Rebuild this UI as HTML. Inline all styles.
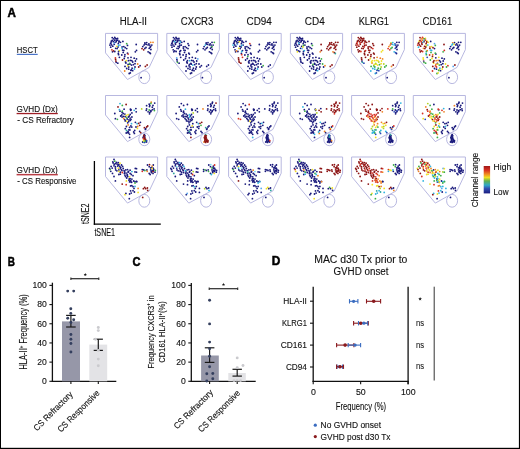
<!DOCTYPE html>
<html><head><meta charset="utf-8"><style>
html,body{margin:0;padding:0;background:#fff;}
svg{display:block;font-family:"Liberation Sans", sans-serif;will-change:transform;}
</style></head><body>
<svg width="520" height="449" viewBox="0 0 520 449">
<rect x="0" y="0" width="520" height="1" fill="#000"/>
<rect x="0" y="0" width="1" height="449" fill="#000"/>
<rect x="518.9" y="0" width="1.1" height="449" fill="#000"/>
<rect x="0" y="447.8" width="520" height="1.2" fill="#000"/>
<text x="7.4" y="17.0" font-size="12" textLength="8.4" lengthAdjust="spacingAndGlyphs" font-weight="bold" stroke="#000" stroke-width="0.5">A</text>
<text x="7.8" y="265.8" font-size="12" textLength="7.2" lengthAdjust="spacingAndGlyphs" font-weight="bold" stroke="#000" stroke-width="0.5">B</text>
<text x="132.4" y="265.9" font-size="12" textLength="8.0" lengthAdjust="spacingAndGlyphs" font-weight="bold" stroke="#000" stroke-width="0.5">C</text>
<text x="271.8" y="264.8" font-size="12" textLength="8.6" lengthAdjust="spacingAndGlyphs" font-weight="bold" stroke="#000" stroke-width="0.5">D</text>
<text x="119.7" y="25.0" font-size="10" textLength="27.3" lengthAdjust="spacingAndGlyphs" fill="#111" stroke="#111" stroke-width="0.12">HLA-II</text>
<text x="180.8" y="25.0" font-size="10" textLength="32.6" lengthAdjust="spacingAndGlyphs" fill="#111" stroke="#111" stroke-width="0.12">CXCR3</text>
<text x="246.5" y="25.0" font-size="10" textLength="25.3" lengthAdjust="spacingAndGlyphs" fill="#111" stroke="#111" stroke-width="0.12">CD94</text>
<text x="304.8" y="25.0" font-size="10" textLength="19.9" lengthAdjust="spacingAndGlyphs" fill="#111" stroke="#111" stroke-width="0.12">CD4</text>
<text x="358.7" y="25.0" font-size="10" textLength="30.3" lengthAdjust="spacingAndGlyphs" fill="#111" stroke="#111" stroke-width="0.12">KLRG1</text>
<text x="422.5" y="25.0" font-size="10" textLength="29.7" lengthAdjust="spacingAndGlyphs" fill="#111" stroke="#111" stroke-width="0.12">CD161</text>
<text x="16.8" y="52.7" font-size="8.7" textLength="20.9" lengthAdjust="spacingAndGlyphs" fill="#111" stroke="#111" stroke-width="0.12">HSCT</text>
<rect x="16.8" y="53.8" width="20.9" height="1.2" fill="#4a74c8"/>
<text x="16.6" y="111.8" font-size="8.7" textLength="41.2" lengthAdjust="spacingAndGlyphs" fill="#111" stroke="#111" stroke-width="0.12">GVHD (Dx)</text>
<rect x="16.6" y="112.9" width="41.2" height="1.3" fill="#9e1e26"/>
<text x="17.2" y="123.0" font-size="9.2" textLength="56.6" lengthAdjust="spacingAndGlyphs" fill="#111" stroke="#111" stroke-width="0.12">- CS Refractory</text>
<text x="16.6" y="173.1" font-size="8.7" textLength="41.2" lengthAdjust="spacingAndGlyphs" fill="#111" stroke="#111" stroke-width="0.12">GVHD (Dx)</text>
<rect x="16.6" y="173.9" width="41.2" height="1.5" fill="#b83c44"/>
<text x="17.2" y="183.9" font-size="9.2" textLength="59.3" lengthAdjust="spacingAndGlyphs" fill="#111" stroke="#111" stroke-width="0.12">- CS Responsive</text>
<line x1="94.4" y1="161" x2="94.4" y2="224.8" stroke="#000" stroke-width="1.3"/>
<line x1="93.8" y1="224.2" x2="160.8" y2="224.2" stroke="#000" stroke-width="1.3"/>
<text x="94.4" y="236.1" font-size="10" textLength="20.6" lengthAdjust="spacingAndGlyphs" fill="#111" stroke="#111" stroke-width="0.12">tSNE1</text>
<text x="89.0" y="224.1" font-size="10" textLength="20.6" lengthAdjust="spacingAndGlyphs" fill="#111" transform="rotate(-90 89.0 224.1)" stroke="#111" stroke-width="0.12">tSNE2</text>
<g transform="translate(105.5 33.4)"><path d="M0,0 H52.1 V16.2 L43.7,34 L22,46.1 L0,19.5 Z" fill="none" stroke="#b4b4de" stroke-width="0.95"/><ellipse cx="38.8" cy="43.8" rx="5.5" ry="6.4" fill="none" stroke="#b4b4de" stroke-width="0.95"/></g>
<g transform="translate(166.8 33.4)"><path d="M0,0 H52.6 V16.2 L44.2,34 L22,46.1 L0,19.5 Z" fill="none" stroke="#b4b4de" stroke-width="0.95"/><ellipse cx="39.3" cy="43.8" rx="5.5" ry="6.4" fill="none" stroke="#b4b4de" stroke-width="0.95"/></g>
<g transform="translate(228.6 33.4)"><path d="M0,0 H52.6 V16.2 L44.2,34 L22,46.1 L0,19.5 Z" fill="none" stroke="#b4b4de" stroke-width="0.95"/><ellipse cx="39.3" cy="43.8" rx="5.5" ry="6.4" fill="none" stroke="#b4b4de" stroke-width="0.95"/></g>
<g transform="translate(290.4 33.4)"><path d="M0,0 H52.2 V16.2 L43.8,34 L22,46.1 L0,19.5 Z" fill="none" stroke="#b4b4de" stroke-width="0.95"/><ellipse cx="38.9" cy="43.8" rx="5.5" ry="6.4" fill="none" stroke="#b4b4de" stroke-width="0.95"/></g>
<g transform="translate(351.6 33.4)"><path d="M0,0 H52.8 V16.2 L44.4,34 L22,46.1 L0,19.5 Z" fill="none" stroke="#b4b4de" stroke-width="0.95"/><ellipse cx="39.5" cy="43.8" rx="5.5" ry="6.4" fill="none" stroke="#b4b4de" stroke-width="0.95"/></g>
<g transform="translate(413.3 33.4)"><path d="M0,0 H52.1 V16.2 L43.7,34 L22,46.1 L0,19.5 Z" fill="none" stroke="#b4b4de" stroke-width="0.95"/><ellipse cx="38.8" cy="43.8" rx="5.5" ry="6.4" fill="none" stroke="#b4b4de" stroke-width="0.95"/></g>
<g transform="translate(105.5 95.5)"><path d="M0,0 H52.1 V16.2 L43.7,34 L22,46.1 L0,19.5 Z" fill="none" stroke="#b4b4de" stroke-width="0.95"/><ellipse cx="38.8" cy="43.8" rx="5.5" ry="6.4" fill="none" stroke="#b4b4de" stroke-width="0.95"/></g>
<g transform="translate(166.8 95.5)"><path d="M0,0 H52.6 V16.2 L44.2,34 L22,46.1 L0,19.5 Z" fill="none" stroke="#b4b4de" stroke-width="0.95"/><ellipse cx="39.3" cy="43.8" rx="5.5" ry="6.4" fill="none" stroke="#b4b4de" stroke-width="0.95"/></g>
<g transform="translate(228.6 95.5)"><path d="M0,0 H52.6 V16.2 L44.2,34 L22,46.1 L0,19.5 Z" fill="none" stroke="#b4b4de" stroke-width="0.95"/><ellipse cx="39.3" cy="43.8" rx="5.5" ry="6.4" fill="none" stroke="#b4b4de" stroke-width="0.95"/></g>
<g transform="translate(290.4 95.5)"><path d="M0,0 H52.2 V16.2 L43.8,34 L22,46.1 L0,19.5 Z" fill="none" stroke="#b4b4de" stroke-width="0.95"/><ellipse cx="38.9" cy="43.8" rx="5.5" ry="6.4" fill="none" stroke="#b4b4de" stroke-width="0.95"/></g>
<g transform="translate(351.6 95.5)"><path d="M0,0 H52.8 V16.2 L44.4,34 L22,46.1 L0,19.5 Z" fill="none" stroke="#b4b4de" stroke-width="0.95"/><ellipse cx="39.5" cy="43.8" rx="5.5" ry="6.4" fill="none" stroke="#b4b4de" stroke-width="0.95"/></g>
<g transform="translate(413.3 95.5)"><path d="M0,0 H52.1 V16.2 L43.7,34 L22,46.1 L0,19.5 Z" fill="none" stroke="#b4b4de" stroke-width="0.95"/><ellipse cx="38.8" cy="43.8" rx="5.5" ry="6.4" fill="none" stroke="#b4b4de" stroke-width="0.95"/></g>
<g transform="translate(105.5 157.0)"><path d="M0,0 H52.1 V16.2 L43.7,34 L22,46.1 L0,19.5 Z" fill="none" stroke="#b4b4de" stroke-width="0.95"/><ellipse cx="38.8" cy="43.8" rx="5.5" ry="6.4" fill="none" stroke="#b4b4de" stroke-width="0.95"/></g>
<g transform="translate(166.8 157.0)"><path d="M0,0 H52.6 V16.2 L44.2,34 L22,46.1 L0,19.5 Z" fill="none" stroke="#b4b4de" stroke-width="0.95"/><ellipse cx="39.3" cy="43.8" rx="5.5" ry="6.4" fill="none" stroke="#b4b4de" stroke-width="0.95"/></g>
<g transform="translate(228.6 157.0)"><path d="M0,0 H52.6 V16.2 L44.2,34 L22,46.1 L0,19.5 Z" fill="none" stroke="#b4b4de" stroke-width="0.95"/><ellipse cx="39.3" cy="43.8" rx="5.5" ry="6.4" fill="none" stroke="#b4b4de" stroke-width="0.95"/></g>
<g transform="translate(290.4 157.0)"><path d="M0,0 H52.2 V16.2 L43.8,34 L22,46.1 L0,19.5 Z" fill="none" stroke="#b4b4de" stroke-width="0.95"/><ellipse cx="38.9" cy="43.8" rx="5.5" ry="6.4" fill="none" stroke="#b4b4de" stroke-width="0.95"/></g>
<g transform="translate(351.6 157.0)"><path d="M0,0 H52.8 V16.2 L44.4,34 L22,46.1 L0,19.5 Z" fill="none" stroke="#b4b4de" stroke-width="0.95"/><ellipse cx="39.5" cy="43.8" rx="5.5" ry="6.4" fill="none" stroke="#b4b4de" stroke-width="0.95"/></g>
<g transform="translate(413.3 157.0)"><path d="M0,0 H52.1 V16.2 L43.7,34 L22,46.1 L0,19.5 Z" fill="none" stroke="#b4b4de" stroke-width="0.95"/><ellipse cx="38.8" cy="43.8" rx="5.5" ry="6.4" fill="none" stroke="#b4b4de" stroke-width="0.95"/></g>
<g transform="translate(105.5 33.4)"><circle cx="5.0" cy="10.0" r="0.9" fill="#1a1a7c"/><circle cx="5.8" cy="7.8" r="0.9" fill="#1a1a7c"/><circle cx="7.9" cy="5.4" r="0.9" fill="#1a1a7c"/><circle cx="10.8" cy="8.3" r="0.9" fill="#1a1a7c"/><circle cx="8.7" cy="10.9" r="0.9" fill="#1a1a7c"/><circle cx="7.3" cy="12.8" r="0.9" fill="#1a1a7c"/><circle cx="12.5" cy="13.6" r="0.9" fill="#1a1a7c"/><circle cx="9.2" cy="4.1" r="0.9" fill="#1a1a7c"/><circle cx="5.2" cy="13.8" r="0.9" fill="#1a1a7c"/><circle cx="15.0" cy="8.9" r="0.9" fill="#1a1a7c"/><circle cx="12.1" cy="4.9" r="0.9" fill="#1a1a7c"/><circle cx="9.5" cy="8.9" r="0.9" fill="#1a1a7c"/><circle cx="41.2" cy="9.2" r="0.9" fill="#1a1a7c"/><circle cx="43.4" cy="10.4" r="0.9" fill="#1a1a7c"/><circle cx="44.6" cy="13.8" r="0.9" fill="#1a1a7c"/><circle cx="39.4" cy="15.0" r="0.9" fill="#1a1a7c"/><circle cx="18.7" cy="25.1" r="0.9" fill="#1a1a7c"/><circle cx="20.4" cy="29.6" r="0.9" fill="#1a1a7c"/><circle cx="24.5" cy="30.8" r="0.9" fill="#1a1a7c"/><circle cx="21.2" cy="35.1" r="0.9" fill="#1a1a7c"/><circle cx="20.0" cy="28.6" r="0.9" fill="#1a1a7c"/><circle cx="27.2" cy="28.6" r="0.9" fill="#1a1a7c"/><circle cx="25.9" cy="36.4" r="0.9" fill="#1a1a7c"/><circle cx="23.7" cy="40.1" r="0.9" fill="#1a1a7c"/><circle cx="22.5" cy="24.4" r="0.9" fill="#1a1a7c"/><circle cx="6.7" cy="4.2" r="0.9" fill="#1a1a7c"/><circle cx="9.9" cy="5.1" r="0.9" fill="#1a1a7c"/><circle cx="11.1" cy="5.4" r="0.9" fill="#1a1a7c"/><circle cx="6.7" cy="7.1" r="0.9" fill="#1a1a7c"/><circle cx="9.0" cy="6.8" r="0.9" fill="#1a1a7c"/><circle cx="10.8" cy="7.1" r="0.9" fill="#1a1a7c"/><circle cx="12.2" cy="6.8" r="0.9" fill="#1a1a7c"/><circle cx="13.7" cy="7.7" r="0.9" fill="#1a1a7c"/><circle cx="7.9" cy="8.3" r="0.9" fill="#1a1a7c"/><circle cx="13.4" cy="8.6" r="0.9" fill="#1a1a7c"/><circle cx="17.4" cy="8.0" r="0.9" fill="#1a1a7c"/><circle cx="5.6" cy="9.4" r="0.9" fill="#1a1a7c"/><circle cx="4.4" cy="11.7" r="0.9" fill="#1a1a7c"/><circle cx="6.1" cy="11.5" r="0.9" fill="#1a1a7c"/><circle cx="12.8" cy="10.3" r="0.9" fill="#1a1a7c"/><circle cx="22.0" cy="12.0" r="0.9" fill="#1a1a7c"/><circle cx="16.6" cy="13.5" r="0.9" fill="#1a1a7c"/><circle cx="18.3" cy="13.2" r="0.9" fill="#1a1a7c"/><circle cx="19.7" cy="14.3" r="0.9" fill="#1a1a7c"/><circle cx="21.2" cy="15.2" r="0.9" fill="#1a1a7c"/><circle cx="10.2" cy="14.9" r="0.9" fill="#1a1a7c"/><circle cx="11.6" cy="15.2" r="0.9" fill="#1a1a7c"/><circle cx="9.3" cy="18.1" r="0.9" fill="#1a1a7c"/><circle cx="7.0" cy="18.4" r="0.9" fill="#1a1a7c"/><circle cx="13.1" cy="18.1" r="0.9" fill="#1a1a7c"/><circle cx="17.1" cy="16.7" r="0.9" fill="#1a1a7c"/><circle cx="18.3" cy="17.0" r="0.9" fill="#1a1a7c"/><circle cx="17.7" cy="19.0" r="0.9" fill="#1a1a7c"/><circle cx="12.8" cy="20.1" r="0.9" fill="#1a1a7c"/><circle cx="13.1" cy="21.3" r="0.9" fill="#1a1a7c"/><circle cx="16.3" cy="21.6" r="0.9" fill="#1a1a7c"/><circle cx="19.4" cy="21.3" r="0.9" fill="#1a1a7c"/><circle cx="22.0" cy="19.8" r="0.9" fill="#1a1a7c"/><circle cx="19.2" cy="23.0" r="0.9" fill="#1a1a7c"/><circle cx="13.9" cy="23.9" r="0.9" fill="#1a1a7c"/><circle cx="25.5" cy="23.9" r="0.9" fill="#1a1a7c"/><circle cx="30.7" cy="11.1" r="0.9" fill="#1a1a7c"/><circle cx="31.0" cy="17.0" r="0.9" fill="#1a1a7c"/><circle cx="29.8" cy="18.4" r="0.9" fill="#1a1a7c"/><circle cx="39.4" cy="9.4" r="0.9" fill="#1a1a7c"/><circle cx="39.4" cy="10.6" r="0.9" fill="#1a1a7c"/><circle cx="40.8" cy="10.9" r="0.9" fill="#1a1a7c"/><circle cx="42.6" cy="11.5" r="0.9" fill="#1a1a7c"/><circle cx="44.3" cy="11.7" r="0.9" fill="#1a1a7c"/><circle cx="46.3" cy="11.7" r="0.9" fill="#1a1a7c"/><circle cx="45.2" cy="13.2" r="0.9" fill="#1a1a7c"/><circle cx="38.5" cy="11.7" r="0.9" fill="#1a1a7c"/><circle cx="37.3" cy="13.2" r="0.9" fill="#1a1a7c"/><circle cx="40.5" cy="14.1" r="0.9" fill="#1a1a7c"/><circle cx="43.7" cy="14.9" r="0.9" fill="#1a1a7c"/><circle cx="45.4" cy="16.1" r="0.9" fill="#1a1a7c"/><circle cx="42.6" cy="18.4" r="0.9" fill="#1a1a7c"/><circle cx="44.0" cy="19.3" r="0.9" fill="#1a1a7c"/><circle cx="44.9" cy="20.1" r="0.9" fill="#1a1a7c"/><circle cx="28.7" cy="24.8" r="0.9" fill="#1a1a7c"/><circle cx="31.0" cy="25.5" r="0.9" fill="#1a1a7c"/><circle cx="10.7" cy="28.9" r="0.9" fill="#1a1a7c"/><circle cx="12.3" cy="29.8" r="0.9" fill="#1a1a7c"/><circle cx="22.9" cy="27.3" r="0.9" fill="#1a1a7c"/><circle cx="24.8" cy="27.0" r="0.9" fill="#1a1a7c"/><circle cx="26.3" cy="27.3" r="0.9" fill="#1a1a7c"/><circle cx="22.6" cy="31.1" r="0.9" fill="#1a1a7c"/><circle cx="26.0" cy="31.7" r="0.9" fill="#1a1a7c"/><circle cx="19.5" cy="33.0" r="0.9" fill="#1a1a7c"/><circle cx="23.2" cy="33.6" r="0.9" fill="#1a1a7c"/><circle cx="23.2" cy="35.8" r="0.9" fill="#1a1a7c"/><circle cx="26.6" cy="34.8" r="0.9" fill="#1a1a7c"/><circle cx="25.4" cy="37.0" r="0.9" fill="#1a1a7c"/><circle cx="24.8" cy="39.5" r="0.9" fill="#1a1a7c"/><circle cx="29.9" cy="27.6" r="0.9" fill="#1a1a7c"/><circle cx="29.5" cy="30.3" r="0.9" fill="#1a1a7c"/><circle cx="27.9" cy="31.3" r="0.9" fill="#1a1a7c"/><circle cx="29.5" cy="33.6" r="0.9" fill="#1a1a7c"/><circle cx="27.2" cy="37.3" r="0.9" fill="#1a1a7c"/><circle cx="34.6" cy="32.3" r="0.9" fill="#1a1a7c"/><circle cx="35.6" cy="44.3" r="0.9" fill="#1a1a7c"/><circle cx="22.2" cy="32.4" r="0.9" fill="#f0e024"/><circle cx="8.5" cy="9.7" r="0.9" fill="#5aa8f0"/><circle cx="21.2" cy="10.3" r="0.9" fill="#3cae48"/><circle cx="11.3" cy="12.9" r="0.9" fill="#f0e024"/><circle cx="14.5" cy="11.7" r="0.9" fill="#5aa8f0"/><circle cx="13.1" cy="12.0" r="0.9" fill="#30b4e0"/><circle cx="16.6" cy="14.9" r="0.9" fill="#30b4e0"/><circle cx="6.4" cy="16.4" r="0.9" fill="#d83224"/><circle cx="7.9" cy="17.5" r="0.9" fill="#8c1414"/><circle cx="13.9" cy="17.2" r="0.9" fill="#f0e024"/><circle cx="22.6" cy="20.7" r="0.9" fill="#d83224"/><circle cx="9.9" cy="24.5" r="0.9" fill="#d83224"/><circle cx="45.2" cy="8.9" r="0.9" fill="#f08424"/><circle cx="47.5" cy="8.9" r="0.9" fill="#f08424"/><circle cx="36.5" cy="15.2" r="0.9" fill="#8c1414"/><circle cx="38.2" cy="16.4" r="0.9" fill="#8c1414"/><circle cx="10.1" cy="26.1" r="0.9" fill="#8c1414"/><circle cx="10.4" cy="27.7" r="0.9" fill="#8c1414"/><circle cx="17.0" cy="26.6" r="0.9" fill="#8c1414"/><circle cx="20.7" cy="27.3" r="0.9" fill="#f0e024"/><circle cx="24.1" cy="30.1" r="0.9" fill="#3cae48"/><circle cx="19.2" cy="37.6" r="0.9" fill="#f08424"/><circle cx="32.2" cy="30.6" r="0.9" fill="#f08424"/><circle cx="28.9" cy="35.6" r="0.9" fill="#30b4e0"/><circle cx="33.2" cy="33.6" r="0.9" fill="#8c1414"/><circle cx="39.9" cy="33.0" r="0.9" fill="#8c1414"/><circle cx="41.6" cy="31.6" r="0.9" fill="#8c1414"/></g>
<g transform="translate(166.8 33.4)"><circle cx="5.0" cy="10.0" r="0.9" fill="#1a1a7c"/><circle cx="5.8" cy="7.8" r="0.9" fill="#1a1a7c"/><circle cx="7.9" cy="5.4" r="0.9" fill="#1a1a7c"/><circle cx="10.8" cy="8.3" r="0.9" fill="#1a1a7c"/><circle cx="8.7" cy="10.9" r="0.9" fill="#1a1a7c"/><circle cx="7.3" cy="12.8" r="0.9" fill="#1a1a7c"/><circle cx="12.5" cy="13.6" r="0.9" fill="#1a1a7c"/><circle cx="9.2" cy="4.1" r="0.9" fill="#1a1a7c"/><circle cx="5.2" cy="13.8" r="0.9" fill="#1a1a7c"/><circle cx="15.0" cy="8.9" r="0.9" fill="#1a1a7c"/><circle cx="12.1" cy="4.9" r="0.9" fill="#1a1a7c"/><circle cx="9.5" cy="8.9" r="0.9" fill="#1a1a7c"/><circle cx="41.2" cy="9.2" r="0.9" fill="#1a1a7c"/><circle cx="43.4" cy="10.4" r="0.9" fill="#1a1a7c"/><circle cx="44.6" cy="13.8" r="0.9" fill="#1a1a7c"/><circle cx="39.4" cy="15.0" r="0.9" fill="#1a1a7c"/><circle cx="18.7" cy="25.1" r="0.9" fill="#1a1a7c"/><circle cx="20.4" cy="29.6" r="0.9" fill="#1a1a7c"/><circle cx="22.2" cy="32.4" r="0.9" fill="#1a1a7c"/><circle cx="24.5" cy="30.8" r="0.9" fill="#1a1a7c"/><circle cx="21.2" cy="35.1" r="0.9" fill="#1a1a7c"/><circle cx="20.0" cy="28.6" r="0.9" fill="#1a1a7c"/><circle cx="27.2" cy="28.6" r="0.9" fill="#1a1a7c"/><circle cx="25.9" cy="36.4" r="0.9" fill="#1a1a7c"/><circle cx="23.7" cy="40.1" r="0.9" fill="#1a1a7c"/><circle cx="22.5" cy="24.4" r="0.9" fill="#1a1a7c"/><circle cx="6.7" cy="4.2" r="0.9" fill="#1a1a7c"/><circle cx="9.9" cy="5.1" r="0.9" fill="#1a1a7c"/><circle cx="11.1" cy="5.4" r="0.9" fill="#1a1a7c"/><circle cx="6.7" cy="7.1" r="0.9" fill="#1a1a7c"/><circle cx="9.0" cy="6.8" r="0.9" fill="#1a1a7c"/><circle cx="10.8" cy="7.1" r="0.9" fill="#1a1a7c"/><circle cx="12.2" cy="6.8" r="0.9" fill="#1a1a7c"/><circle cx="13.7" cy="7.7" r="0.9" fill="#1a1a7c"/><circle cx="17.4" cy="8.0" r="0.9" fill="#1a1a7c"/><circle cx="5.6" cy="9.4" r="0.9" fill="#1a1a7c"/><circle cx="8.5" cy="9.7" r="0.9" fill="#1a1a7c"/><circle cx="4.4" cy="11.7" r="0.9" fill="#1a1a7c"/><circle cx="6.1" cy="11.5" r="0.9" fill="#1a1a7c"/><circle cx="12.8" cy="10.3" r="0.9" fill="#1a1a7c"/><circle cx="21.2" cy="10.3" r="0.9" fill="#1a1a7c"/><circle cx="22.0" cy="12.0" r="0.9" fill="#1a1a7c"/><circle cx="11.3" cy="12.9" r="0.9" fill="#1a1a7c"/><circle cx="14.5" cy="11.7" r="0.9" fill="#1a1a7c"/><circle cx="13.1" cy="12.0" r="0.9" fill="#1a1a7c"/><circle cx="16.6" cy="13.5" r="0.9" fill="#1a1a7c"/><circle cx="18.3" cy="13.2" r="0.9" fill="#1a1a7c"/><circle cx="19.7" cy="14.3" r="0.9" fill="#1a1a7c"/><circle cx="21.2" cy="15.2" r="0.9" fill="#1a1a7c"/><circle cx="10.2" cy="14.9" r="0.9" fill="#1a1a7c"/><circle cx="11.6" cy="15.2" r="0.9" fill="#1a1a7c"/><circle cx="16.6" cy="14.9" r="0.9" fill="#1a1a7c"/><circle cx="6.4" cy="16.4" r="0.9" fill="#1a1a7c"/><circle cx="7.9" cy="17.5" r="0.9" fill="#1a1a7c"/><circle cx="9.3" cy="18.1" r="0.9" fill="#1a1a7c"/><circle cx="7.0" cy="18.4" r="0.9" fill="#1a1a7c"/><circle cx="13.9" cy="17.2" r="0.9" fill="#1a1a7c"/><circle cx="13.1" cy="18.1" r="0.9" fill="#1a1a7c"/><circle cx="17.1" cy="16.7" r="0.9" fill="#1a1a7c"/><circle cx="18.3" cy="17.0" r="0.9" fill="#1a1a7c"/><circle cx="17.7" cy="19.0" r="0.9" fill="#1a1a7c"/><circle cx="12.8" cy="20.1" r="0.9" fill="#1a1a7c"/><circle cx="13.1" cy="21.3" r="0.9" fill="#1a1a7c"/><circle cx="16.3" cy="21.6" r="0.9" fill="#1a1a7c"/><circle cx="19.4" cy="21.3" r="0.9" fill="#1a1a7c"/><circle cx="22.0" cy="19.8" r="0.9" fill="#1a1a7c"/><circle cx="22.6" cy="20.7" r="0.9" fill="#1a1a7c"/><circle cx="19.2" cy="23.0" r="0.9" fill="#1a1a7c"/><circle cx="13.9" cy="23.9" r="0.9" fill="#1a1a7c"/><circle cx="25.5" cy="23.9" r="0.9" fill="#1a1a7c"/><circle cx="30.7" cy="11.1" r="0.9" fill="#1a1a7c"/><circle cx="31.0" cy="17.0" r="0.9" fill="#1a1a7c"/><circle cx="29.8" cy="18.4" r="0.9" fill="#1a1a7c"/><circle cx="39.4" cy="9.4" r="0.9" fill="#1a1a7c"/><circle cx="39.4" cy="10.6" r="0.9" fill="#1a1a7c"/><circle cx="40.8" cy="10.9" r="0.9" fill="#1a1a7c"/><circle cx="42.6" cy="11.5" r="0.9" fill="#1a1a7c"/><circle cx="44.3" cy="11.7" r="0.9" fill="#1a1a7c"/><circle cx="46.3" cy="11.7" r="0.9" fill="#1a1a7c"/><circle cx="45.2" cy="8.9" r="0.9" fill="#1a1a7c"/><circle cx="37.3" cy="13.2" r="0.9" fill="#1a1a7c"/><circle cx="40.5" cy="14.1" r="0.9" fill="#1a1a7c"/><circle cx="36.5" cy="15.2" r="0.9" fill="#1a1a7c"/><circle cx="38.2" cy="16.4" r="0.9" fill="#1a1a7c"/><circle cx="43.7" cy="14.9" r="0.9" fill="#1a1a7c"/><circle cx="45.4" cy="16.1" r="0.9" fill="#1a1a7c"/><circle cx="42.6" cy="18.4" r="0.9" fill="#1a1a7c"/><circle cx="44.0" cy="19.3" r="0.9" fill="#1a1a7c"/><circle cx="44.9" cy="20.1" r="0.9" fill="#1a1a7c"/><circle cx="28.7" cy="24.8" r="0.9" fill="#1a1a7c"/><circle cx="10.1" cy="26.1" r="0.9" fill="#1a1a7c"/><circle cx="10.4" cy="27.7" r="0.9" fill="#1a1a7c"/><circle cx="12.3" cy="29.8" r="0.9" fill="#1a1a7c"/><circle cx="17.0" cy="26.6" r="0.9" fill="#1a1a7c"/><circle cx="20.7" cy="27.3" r="0.9" fill="#1a1a7c"/><circle cx="24.8" cy="27.0" r="0.9" fill="#1a1a7c"/><circle cx="26.3" cy="27.3" r="0.9" fill="#1a1a7c"/><circle cx="22.6" cy="31.1" r="0.9" fill="#1a1a7c"/><circle cx="24.1" cy="30.1" r="0.9" fill="#1a1a7c"/><circle cx="19.5" cy="33.0" r="0.9" fill="#1a1a7c"/><circle cx="23.2" cy="33.6" r="0.9" fill="#1a1a7c"/><circle cx="23.2" cy="35.8" r="0.9" fill="#1a1a7c"/><circle cx="26.6" cy="34.8" r="0.9" fill="#1a1a7c"/><circle cx="25.4" cy="37.0" r="0.9" fill="#1a1a7c"/><circle cx="19.2" cy="37.6" r="0.9" fill="#1a1a7c"/><circle cx="24.8" cy="39.5" r="0.9" fill="#1a1a7c"/><circle cx="29.9" cy="27.6" r="0.9" fill="#1a1a7c"/><circle cx="29.5" cy="30.3" r="0.9" fill="#1a1a7c"/><circle cx="32.2" cy="30.6" r="0.9" fill="#1a1a7c"/><circle cx="27.9" cy="31.3" r="0.9" fill="#1a1a7c"/><circle cx="29.5" cy="33.6" r="0.9" fill="#1a1a7c"/><circle cx="28.9" cy="35.6" r="0.9" fill="#1a1a7c"/><circle cx="27.2" cy="37.3" r="0.9" fill="#1a1a7c"/><circle cx="33.2" cy="33.6" r="0.9" fill="#1a1a7c"/><circle cx="34.6" cy="32.3" r="0.9" fill="#1a1a7c"/><circle cx="39.9" cy="33.0" r="0.9" fill="#1a1a7c"/><circle cx="41.6" cy="31.6" r="0.9" fill="#1a1a7c"/><circle cx="35.6" cy="44.3" r="0.9" fill="#1a1a7c"/><circle cx="7.9" cy="8.3" r="0.9" fill="#30b4e0"/><circle cx="13.4" cy="8.6" r="0.9" fill="#30b4e0"/><circle cx="9.9" cy="24.5" r="0.9" fill="#5aa8f0"/><circle cx="47.5" cy="8.9" r="0.9" fill="#3cae48"/><circle cx="45.2" cy="13.2" r="0.9" fill="#3cae48"/><circle cx="38.5" cy="11.7" r="0.9" fill="#30b4e0"/><circle cx="31.0" cy="25.5" r="0.9" fill="#5aa8f0"/><circle cx="10.7" cy="28.9" r="0.9" fill="#3cae48"/><circle cx="22.9" cy="27.3" r="0.9" fill="#30b4e0"/><circle cx="26.0" cy="31.7" r="0.9" fill="#30b4e0"/></g>
<g transform="translate(228.6 33.4)"><circle cx="5.0" cy="10.0" r="0.9" fill="#1a1a7c"/><circle cx="5.8" cy="7.8" r="0.9" fill="#1a1a7c"/><circle cx="7.9" cy="5.4" r="0.9" fill="#1a1a7c"/><circle cx="7.3" cy="12.8" r="0.9" fill="#1a1a7c"/><circle cx="12.5" cy="13.6" r="0.9" fill="#1a1a7c"/><circle cx="9.2" cy="4.1" r="0.9" fill="#1a1a7c"/><circle cx="5.2" cy="13.8" r="0.9" fill="#1a1a7c"/><circle cx="15.0" cy="8.9" r="0.9" fill="#1a1a7c"/><circle cx="12.1" cy="4.9" r="0.9" fill="#1a1a7c"/><circle cx="9.5" cy="8.9" r="0.9" fill="#1a1a7c"/><circle cx="41.2" cy="9.2" r="0.9" fill="#1a1a7c"/><circle cx="43.4" cy="10.4" r="0.9" fill="#1a1a7c"/><circle cx="44.6" cy="13.8" r="0.9" fill="#1a1a7c"/><circle cx="39.4" cy="15.0" r="0.9" fill="#1a1a7c"/><circle cx="18.7" cy="25.1" r="0.9" fill="#1a1a7c"/><circle cx="20.4" cy="29.6" r="0.9" fill="#1a1a7c"/><circle cx="22.2" cy="32.4" r="0.9" fill="#1a1a7c"/><circle cx="24.5" cy="30.8" r="0.9" fill="#1a1a7c"/><circle cx="21.2" cy="35.1" r="0.9" fill="#1a1a7c"/><circle cx="20.0" cy="28.6" r="0.9" fill="#1a1a7c"/><circle cx="27.2" cy="28.6" r="0.9" fill="#1a1a7c"/><circle cx="25.9" cy="36.4" r="0.9" fill="#1a1a7c"/><circle cx="23.7" cy="40.1" r="0.9" fill="#1a1a7c"/><circle cx="22.5" cy="24.4" r="0.9" fill="#1a1a7c"/><circle cx="6.7" cy="4.2" r="0.9" fill="#1a1a7c"/><circle cx="9.9" cy="5.1" r="0.9" fill="#1a1a7c"/><circle cx="11.1" cy="5.4" r="0.9" fill="#1a1a7c"/><circle cx="6.7" cy="7.1" r="0.9" fill="#1a1a7c"/><circle cx="9.0" cy="6.8" r="0.9" fill="#1a1a7c"/><circle cx="10.8" cy="7.1" r="0.9" fill="#1a1a7c"/><circle cx="12.2" cy="6.8" r="0.9" fill="#1a1a7c"/><circle cx="13.7" cy="7.7" r="0.9" fill="#1a1a7c"/><circle cx="7.9" cy="8.3" r="0.9" fill="#1a1a7c"/><circle cx="13.4" cy="8.6" r="0.9" fill="#1a1a7c"/><circle cx="17.4" cy="8.0" r="0.9" fill="#1a1a7c"/><circle cx="5.6" cy="9.4" r="0.9" fill="#1a1a7c"/><circle cx="8.5" cy="9.7" r="0.9" fill="#1a1a7c"/><circle cx="6.1" cy="11.5" r="0.9" fill="#1a1a7c"/><circle cx="12.8" cy="10.3" r="0.9" fill="#1a1a7c"/><circle cx="22.0" cy="12.0" r="0.9" fill="#1a1a7c"/><circle cx="11.3" cy="12.9" r="0.9" fill="#1a1a7c"/><circle cx="14.5" cy="11.7" r="0.9" fill="#1a1a7c"/><circle cx="16.6" cy="13.5" r="0.9" fill="#1a1a7c"/><circle cx="18.3" cy="13.2" r="0.9" fill="#1a1a7c"/><circle cx="19.7" cy="14.3" r="0.9" fill="#1a1a7c"/><circle cx="21.2" cy="15.2" r="0.9" fill="#1a1a7c"/><circle cx="11.6" cy="15.2" r="0.9" fill="#1a1a7c"/><circle cx="16.6" cy="14.9" r="0.9" fill="#1a1a7c"/><circle cx="6.4" cy="16.4" r="0.9" fill="#1a1a7c"/><circle cx="9.3" cy="18.1" r="0.9" fill="#1a1a7c"/><circle cx="7.0" cy="18.4" r="0.9" fill="#1a1a7c"/><circle cx="13.9" cy="17.2" r="0.9" fill="#1a1a7c"/><circle cx="17.1" cy="16.7" r="0.9" fill="#1a1a7c"/><circle cx="18.3" cy="17.0" r="0.9" fill="#1a1a7c"/><circle cx="17.7" cy="19.0" r="0.9" fill="#1a1a7c"/><circle cx="12.8" cy="20.1" r="0.9" fill="#1a1a7c"/><circle cx="16.3" cy="21.6" r="0.9" fill="#1a1a7c"/><circle cx="19.4" cy="21.3" r="0.9" fill="#1a1a7c"/><circle cx="22.0" cy="19.8" r="0.9" fill="#1a1a7c"/><circle cx="22.6" cy="20.7" r="0.9" fill="#1a1a7c"/><circle cx="25.5" cy="23.9" r="0.9" fill="#1a1a7c"/><circle cx="30.7" cy="11.1" r="0.9" fill="#1a1a7c"/><circle cx="31.0" cy="17.0" r="0.9" fill="#1a1a7c"/><circle cx="29.8" cy="18.4" r="0.9" fill="#1a1a7c"/><circle cx="39.4" cy="9.4" r="0.9" fill="#1a1a7c"/><circle cx="39.4" cy="10.6" r="0.9" fill="#1a1a7c"/><circle cx="40.8" cy="10.9" r="0.9" fill="#1a1a7c"/><circle cx="42.6" cy="11.5" r="0.9" fill="#1a1a7c"/><circle cx="44.3" cy="11.7" r="0.9" fill="#1a1a7c"/><circle cx="46.3" cy="11.7" r="0.9" fill="#1a1a7c"/><circle cx="45.2" cy="8.9" r="0.9" fill="#1a1a7c"/><circle cx="47.5" cy="8.9" r="0.9" fill="#1a1a7c"/><circle cx="45.2" cy="13.2" r="0.9" fill="#1a1a7c"/><circle cx="38.5" cy="11.7" r="0.9" fill="#1a1a7c"/><circle cx="37.3" cy="13.2" r="0.9" fill="#1a1a7c"/><circle cx="40.5" cy="14.1" r="0.9" fill="#1a1a7c"/><circle cx="36.5" cy="15.2" r="0.9" fill="#1a1a7c"/><circle cx="38.2" cy="16.4" r="0.9" fill="#1a1a7c"/><circle cx="43.7" cy="14.9" r="0.9" fill="#1a1a7c"/><circle cx="45.4" cy="16.1" r="0.9" fill="#1a1a7c"/><circle cx="42.6" cy="18.4" r="0.9" fill="#1a1a7c"/><circle cx="44.0" cy="19.3" r="0.9" fill="#1a1a7c"/><circle cx="44.9" cy="20.1" r="0.9" fill="#1a1a7c"/><circle cx="28.7" cy="24.8" r="0.9" fill="#1a1a7c"/><circle cx="31.0" cy="25.5" r="0.9" fill="#1a1a7c"/><circle cx="17.0" cy="26.6" r="0.9" fill="#1a1a7c"/><circle cx="20.7" cy="27.3" r="0.9" fill="#1a1a7c"/><circle cx="22.9" cy="27.3" r="0.9" fill="#1a1a7c"/><circle cx="24.8" cy="27.0" r="0.9" fill="#1a1a7c"/><circle cx="26.3" cy="27.3" r="0.9" fill="#1a1a7c"/><circle cx="22.6" cy="31.1" r="0.9" fill="#1a1a7c"/><circle cx="24.1" cy="30.1" r="0.9" fill="#1a1a7c"/><circle cx="26.0" cy="31.7" r="0.9" fill="#1a1a7c"/><circle cx="19.5" cy="33.0" r="0.9" fill="#1a1a7c"/><circle cx="23.2" cy="33.6" r="0.9" fill="#1a1a7c"/><circle cx="23.2" cy="35.8" r="0.9" fill="#1a1a7c"/><circle cx="26.6" cy="34.8" r="0.9" fill="#1a1a7c"/><circle cx="25.4" cy="37.0" r="0.9" fill="#1a1a7c"/><circle cx="19.2" cy="37.6" r="0.9" fill="#1a1a7c"/><circle cx="24.8" cy="39.5" r="0.9" fill="#1a1a7c"/><circle cx="29.9" cy="27.6" r="0.9" fill="#1a1a7c"/><circle cx="29.5" cy="30.3" r="0.9" fill="#1a1a7c"/><circle cx="32.2" cy="30.6" r="0.9" fill="#1a1a7c"/><circle cx="27.9" cy="31.3" r="0.9" fill="#1a1a7c"/><circle cx="29.5" cy="33.6" r="0.9" fill="#1a1a7c"/><circle cx="27.2" cy="37.3" r="0.9" fill="#1a1a7c"/><circle cx="33.2" cy="33.6" r="0.9" fill="#1a1a7c"/><circle cx="39.9" cy="33.0" r="0.9" fill="#1a1a7c"/><circle cx="41.6" cy="31.6" r="0.9" fill="#1a1a7c"/><circle cx="35.6" cy="44.3" r="0.9" fill="#1a1a7c"/><circle cx="10.8" cy="8.3" r="0.9" fill="#f0e024"/><circle cx="8.7" cy="10.9" r="0.9" fill="#5aa8f0"/><circle cx="4.4" cy="11.7" r="0.9" fill="#30b4e0"/><circle cx="21.2" cy="10.3" r="0.9" fill="#d83224"/><circle cx="13.1" cy="12.0" r="0.9" fill="#30b4e0"/><circle cx="10.2" cy="14.9" r="0.9" fill="#f0e024"/><circle cx="7.9" cy="17.5" r="0.9" fill="#f08424"/><circle cx="13.1" cy="18.1" r="0.9" fill="#30b4e0"/><circle cx="13.1" cy="21.3" r="0.9" fill="#d83224"/><circle cx="19.2" cy="23.0" r="0.9" fill="#3cae48"/><circle cx="13.9" cy="23.9" r="0.9" fill="#d83224"/><circle cx="9.9" cy="24.5" r="0.9" fill="#8c1414"/><circle cx="10.1" cy="26.1" r="0.9" fill="#8c1414"/><circle cx="10.4" cy="27.7" r="0.9" fill="#8c1414"/><circle cx="10.7" cy="28.9" r="0.9" fill="#8c1414"/><circle cx="12.3" cy="29.8" r="0.9" fill="#8c1414"/><circle cx="28.9" cy="35.6" r="0.9" fill="#30b4e0"/><circle cx="34.6" cy="32.3" r="0.9" fill="#3cae48"/></g>
<g transform="translate(290.4 33.4)"><circle cx="5.0" cy="10.0" r="0.9" fill="#1a1a7c"/><circle cx="5.8" cy="7.8" r="0.9" fill="#1a1a7c"/><circle cx="7.9" cy="5.4" r="0.9" fill="#1a1a7c"/><circle cx="10.8" cy="8.3" r="0.9" fill="#1a1a7c"/><circle cx="8.7" cy="10.9" r="0.9" fill="#1a1a7c"/><circle cx="7.3" cy="12.8" r="0.9" fill="#1a1a7c"/><circle cx="9.2" cy="4.1" r="0.9" fill="#1a1a7c"/><circle cx="5.2" cy="13.8" r="0.9" fill="#1a1a7c"/><circle cx="15.0" cy="8.9" r="0.9" fill="#1a1a7c"/><circle cx="12.1" cy="4.9" r="0.9" fill="#1a1a7c"/><circle cx="9.5" cy="8.9" r="0.9" fill="#1a1a7c"/><circle cx="18.7" cy="25.1" r="0.9" fill="#1a1a7c"/><circle cx="20.4" cy="29.6" r="0.9" fill="#1a1a7c"/><circle cx="22.2" cy="32.4" r="0.9" fill="#1a1a7c"/><circle cx="24.5" cy="30.8" r="0.9" fill="#1a1a7c"/><circle cx="21.2" cy="35.1" r="0.9" fill="#1a1a7c"/><circle cx="20.0" cy="28.6" r="0.9" fill="#1a1a7c"/><circle cx="27.2" cy="28.6" r="0.9" fill="#1a1a7c"/><circle cx="25.9" cy="36.4" r="0.9" fill="#1a1a7c"/><circle cx="23.7" cy="40.1" r="0.9" fill="#1a1a7c"/><circle cx="22.5" cy="24.4" r="0.9" fill="#1a1a7c"/><circle cx="6.7" cy="4.2" r="0.9" fill="#1a1a7c"/><circle cx="9.9" cy="5.1" r="0.9" fill="#1a1a7c"/><circle cx="11.1" cy="5.4" r="0.9" fill="#1a1a7c"/><circle cx="6.7" cy="7.1" r="0.9" fill="#1a1a7c"/><circle cx="9.0" cy="6.8" r="0.9" fill="#1a1a7c"/><circle cx="10.8" cy="7.1" r="0.9" fill="#1a1a7c"/><circle cx="12.2" cy="6.8" r="0.9" fill="#1a1a7c"/><circle cx="13.7" cy="7.7" r="0.9" fill="#1a1a7c"/><circle cx="7.9" cy="8.3" r="0.9" fill="#1a1a7c"/><circle cx="13.4" cy="8.6" r="0.9" fill="#1a1a7c"/><circle cx="17.4" cy="8.0" r="0.9" fill="#1a1a7c"/><circle cx="5.6" cy="9.4" r="0.9" fill="#1a1a7c"/><circle cx="4.4" cy="11.7" r="0.9" fill="#1a1a7c"/><circle cx="6.1" cy="11.5" r="0.9" fill="#1a1a7c"/><circle cx="12.8" cy="10.3" r="0.9" fill="#1a1a7c"/><circle cx="21.2" cy="10.3" r="0.9" fill="#1a1a7c"/><circle cx="11.3" cy="12.9" r="0.9" fill="#1a1a7c"/><circle cx="14.5" cy="11.7" r="0.9" fill="#1a1a7c"/><circle cx="16.6" cy="13.5" r="0.9" fill="#1a1a7c"/><circle cx="18.3" cy="13.2" r="0.9" fill="#1a1a7c"/><circle cx="19.7" cy="14.3" r="0.9" fill="#1a1a7c"/><circle cx="21.2" cy="15.2" r="0.9" fill="#1a1a7c"/><circle cx="10.2" cy="14.9" r="0.9" fill="#1a1a7c"/><circle cx="16.6" cy="14.9" r="0.9" fill="#1a1a7c"/><circle cx="6.4" cy="16.4" r="0.9" fill="#1a1a7c"/><circle cx="7.9" cy="17.5" r="0.9" fill="#1a1a7c"/><circle cx="9.3" cy="18.1" r="0.9" fill="#1a1a7c"/><circle cx="13.1" cy="18.1" r="0.9" fill="#1a1a7c"/><circle cx="17.1" cy="16.7" r="0.9" fill="#1a1a7c"/><circle cx="18.3" cy="17.0" r="0.9" fill="#1a1a7c"/><circle cx="17.7" cy="19.0" r="0.9" fill="#1a1a7c"/><circle cx="12.8" cy="20.1" r="0.9" fill="#1a1a7c"/><circle cx="13.1" cy="21.3" r="0.9" fill="#1a1a7c"/><circle cx="16.3" cy="21.6" r="0.9" fill="#1a1a7c"/><circle cx="19.4" cy="21.3" r="0.9" fill="#1a1a7c"/><circle cx="22.0" cy="19.8" r="0.9" fill="#1a1a7c"/><circle cx="22.6" cy="20.7" r="0.9" fill="#1a1a7c"/><circle cx="19.2" cy="23.0" r="0.9" fill="#1a1a7c"/><circle cx="13.9" cy="23.9" r="0.9" fill="#1a1a7c"/><circle cx="9.9" cy="24.5" r="0.9" fill="#1a1a7c"/><circle cx="25.5" cy="23.9" r="0.9" fill="#1a1a7c"/><circle cx="28.7" cy="24.8" r="0.9" fill="#1a1a7c"/><circle cx="10.1" cy="26.1" r="0.9" fill="#1a1a7c"/><circle cx="10.4" cy="27.7" r="0.9" fill="#1a1a7c"/><circle cx="10.7" cy="28.9" r="0.9" fill="#1a1a7c"/><circle cx="12.3" cy="29.8" r="0.9" fill="#1a1a7c"/><circle cx="17.0" cy="26.6" r="0.9" fill="#1a1a7c"/><circle cx="20.7" cy="27.3" r="0.9" fill="#1a1a7c"/><circle cx="22.9" cy="27.3" r="0.9" fill="#1a1a7c"/><circle cx="24.8" cy="27.0" r="0.9" fill="#1a1a7c"/><circle cx="26.3" cy="27.3" r="0.9" fill="#1a1a7c"/><circle cx="24.1" cy="30.1" r="0.9" fill="#1a1a7c"/><circle cx="26.0" cy="31.7" r="0.9" fill="#1a1a7c"/><circle cx="19.5" cy="33.0" r="0.9" fill="#1a1a7c"/><circle cx="23.2" cy="33.6" r="0.9" fill="#1a1a7c"/><circle cx="23.2" cy="35.8" r="0.9" fill="#1a1a7c"/><circle cx="26.6" cy="34.8" r="0.9" fill="#1a1a7c"/><circle cx="25.4" cy="37.0" r="0.9" fill="#1a1a7c"/><circle cx="19.2" cy="37.6" r="0.9" fill="#1a1a7c"/><circle cx="24.8" cy="39.5" r="0.9" fill="#1a1a7c"/><circle cx="29.9" cy="27.6" r="0.9" fill="#1a1a7c"/><circle cx="29.5" cy="30.3" r="0.9" fill="#1a1a7c"/><circle cx="27.9" cy="31.3" r="0.9" fill="#1a1a7c"/><circle cx="29.5" cy="33.6" r="0.9" fill="#1a1a7c"/><circle cx="28.9" cy="35.6" r="0.9" fill="#1a1a7c"/><circle cx="33.2" cy="33.6" r="0.9" fill="#1a1a7c"/><circle cx="35.6" cy="44.3" r="0.9" fill="#1a1a7c"/><circle cx="12.5" cy="13.6" r="0.9" fill="#f0e024"/><circle cx="41.2" cy="9.2" r="0.9" fill="#8c1414"/><circle cx="43.4" cy="10.4" r="0.9" fill="#8c1414"/><circle cx="44.6" cy="13.8" r="0.9" fill="#8c1414"/><circle cx="39.4" cy="15.0" r="0.9" fill="#8c1414"/><circle cx="8.5" cy="9.7" r="0.9" fill="#30b4e0"/><circle cx="22.0" cy="12.0" r="0.9" fill="#3cae48"/><circle cx="13.1" cy="12.0" r="0.9" fill="#3cae48"/><circle cx="11.6" cy="15.2" r="0.9" fill="#5aa8f0"/><circle cx="7.0" cy="18.4" r="0.9" fill="#f0e024"/><circle cx="13.9" cy="17.2" r="0.9" fill="#30b4e0"/><circle cx="30.7" cy="11.1" r="0.9" fill="#8c1414"/><circle cx="31.0" cy="17.0" r="0.9" fill="#8c1414"/><circle cx="29.8" cy="18.4" r="0.9" fill="#f08424"/><circle cx="39.4" cy="9.4" r="0.9" fill="#8c1414"/><circle cx="39.4" cy="10.6" r="0.9" fill="#8c1414"/><circle cx="40.8" cy="10.9" r="0.9" fill="#8c1414"/><circle cx="42.6" cy="11.5" r="0.9" fill="#8c1414"/><circle cx="44.3" cy="11.7" r="0.9" fill="#8c1414"/><circle cx="46.3" cy="11.7" r="0.9" fill="#8c1414"/><circle cx="45.2" cy="8.9" r="0.9" fill="#8c1414"/><circle cx="47.5" cy="8.9" r="0.9" fill="#8c1414"/><circle cx="45.2" cy="13.2" r="0.9" fill="#8c1414"/><circle cx="38.5" cy="11.7" r="0.9" fill="#8c1414"/><circle cx="37.3" cy="13.2" r="0.9" fill="#8c1414"/><circle cx="40.5" cy="14.1" r="0.9" fill="#8c1414"/><circle cx="36.5" cy="15.2" r="0.9" fill="#8c1414"/><circle cx="38.2" cy="16.4" r="0.9" fill="#8c1414"/><circle cx="43.7" cy="14.9" r="0.9" fill="#8c1414"/><circle cx="45.4" cy="16.1" r="0.9" fill="#8c1414"/><circle cx="42.6" cy="18.4" r="0.9" fill="#f08424"/><circle cx="44.0" cy="19.3" r="0.9" fill="#8c1414"/><circle cx="44.9" cy="20.1" r="0.9" fill="#2ca49c"/><circle cx="31.0" cy="25.5" r="0.9" fill="#3cae48"/><circle cx="22.6" cy="31.1" r="0.9" fill="#3cae48"/><circle cx="32.2" cy="30.6" r="0.9" fill="#3cae48"/><circle cx="27.2" cy="37.3" r="0.9" fill="#30b4e0"/><circle cx="34.6" cy="32.3" r="0.9" fill="#f08424"/><circle cx="39.9" cy="33.0" r="0.9" fill="#8c1414"/><circle cx="41.6" cy="31.6" r="0.9" fill="#8c1414"/></g>
<g transform="translate(351.6 33.4)"><circle cx="44.6" cy="13.8" r="0.9" fill="#1a1a7c"/><circle cx="44.3" cy="11.7" r="0.9" fill="#1a1a7c"/><circle cx="46.3" cy="11.7" r="0.9" fill="#1a1a7c"/><circle cx="45.2" cy="8.9" r="0.9" fill="#1a1a7c"/><circle cx="47.5" cy="8.9" r="0.9" fill="#1a1a7c"/><circle cx="45.2" cy="13.2" r="0.9" fill="#1a1a7c"/><circle cx="45.4" cy="16.1" r="0.9" fill="#1a1a7c"/><circle cx="44.9" cy="20.1" r="0.9" fill="#1a1a7c"/><circle cx="10.4" cy="27.7" r="0.9" fill="#1a1a7c"/><circle cx="35.6" cy="44.3" r="0.9" fill="#1a1a7c"/><circle cx="5.0" cy="10.0" r="0.9" fill="#8c1414"/><circle cx="5.8" cy="7.8" r="0.9" fill="#8c1414"/><circle cx="7.9" cy="5.4" r="0.9" fill="#8c1414"/><circle cx="10.8" cy="8.3" r="0.9" fill="#8c1414"/><circle cx="8.7" cy="10.9" r="0.9" fill="#8c1414"/><circle cx="7.3" cy="12.8" r="0.9" fill="#8c1414"/><circle cx="12.5" cy="13.6" r="0.9" fill="#d83224"/><circle cx="9.2" cy="4.1" r="0.9" fill="#8c1414"/><circle cx="5.2" cy="13.8" r="0.9" fill="#8c1414"/><circle cx="15.0" cy="8.9" r="0.9" fill="#8c1414"/><circle cx="12.1" cy="4.9" r="0.9" fill="#8c1414"/><circle cx="9.5" cy="8.9" r="0.9" fill="#8c1414"/><circle cx="41.2" cy="9.2" r="0.9" fill="#30b4e0"/><circle cx="43.4" cy="10.4" r="0.9" fill="#2848b8"/><circle cx="39.4" cy="15.0" r="0.9" fill="#3cae48"/><circle cx="18.7" cy="25.1" r="0.9" fill="#f0e024"/><circle cx="20.4" cy="29.6" r="0.9" fill="#f08424"/><circle cx="22.2" cy="32.4" r="0.9" fill="#3cae48"/><circle cx="24.5" cy="30.8" r="0.9" fill="#f0e024"/><circle cx="21.2" cy="35.1" r="0.9" fill="#30b4e0"/><circle cx="20.0" cy="28.6" r="0.9" fill="#f0e024"/><circle cx="27.2" cy="28.6" r="0.9" fill="#b4d424"/><circle cx="25.9" cy="36.4" r="0.9" fill="#3cae48"/><circle cx="23.7" cy="40.1" r="0.9" fill="#30b4e0"/><circle cx="22.5" cy="24.4" r="0.9" fill="#8c1414"/><circle cx="6.7" cy="4.2" r="0.9" fill="#8c1414"/><circle cx="9.9" cy="5.1" r="0.9" fill="#8c1414"/><circle cx="11.1" cy="5.4" r="0.9" fill="#8c1414"/><circle cx="6.7" cy="7.1" r="0.9" fill="#8c1414"/><circle cx="9.0" cy="6.8" r="0.9" fill="#8c1414"/><circle cx="10.8" cy="7.1" r="0.9" fill="#8c1414"/><circle cx="12.2" cy="6.8" r="0.9" fill="#8c1414"/><circle cx="13.7" cy="7.7" r="0.9" fill="#8c1414"/><circle cx="7.9" cy="8.3" r="0.9" fill="#8c1414"/><circle cx="13.4" cy="8.6" r="0.9" fill="#8c1414"/><circle cx="17.4" cy="8.0" r="0.9" fill="#8c1414"/><circle cx="5.6" cy="9.4" r="0.9" fill="#d83224"/><circle cx="8.5" cy="9.7" r="0.9" fill="#d83224"/><circle cx="4.4" cy="11.7" r="0.9" fill="#8c1414"/><circle cx="6.1" cy="11.5" r="0.9" fill="#d83224"/><circle cx="12.8" cy="10.3" r="0.9" fill="#d83224"/><circle cx="21.2" cy="10.3" r="0.9" fill="#8c1414"/><circle cx="22.0" cy="12.0" r="0.9" fill="#8c1414"/><circle cx="11.3" cy="12.9" r="0.9" fill="#8c1414"/><circle cx="14.5" cy="11.7" r="0.9" fill="#8c1414"/><circle cx="13.1" cy="12.0" r="0.9" fill="#8c1414"/><circle cx="16.6" cy="13.5" r="0.9" fill="#8c1414"/><circle cx="18.3" cy="13.2" r="0.9" fill="#8c1414"/><circle cx="19.7" cy="14.3" r="0.9" fill="#8c1414"/><circle cx="21.2" cy="15.2" r="0.9" fill="#d83224"/><circle cx="10.2" cy="14.9" r="0.9" fill="#8c1414"/><circle cx="11.6" cy="15.2" r="0.9" fill="#8c1414"/><circle cx="16.6" cy="14.9" r="0.9" fill="#8c1414"/><circle cx="6.4" cy="16.4" r="0.9" fill="#8c1414"/><circle cx="7.9" cy="17.5" r="0.9" fill="#8c1414"/><circle cx="9.3" cy="18.1" r="0.9" fill="#d83224"/><circle cx="7.0" cy="18.4" r="0.9" fill="#8c1414"/><circle cx="13.9" cy="17.2" r="0.9" fill="#d83224"/><circle cx="13.1" cy="18.1" r="0.9" fill="#8c1414"/><circle cx="17.1" cy="16.7" r="0.9" fill="#8c1414"/><circle cx="18.3" cy="17.0" r="0.9" fill="#8c1414"/><circle cx="17.7" cy="19.0" r="0.9" fill="#8c1414"/><circle cx="12.8" cy="20.1" r="0.9" fill="#8c1414"/><circle cx="13.1" cy="21.3" r="0.9" fill="#8c1414"/><circle cx="16.3" cy="21.6" r="0.9" fill="#8c1414"/><circle cx="19.4" cy="21.3" r="0.9" fill="#8c1414"/><circle cx="22.0" cy="19.8" r="0.9" fill="#8c1414"/><circle cx="22.6" cy="20.7" r="0.9" fill="#8c1414"/><circle cx="19.2" cy="23.0" r="0.9" fill="#8c1414"/><circle cx="13.9" cy="23.9" r="0.9" fill="#8c1414"/><circle cx="9.9" cy="24.5" r="0.9" fill="#8c1414"/><circle cx="25.5" cy="23.9" r="0.9" fill="#f08424"/><circle cx="30.7" cy="11.1" r="0.9" fill="#8c1414"/><circle cx="31.0" cy="17.0" r="0.9" fill="#f0e024"/><circle cx="29.8" cy="18.4" r="0.9" fill="#f0e024"/><circle cx="39.4" cy="9.4" r="0.9" fill="#b4d424"/><circle cx="39.4" cy="10.6" r="0.9" fill="#d83224"/><circle cx="40.8" cy="10.9" r="0.9" fill="#30b4e0"/><circle cx="42.6" cy="11.5" r="0.9" fill="#30b4e0"/><circle cx="38.5" cy="11.7" r="0.9" fill="#f08424"/><circle cx="37.3" cy="13.2" r="0.9" fill="#f08424"/><circle cx="40.5" cy="14.1" r="0.9" fill="#3cae48"/><circle cx="36.5" cy="15.2" r="0.9" fill="#d83224"/><circle cx="38.2" cy="16.4" r="0.9" fill="#d83224"/><circle cx="43.7" cy="14.9" r="0.9" fill="#2848b8"/><circle cx="42.6" cy="18.4" r="0.9" fill="#30b4e0"/><circle cx="44.0" cy="19.3" r="0.9" fill="#2848b8"/><circle cx="28.7" cy="24.8" r="0.9" fill="#f08424"/><circle cx="31.0" cy="25.5" r="0.9" fill="#f08424"/><circle cx="10.1" cy="26.1" r="0.9" fill="#8c1414"/><circle cx="10.7" cy="28.9" r="0.9" fill="#2ca49c"/><circle cx="12.3" cy="29.8" r="0.9" fill="#2848b8"/><circle cx="17.0" cy="26.6" r="0.9" fill="#8c1414"/><circle cx="20.7" cy="27.3" r="0.9" fill="#f0e024"/><circle cx="22.9" cy="27.3" r="0.9" fill="#f0e024"/><circle cx="24.8" cy="27.0" r="0.9" fill="#f0e024"/><circle cx="26.3" cy="27.3" r="0.9" fill="#f0e024"/><circle cx="22.6" cy="31.1" r="0.9" fill="#f0e024"/><circle cx="24.1" cy="30.1" r="0.9" fill="#b4d424"/><circle cx="26.0" cy="31.7" r="0.9" fill="#f0e024"/><circle cx="19.5" cy="33.0" r="0.9" fill="#3cae48"/><circle cx="23.2" cy="33.6" r="0.9" fill="#3cae48"/><circle cx="23.2" cy="35.8" r="0.9" fill="#30b4e0"/><circle cx="26.6" cy="34.8" r="0.9" fill="#3cae48"/><circle cx="25.4" cy="37.0" r="0.9" fill="#2848b8"/><circle cx="19.2" cy="37.6" r="0.9" fill="#30b4e0"/><circle cx="24.8" cy="39.5" r="0.9" fill="#2848b8"/><circle cx="29.9" cy="27.6" r="0.9" fill="#f0e024"/><circle cx="29.5" cy="30.3" r="0.9" fill="#f0e024"/><circle cx="32.2" cy="30.6" r="0.9" fill="#b4d424"/><circle cx="27.9" cy="31.3" r="0.9" fill="#3cae48"/><circle cx="29.5" cy="33.6" r="0.9" fill="#b4d424"/><circle cx="28.9" cy="35.6" r="0.9" fill="#3cae48"/><circle cx="27.2" cy="37.3" r="0.9" fill="#2848b8"/><circle cx="33.2" cy="33.6" r="0.9" fill="#3cae48"/><circle cx="34.6" cy="32.3" r="0.9" fill="#3cae48"/><circle cx="39.9" cy="33.0" r="0.9" fill="#f08424"/><circle cx="41.6" cy="31.6" r="0.9" fill="#8c1414"/></g>
<g transform="translate(413.3 33.4)"><circle cx="41.2" cy="9.2" r="0.9" fill="#1a1a7c"/><circle cx="43.4" cy="10.4" r="0.9" fill="#1a1a7c"/><circle cx="44.6" cy="13.8" r="0.9" fill="#1a1a7c"/><circle cx="39.4" cy="15.0" r="0.9" fill="#1a1a7c"/><circle cx="21.2" cy="35.1" r="0.9" fill="#1a1a7c"/><circle cx="27.2" cy="28.6" r="0.9" fill="#1a1a7c"/><circle cx="22.5" cy="24.4" r="0.9" fill="#1a1a7c"/><circle cx="17.4" cy="8.0" r="0.9" fill="#1a1a7c"/><circle cx="21.2" cy="15.2" r="0.9" fill="#1a1a7c"/><circle cx="22.6" cy="20.7" r="0.9" fill="#1a1a7c"/><circle cx="42.6" cy="11.5" r="0.9" fill="#1a1a7c"/><circle cx="44.3" cy="11.7" r="0.9" fill="#1a1a7c"/><circle cx="46.3" cy="11.7" r="0.9" fill="#1a1a7c"/><circle cx="45.2" cy="8.9" r="0.9" fill="#1a1a7c"/><circle cx="47.5" cy="8.9" r="0.9" fill="#1a1a7c"/><circle cx="45.2" cy="13.2" r="0.9" fill="#1a1a7c"/><circle cx="37.3" cy="13.2" r="0.9" fill="#1a1a7c"/><circle cx="40.5" cy="14.1" r="0.9" fill="#1a1a7c"/><circle cx="36.5" cy="15.2" r="0.9" fill="#1a1a7c"/><circle cx="38.2" cy="16.4" r="0.9" fill="#1a1a7c"/><circle cx="43.7" cy="14.9" r="0.9" fill="#1a1a7c"/><circle cx="45.4" cy="16.1" r="0.9" fill="#1a1a7c"/><circle cx="42.6" cy="18.4" r="0.9" fill="#1a1a7c"/><circle cx="44.0" cy="19.3" r="0.9" fill="#1a1a7c"/><circle cx="44.9" cy="20.1" r="0.9" fill="#1a1a7c"/><circle cx="28.7" cy="24.8" r="0.9" fill="#1a1a7c"/><circle cx="31.0" cy="25.5" r="0.9" fill="#1a1a7c"/><circle cx="26.3" cy="27.3" r="0.9" fill="#1a1a7c"/><circle cx="24.1" cy="30.1" r="0.9" fill="#1a1a7c"/><circle cx="23.2" cy="35.8" r="0.9" fill="#1a1a7c"/><circle cx="29.9" cy="27.6" r="0.9" fill="#1a1a7c"/><circle cx="29.5" cy="30.3" r="0.9" fill="#1a1a7c"/><circle cx="27.9" cy="31.3" r="0.9" fill="#1a1a7c"/><circle cx="27.2" cy="37.3" r="0.9" fill="#1a1a7c"/><circle cx="35.6" cy="44.3" r="0.9" fill="#1a1a7c"/><circle cx="5.0" cy="10.0" r="0.9" fill="#8c1414"/><circle cx="5.8" cy="7.8" r="0.9" fill="#f0e024"/><circle cx="7.9" cy="5.4" r="0.9" fill="#f08424"/><circle cx="10.8" cy="8.3" r="0.9" fill="#8c1414"/><circle cx="8.7" cy="10.9" r="0.9" fill="#8c1414"/><circle cx="7.3" cy="12.8" r="0.9" fill="#8c1414"/><circle cx="12.5" cy="13.6" r="0.9" fill="#8c1414"/><circle cx="9.2" cy="4.1" r="0.9" fill="#d83224"/><circle cx="5.2" cy="13.8" r="0.9" fill="#30b4e0"/><circle cx="15.0" cy="8.9" r="0.9" fill="#f0e024"/><circle cx="12.1" cy="4.9" r="0.9" fill="#f0e024"/><circle cx="9.5" cy="8.9" r="0.9" fill="#30b4e0"/><circle cx="18.7" cy="25.1" r="0.9" fill="#f0e024"/><circle cx="20.4" cy="29.6" r="0.9" fill="#f0e024"/><circle cx="22.2" cy="32.4" r="0.9" fill="#d83224"/><circle cx="24.5" cy="30.8" r="0.9" fill="#f0e024"/><circle cx="20.0" cy="28.6" r="0.9" fill="#8c1414"/><circle cx="25.9" cy="36.4" r="0.9" fill="#f0e024"/><circle cx="23.7" cy="40.1" r="0.9" fill="#3cae48"/><circle cx="6.7" cy="4.2" r="0.9" fill="#8c1414"/><circle cx="9.9" cy="5.1" r="0.9" fill="#f08424"/><circle cx="11.1" cy="5.4" r="0.9" fill="#3cae48"/><circle cx="6.7" cy="7.1" r="0.9" fill="#8c1414"/><circle cx="9.0" cy="6.8" r="0.9" fill="#f08424"/><circle cx="10.8" cy="7.1" r="0.9" fill="#30b4e0"/><circle cx="12.2" cy="6.8" r="0.9" fill="#d83224"/><circle cx="13.7" cy="7.7" r="0.9" fill="#f0e024"/><circle cx="7.9" cy="8.3" r="0.9" fill="#d83224"/><circle cx="13.4" cy="8.6" r="0.9" fill="#8c1414"/><circle cx="5.6" cy="9.4" r="0.9" fill="#8c1414"/><circle cx="8.5" cy="9.7" r="0.9" fill="#8c1414"/><circle cx="4.4" cy="11.7" r="0.9" fill="#d83224"/><circle cx="6.1" cy="11.5" r="0.9" fill="#8c1414"/><circle cx="12.8" cy="10.3" r="0.9" fill="#8c1414"/><circle cx="21.2" cy="10.3" r="0.9" fill="#5aa8f0"/><circle cx="22.0" cy="12.0" r="0.9" fill="#3cae48"/><circle cx="11.3" cy="12.9" r="0.9" fill="#8c1414"/><circle cx="14.5" cy="11.7" r="0.9" fill="#30b4e0"/><circle cx="13.1" cy="12.0" r="0.9" fill="#f0e024"/><circle cx="16.6" cy="13.5" r="0.9" fill="#f08424"/><circle cx="18.3" cy="13.2" r="0.9" fill="#f0e024"/><circle cx="19.7" cy="14.3" r="0.9" fill="#8c1414"/><circle cx="10.2" cy="14.9" r="0.9" fill="#f08424"/><circle cx="11.6" cy="15.2" r="0.9" fill="#8c1414"/><circle cx="16.6" cy="14.9" r="0.9" fill="#8c1414"/><circle cx="6.4" cy="16.4" r="0.9" fill="#d83224"/><circle cx="7.9" cy="17.5" r="0.9" fill="#8c1414"/><circle cx="9.3" cy="18.1" r="0.9" fill="#d83224"/><circle cx="7.0" cy="18.4" r="0.9" fill="#8c1414"/><circle cx="13.9" cy="17.2" r="0.9" fill="#f08424"/><circle cx="13.1" cy="18.1" r="0.9" fill="#3cae48"/><circle cx="17.1" cy="16.7" r="0.9" fill="#30b4e0"/><circle cx="18.3" cy="17.0" r="0.9" fill="#30b4e0"/><circle cx="17.7" cy="19.0" r="0.9" fill="#3cae48"/><circle cx="12.8" cy="20.1" r="0.9" fill="#30b4e0"/><circle cx="13.1" cy="21.3" r="0.9" fill="#3cae48"/><circle cx="16.3" cy="21.6" r="0.9" fill="#d83224"/><circle cx="19.4" cy="21.3" r="0.9" fill="#f08424"/><circle cx="22.0" cy="19.8" r="0.9" fill="#3cae48"/><circle cx="19.2" cy="23.0" r="0.9" fill="#8c1414"/><circle cx="13.9" cy="23.9" r="0.9" fill="#2848b8"/><circle cx="9.9" cy="24.5" r="0.9" fill="#f0e024"/><circle cx="25.5" cy="23.9" r="0.9" fill="#f0e024"/><circle cx="30.7" cy="11.1" r="0.9" fill="#8c1414"/><circle cx="31.0" cy="17.0" r="0.9" fill="#d83224"/><circle cx="29.8" cy="18.4" r="0.9" fill="#3cae48"/><circle cx="39.4" cy="9.4" r="0.9" fill="#f08424"/><circle cx="39.4" cy="10.6" r="0.9" fill="#30b4e0"/><circle cx="40.8" cy="10.9" r="0.9" fill="#f0e024"/><circle cx="38.5" cy="11.7" r="0.9" fill="#30b4e0"/><circle cx="10.1" cy="26.1" r="0.9" fill="#f0e024"/><circle cx="10.4" cy="27.7" r="0.9" fill="#6a2a8a"/><circle cx="10.7" cy="28.9" r="0.9" fill="#3cae48"/><circle cx="12.3" cy="29.8" r="0.9" fill="#3cae48"/><circle cx="17.0" cy="26.6" r="0.9" fill="#3cae48"/><circle cx="20.7" cy="27.3" r="0.9" fill="#8c1414"/><circle cx="22.9" cy="27.3" r="0.9" fill="#f08424"/><circle cx="24.8" cy="27.0" r="0.9" fill="#f08424"/><circle cx="22.6" cy="31.1" r="0.9" fill="#f08424"/><circle cx="26.0" cy="31.7" r="0.9" fill="#3cae48"/><circle cx="19.5" cy="33.0" r="0.9" fill="#8c1414"/><circle cx="23.2" cy="33.6" r="0.9" fill="#d83224"/><circle cx="26.6" cy="34.8" r="0.9" fill="#30b4e0"/><circle cx="25.4" cy="37.0" r="0.9" fill="#3cae48"/><circle cx="19.2" cy="37.6" r="0.9" fill="#d83224"/><circle cx="24.8" cy="39.5" r="0.9" fill="#f0e024"/><circle cx="32.2" cy="30.6" r="0.9" fill="#f0e024"/><circle cx="29.5" cy="33.6" r="0.9" fill="#8c1414"/><circle cx="28.9" cy="35.6" r="0.9" fill="#f0e024"/><circle cx="33.2" cy="33.6" r="0.9" fill="#3cae48"/><circle cx="34.6" cy="32.3" r="0.9" fill="#d83224"/><circle cx="39.9" cy="33.0" r="0.9" fill="#5aa8f0"/><circle cx="41.6" cy="31.6" r="0.9" fill="#8c1414"/></g>
<g transform="translate(105.5 95.5)"><circle cx="17.7" cy="18.0" r="0.9" fill="#1a1a7c"/><circle cx="23.7" cy="20.5" r="0.9" fill="#1a1a7c"/><circle cx="21.7" cy="23.5" r="0.9" fill="#1a1a7c"/><circle cx="15.2" cy="20.5" r="0.9" fill="#1a1a7c"/><circle cx="24.7" cy="19.0" r="0.9" fill="#1a1a7c"/><circle cx="22.2" cy="27.3" r="0.9" fill="#1a1a7c"/><circle cx="20.9" cy="31.0" r="0.9" fill="#1a1a7c"/><circle cx="23.4" cy="34.3" r="0.9" fill="#1a1a7c"/><circle cx="21.9" cy="37.0" r="0.9" fill="#1a1a7c"/><circle cx="43.7" cy="8.7" r="0.9" fill="#1a1a7c"/><circle cx="46.8" cy="11.7" r="0.9" fill="#1a1a7c"/><circle cx="18.6" cy="13.7" r="0.9" fill="#1a1a7c"/><circle cx="14.5" cy="15.7" r="0.9" fill="#1a1a7c"/><circle cx="16.6" cy="16.9" r="0.9" fill="#1a1a7c"/><circle cx="24.9" cy="13.7" r="0.9" fill="#1a1a7c"/><circle cx="25.2" cy="14.8" r="0.9" fill="#1a1a7c"/><circle cx="9.3" cy="18.0" r="0.9" fill="#1a1a7c"/><circle cx="26.4" cy="17.4" r="0.9" fill="#1a1a7c"/><circle cx="16.3" cy="19.5" r="0.9" fill="#1a1a7c"/><circle cx="19.4" cy="18.6" r="0.9" fill="#1a1a7c"/><circle cx="16.6" cy="21.5" r="0.9" fill="#1a1a7c"/><circle cx="18.3" cy="20.9" r="0.9" fill="#1a1a7c"/><circle cx="20.0" cy="21.2" r="0.9" fill="#1a1a7c"/><circle cx="22.9" cy="21.5" r="0.9" fill="#1a1a7c"/><circle cx="24.6" cy="22.6" r="0.9" fill="#1a1a7c"/><circle cx="26.4" cy="21.5" r="0.9" fill="#1a1a7c"/><circle cx="9.9" cy="23.2" r="0.9" fill="#1a1a7c"/><circle cx="19.2" cy="24.1" r="0.9" fill="#1a1a7c"/><circle cx="23.5" cy="24.4" r="0.9" fill="#1a1a7c"/><circle cx="25.5" cy="23.8" r="0.9" fill="#1a1a7c"/><circle cx="49.2" cy="7.6" r="0.9" fill="#1a1a7c"/><circle cx="41.1" cy="10.2" r="0.9" fill="#1a1a7c"/><circle cx="44.3" cy="9.9" r="0.9" fill="#1a1a7c"/><circle cx="44.0" cy="11.1" r="0.9" fill="#1a1a7c"/><circle cx="47.5" cy="9.9" r="0.9" fill="#1a1a7c"/><circle cx="30.4" cy="13.1" r="0.9" fill="#1a1a7c"/><circle cx="30.7" cy="16.3" r="0.9" fill="#1a1a7c"/><circle cx="41.1" cy="13.4" r="0.9" fill="#1a1a7c"/><circle cx="40.8" cy="14.8" r="0.9" fill="#1a1a7c"/><circle cx="45.4" cy="15.1" r="0.9" fill="#1a1a7c"/><circle cx="46.9" cy="14.2" r="0.9" fill="#1a1a7c"/><circle cx="48.6" cy="13.4" r="0.9" fill="#1a1a7c"/><circle cx="42.6" cy="16.3" r="0.9" fill="#1a1a7c"/><circle cx="44.3" cy="16.9" r="0.9" fill="#1a1a7c"/><circle cx="45.4" cy="16.0" r="0.9" fill="#1a1a7c"/><circle cx="44.0" cy="18.3" r="0.9" fill="#1a1a7c"/><circle cx="25.5" cy="14.2" r="0.9" fill="#1a1a7c"/><circle cx="19.8" cy="25.4" r="0.9" fill="#1a1a7c"/><circle cx="23.2" cy="26.1" r="0.9" fill="#1a1a7c"/><circle cx="24.8" cy="24.9" r="0.9" fill="#1a1a7c"/><circle cx="25.4" cy="30.4" r="0.9" fill="#1a1a7c"/><circle cx="24.1" cy="31.9" r="0.9" fill="#1a1a7c"/><circle cx="26.3" cy="31.6" r="0.9" fill="#1a1a7c"/><circle cx="19.8" cy="33.2" r="0.9" fill="#1a1a7c"/><circle cx="22.6" cy="36.0" r="0.9" fill="#1a1a7c"/><circle cx="24.4" cy="34.4" r="0.9" fill="#1a1a7c"/><circle cx="20.7" cy="37.5" r="0.9" fill="#1a1a7c"/><circle cx="23.2" cy="37.5" r="0.9" fill="#1a1a7c"/><circle cx="24.1" cy="38.8" r="0.9" fill="#1a1a7c"/><circle cx="24.1" cy="41.9" r="0.9" fill="#1a1a7c"/><circle cx="29.9" cy="26.8" r="0.9" fill="#1a1a7c"/><circle cx="34.9" cy="26.8" r="0.9" fill="#1a1a7c"/><circle cx="30.5" cy="31.5" r="0.9" fill="#1a1a7c"/><circle cx="29.2" cy="34.9" r="0.9" fill="#1a1a7c"/><circle cx="28.2" cy="36.5" r="0.9" fill="#1a1a7c"/><circle cx="28.9" cy="37.9" r="0.9" fill="#1a1a7c"/><circle cx="34.2" cy="35.9" r="0.9" fill="#1a1a7c"/><circle cx="40.2" cy="33.2" r="0.9" fill="#1a1a7c"/><circle cx="39.9" cy="33.9" r="0.9" fill="#1a1a7c"/><circle cx="38.9" cy="39.2" r="0.9" fill="#1a1a7c"/><circle cx="38.2" cy="40.9" r="0.9" fill="#1a1a7c"/><circle cx="39.9" cy="44.9" r="0.9" fill="#1a1a7c"/><circle cx="37.2" cy="46.5" r="0.9" fill="#1a1a7c"/><circle cx="38.9" cy="46.9" r="0.9" fill="#1a1a7c"/><circle cx="40.6" cy="46.2" r="0.9" fill="#1a1a7c"/><circle cx="39.5" cy="40.3" r="0.9" fill="#1a1a7c"/><circle cx="37.6" cy="41.9" r="0.9" fill="#1a1a7c"/><circle cx="38.5" cy="43.7" r="0.9" fill="#1a1a7c"/><circle cx="41.0" cy="46.4" r="0.9" fill="#1a1a7c"/><circle cx="39.4" cy="42.3" r="0.9" fill="#1a1a7c"/><circle cx="20.7" cy="20.0" r="0.9" fill="#f0e024"/><circle cx="18.2" cy="23.0" r="0.9" fill="#f08424"/><circle cx="14.5" cy="8.1" r="0.9" fill="#30b4e0"/><circle cx="16.8" cy="9.9" r="0.9" fill="#3cae48"/><circle cx="20.6" cy="9.0" r="0.9" fill="#8c1414"/><circle cx="12.5" cy="11.4" r="0.9" fill="#8c1414"/><circle cx="13.9" cy="14.2" r="0.9" fill="#30b4e0"/><circle cx="16.8" cy="15.7" r="0.9" fill="#3cae48"/><circle cx="22.6" cy="19.2" r="0.9" fill="#f0e024"/><circle cx="21.2" cy="22.3" r="0.9" fill="#3cae48"/><circle cx="11.9" cy="23.8" r="0.9" fill="#3cae48"/><circle cx="45.7" cy="6.7" r="0.9" fill="#f08424"/><circle cx="45.4" cy="7.9" r="0.9" fill="#3cae48"/><circle cx="28.7" cy="14.8" r="0.9" fill="#30b4e0"/><circle cx="36.2" cy="13.4" r="0.9" fill="#b4d424"/><circle cx="43.7" cy="14.5" r="0.9" fill="#3cae48"/><circle cx="48.9" cy="15.1" r="0.9" fill="#3cae48"/><circle cx="21.3" cy="25.7" r="0.9" fill="#f0e024"/><circle cx="26.0" cy="28.2" r="0.9" fill="#30b4e0"/><circle cx="22.6" cy="29.4" r="0.9" fill="#f08424"/><circle cx="21.0" cy="35.0" r="0.9" fill="#2ca49c"/><circle cx="31.6" cy="28.2" r="0.9" fill="#30b4e0"/><circle cx="33.2" cy="27.8" r="0.9" fill="#8c1414"/><circle cx="34.2" cy="29.8" r="0.9" fill="#8c1414"/><circle cx="32.2" cy="30.9" r="0.9" fill="#f08424"/><circle cx="31.9" cy="32.9" r="0.9" fill="#f0e024"/><circle cx="35.2" cy="37.2" r="0.9" fill="#8c1414"/><circle cx="38.9" cy="32.2" r="0.9" fill="#8c1414"/><circle cx="41.2" cy="31.5" r="0.9" fill="#8c1414"/><circle cx="42.2" cy="30.5" r="0.9" fill="#8c1414"/><circle cx="38.9" cy="41.5" r="0.9" fill="#8c1414"/><circle cx="37.9" cy="42.9" r="0.9" fill="#d83224"/><circle cx="39.2" cy="43.2" r="0.9" fill="#8c1414"/><circle cx="38.2" cy="44.5" r="0.9" fill="#f08424"/><circle cx="41.2" cy="45.2" r="0.9" fill="#2848b8"/><circle cx="40.1" cy="43.8" r="0.9" fill="#8c1414"/><circle cx="38.4" cy="46.3" r="0.9" fill="#30b4e0"/><circle cx="39.6" cy="45.7" r="0.9" fill="#3cae48"/><circle cx="38.1" cy="45.4" r="0.9" fill="#f0e024"/><circle cx="38.3" cy="40.0" r="0.9" fill="#8c1414"/></g>
<g transform="translate(166.8 95.5)"><circle cx="17.7" cy="18.0" r="0.9" fill="#1a1a7c"/><circle cx="20.7" cy="20.0" r="0.9" fill="#1a1a7c"/><circle cx="23.7" cy="20.5" r="0.9" fill="#1a1a7c"/><circle cx="18.2" cy="23.0" r="0.9" fill="#1a1a7c"/><circle cx="21.7" cy="23.5" r="0.9" fill="#1a1a7c"/><circle cx="15.2" cy="20.5" r="0.9" fill="#1a1a7c"/><circle cx="24.7" cy="19.0" r="0.9" fill="#1a1a7c"/><circle cx="22.2" cy="27.3" r="0.9" fill="#1a1a7c"/><circle cx="20.9" cy="31.0" r="0.9" fill="#1a1a7c"/><circle cx="23.4" cy="34.3" r="0.9" fill="#1a1a7c"/><circle cx="21.9" cy="37.0" r="0.9" fill="#1a1a7c"/><circle cx="43.7" cy="8.7" r="0.9" fill="#1a1a7c"/><circle cx="46.8" cy="11.7" r="0.9" fill="#1a1a7c"/><circle cx="14.5" cy="8.1" r="0.9" fill="#1a1a7c"/><circle cx="16.8" cy="9.9" r="0.9" fill="#1a1a7c"/><circle cx="20.6" cy="9.0" r="0.9" fill="#1a1a7c"/><circle cx="12.5" cy="11.4" r="0.9" fill="#1a1a7c"/><circle cx="13.9" cy="14.2" r="0.9" fill="#1a1a7c"/><circle cx="14.5" cy="15.7" r="0.9" fill="#1a1a7c"/><circle cx="16.8" cy="15.7" r="0.9" fill="#1a1a7c"/><circle cx="16.6" cy="16.9" r="0.9" fill="#1a1a7c"/><circle cx="24.9" cy="13.7" r="0.9" fill="#1a1a7c"/><circle cx="25.2" cy="14.8" r="0.9" fill="#1a1a7c"/><circle cx="9.3" cy="18.0" r="0.9" fill="#1a1a7c"/><circle cx="16.3" cy="19.5" r="0.9" fill="#1a1a7c"/><circle cx="19.4" cy="18.6" r="0.9" fill="#1a1a7c"/><circle cx="16.6" cy="21.5" r="0.9" fill="#1a1a7c"/><circle cx="18.3" cy="20.9" r="0.9" fill="#1a1a7c"/><circle cx="20.0" cy="21.2" r="0.9" fill="#1a1a7c"/><circle cx="21.2" cy="22.3" r="0.9" fill="#1a1a7c"/><circle cx="24.6" cy="22.6" r="0.9" fill="#1a1a7c"/><circle cx="26.4" cy="21.5" r="0.9" fill="#1a1a7c"/><circle cx="9.9" cy="23.2" r="0.9" fill="#1a1a7c"/><circle cx="11.9" cy="23.8" r="0.9" fill="#1a1a7c"/><circle cx="19.2" cy="24.1" r="0.9" fill="#1a1a7c"/><circle cx="23.5" cy="24.4" r="0.9" fill="#1a1a7c"/><circle cx="25.5" cy="23.8" r="0.9" fill="#1a1a7c"/><circle cx="45.7" cy="6.7" r="0.9" fill="#1a1a7c"/><circle cx="45.4" cy="7.9" r="0.9" fill="#1a1a7c"/><circle cx="41.1" cy="10.2" r="0.9" fill="#1a1a7c"/><circle cx="44.3" cy="9.9" r="0.9" fill="#1a1a7c"/><circle cx="44.0" cy="11.1" r="0.9" fill="#1a1a7c"/><circle cx="47.5" cy="9.9" r="0.9" fill="#1a1a7c"/><circle cx="30.4" cy="13.1" r="0.9" fill="#1a1a7c"/><circle cx="28.7" cy="14.8" r="0.9" fill="#1a1a7c"/><circle cx="30.7" cy="16.3" r="0.9" fill="#1a1a7c"/><circle cx="41.1" cy="13.4" r="0.9" fill="#1a1a7c"/><circle cx="40.8" cy="14.8" r="0.9" fill="#1a1a7c"/><circle cx="43.7" cy="14.5" r="0.9" fill="#1a1a7c"/><circle cx="45.4" cy="15.1" r="0.9" fill="#1a1a7c"/><circle cx="46.9" cy="14.2" r="0.9" fill="#1a1a7c"/><circle cx="48.6" cy="13.4" r="0.9" fill="#1a1a7c"/><circle cx="48.9" cy="15.1" r="0.9" fill="#1a1a7c"/><circle cx="42.6" cy="16.3" r="0.9" fill="#1a1a7c"/><circle cx="44.3" cy="16.9" r="0.9" fill="#1a1a7c"/><circle cx="45.4" cy="16.0" r="0.9" fill="#1a1a7c"/><circle cx="44.0" cy="18.3" r="0.9" fill="#1a1a7c"/><circle cx="25.5" cy="14.2" r="0.9" fill="#1a1a7c"/><circle cx="19.8" cy="25.4" r="0.9" fill="#1a1a7c"/><circle cx="21.3" cy="25.7" r="0.9" fill="#1a1a7c"/><circle cx="23.2" cy="26.1" r="0.9" fill="#1a1a7c"/><circle cx="24.8" cy="24.9" r="0.9" fill="#1a1a7c"/><circle cx="26.0" cy="28.2" r="0.9" fill="#1a1a7c"/><circle cx="22.6" cy="29.4" r="0.9" fill="#1a1a7c"/><circle cx="24.1" cy="31.9" r="0.9" fill="#1a1a7c"/><circle cx="26.3" cy="31.6" r="0.9" fill="#1a1a7c"/><circle cx="19.8" cy="33.2" r="0.9" fill="#1a1a7c"/><circle cx="21.0" cy="35.0" r="0.9" fill="#1a1a7c"/><circle cx="24.4" cy="34.4" r="0.9" fill="#1a1a7c"/><circle cx="20.7" cy="37.5" r="0.9" fill="#1a1a7c"/><circle cx="23.2" cy="37.5" r="0.9" fill="#1a1a7c"/><circle cx="24.1" cy="38.8" r="0.9" fill="#1a1a7c"/><circle cx="29.9" cy="26.8" r="0.9" fill="#1a1a7c"/><circle cx="30.5" cy="31.5" r="0.9" fill="#1a1a7c"/><circle cx="32.2" cy="30.9" r="0.9" fill="#1a1a7c"/><circle cx="31.9" cy="32.9" r="0.9" fill="#1a1a7c"/><circle cx="29.2" cy="34.9" r="0.9" fill="#1a1a7c"/><circle cx="28.2" cy="36.5" r="0.9" fill="#1a1a7c"/><circle cx="28.9" cy="37.9" r="0.9" fill="#1a1a7c"/><circle cx="34.2" cy="35.9" r="0.9" fill="#1a1a7c"/><circle cx="35.2" cy="37.2" r="0.9" fill="#1a1a7c"/><circle cx="40.2" cy="33.2" r="0.9" fill="#1a1a7c"/><circle cx="41.2" cy="31.5" r="0.9" fill="#1a1a7c"/><circle cx="42.2" cy="30.5" r="0.9" fill="#1a1a7c"/><circle cx="39.9" cy="33.9" r="0.9" fill="#1a1a7c"/><circle cx="18.6" cy="13.7" r="0.9" fill="#30b4e0"/><circle cx="26.4" cy="17.4" r="0.9" fill="#b4d424"/><circle cx="22.6" cy="19.2" r="0.9" fill="#30b4e0"/><circle cx="22.9" cy="21.5" r="0.9" fill="#30b4e0"/><circle cx="49.2" cy="7.6" r="0.9" fill="#8c1414"/><circle cx="36.2" cy="13.4" r="0.9" fill="#f08424"/><circle cx="25.4" cy="30.4" r="0.9" fill="#f0e024"/><circle cx="22.6" cy="36.0" r="0.9" fill="#2ca49c"/><circle cx="24.1" cy="41.9" r="0.9" fill="#8c1414"/><circle cx="31.6" cy="28.2" r="0.9" fill="#30b4e0"/><circle cx="33.2" cy="27.8" r="0.9" fill="#8c1414"/><circle cx="34.9" cy="26.8" r="0.9" fill="#8c1414"/><circle cx="34.2" cy="29.8" r="0.9" fill="#3cae48"/><circle cx="38.9" cy="32.2" r="0.9" fill="#2ca49c"/><circle cx="38.9" cy="39.2" r="0.9" fill="#2ca49c"/><circle cx="38.2" cy="40.9" r="0.9" fill="#8c1414"/><circle cx="38.9" cy="41.5" r="0.9" fill="#8c1414"/><circle cx="37.9" cy="42.9" r="0.9" fill="#8c1414"/><circle cx="39.2" cy="43.2" r="0.9" fill="#8c1414"/><circle cx="38.2" cy="44.5" r="0.9" fill="#8c1414"/><circle cx="39.9" cy="44.9" r="0.9" fill="#8c1414"/><circle cx="41.2" cy="45.2" r="0.9" fill="#8c1414"/><circle cx="37.2" cy="46.5" r="0.9" fill="#f08424"/><circle cx="38.9" cy="46.9" r="0.9" fill="#8c1414"/><circle cx="40.6" cy="46.2" r="0.9" fill="#8c1414"/><circle cx="39.5" cy="40.3" r="0.9" fill="#8c1414"/><circle cx="37.6" cy="41.9" r="0.9" fill="#8c1414"/><circle cx="40.1" cy="43.8" r="0.9" fill="#8c1414"/><circle cx="38.5" cy="43.7" r="0.9" fill="#8c1414"/><circle cx="38.4" cy="46.3" r="0.9" fill="#8c1414"/><circle cx="39.6" cy="45.7" r="0.9" fill="#8c1414"/><circle cx="41.0" cy="46.4" r="0.9" fill="#8c1414"/><circle cx="38.1" cy="45.4" r="0.9" fill="#8c1414"/><circle cx="39.4" cy="42.3" r="0.9" fill="#8c1414"/><circle cx="38.3" cy="40.0" r="0.9" fill="#8c1414"/></g>
<g transform="translate(228.6 95.5)"><circle cx="17.7" cy="18.0" r="0.9" fill="#1a1a7c"/><circle cx="20.7" cy="20.0" r="0.9" fill="#1a1a7c"/><circle cx="23.7" cy="20.5" r="0.9" fill="#1a1a7c"/><circle cx="18.2" cy="23.0" r="0.9" fill="#1a1a7c"/><circle cx="21.7" cy="23.5" r="0.9" fill="#1a1a7c"/><circle cx="15.2" cy="20.5" r="0.9" fill="#1a1a7c"/><circle cx="24.7" cy="19.0" r="0.9" fill="#1a1a7c"/><circle cx="22.2" cy="27.3" r="0.9" fill="#1a1a7c"/><circle cx="20.9" cy="31.0" r="0.9" fill="#1a1a7c"/><circle cx="23.4" cy="34.3" r="0.9" fill="#1a1a7c"/><circle cx="21.9" cy="37.0" r="0.9" fill="#1a1a7c"/><circle cx="43.7" cy="8.7" r="0.9" fill="#1a1a7c"/><circle cx="46.8" cy="11.7" r="0.9" fill="#1a1a7c"/><circle cx="14.5" cy="8.1" r="0.9" fill="#1a1a7c"/><circle cx="16.8" cy="9.9" r="0.9" fill="#1a1a7c"/><circle cx="12.5" cy="11.4" r="0.9" fill="#1a1a7c"/><circle cx="18.6" cy="13.7" r="0.9" fill="#1a1a7c"/><circle cx="13.9" cy="14.2" r="0.9" fill="#1a1a7c"/><circle cx="14.5" cy="15.7" r="0.9" fill="#1a1a7c"/><circle cx="16.8" cy="15.7" r="0.9" fill="#1a1a7c"/><circle cx="16.6" cy="16.9" r="0.9" fill="#1a1a7c"/><circle cx="24.9" cy="13.7" r="0.9" fill="#1a1a7c"/><circle cx="25.2" cy="14.8" r="0.9" fill="#1a1a7c"/><circle cx="9.3" cy="18.0" r="0.9" fill="#1a1a7c"/><circle cx="26.4" cy="17.4" r="0.9" fill="#1a1a7c"/><circle cx="16.3" cy="19.5" r="0.9" fill="#1a1a7c"/><circle cx="19.4" cy="18.6" r="0.9" fill="#1a1a7c"/><circle cx="22.6" cy="19.2" r="0.9" fill="#1a1a7c"/><circle cx="16.6" cy="21.5" r="0.9" fill="#1a1a7c"/><circle cx="18.3" cy="20.9" r="0.9" fill="#1a1a7c"/><circle cx="20.0" cy="21.2" r="0.9" fill="#1a1a7c"/><circle cx="21.2" cy="22.3" r="0.9" fill="#1a1a7c"/><circle cx="22.9" cy="21.5" r="0.9" fill="#1a1a7c"/><circle cx="24.6" cy="22.6" r="0.9" fill="#1a1a7c"/><circle cx="26.4" cy="21.5" r="0.9" fill="#1a1a7c"/><circle cx="19.2" cy="24.1" r="0.9" fill="#1a1a7c"/><circle cx="23.5" cy="24.4" r="0.9" fill="#1a1a7c"/><circle cx="25.5" cy="23.8" r="0.9" fill="#1a1a7c"/><circle cx="45.7" cy="6.7" r="0.9" fill="#1a1a7c"/><circle cx="45.4" cy="7.9" r="0.9" fill="#1a1a7c"/><circle cx="49.2" cy="7.6" r="0.9" fill="#1a1a7c"/><circle cx="41.1" cy="10.2" r="0.9" fill="#1a1a7c"/><circle cx="44.3" cy="9.9" r="0.9" fill="#1a1a7c"/><circle cx="44.0" cy="11.1" r="0.9" fill="#1a1a7c"/><circle cx="47.5" cy="9.9" r="0.9" fill="#1a1a7c"/><circle cx="30.4" cy="13.1" r="0.9" fill="#1a1a7c"/><circle cx="28.7" cy="14.8" r="0.9" fill="#1a1a7c"/><circle cx="30.7" cy="16.3" r="0.9" fill="#1a1a7c"/><circle cx="36.2" cy="13.4" r="0.9" fill="#1a1a7c"/><circle cx="41.1" cy="13.4" r="0.9" fill="#1a1a7c"/><circle cx="40.8" cy="14.8" r="0.9" fill="#1a1a7c"/><circle cx="43.7" cy="14.5" r="0.9" fill="#1a1a7c"/><circle cx="45.4" cy="15.1" r="0.9" fill="#1a1a7c"/><circle cx="46.9" cy="14.2" r="0.9" fill="#1a1a7c"/><circle cx="48.6" cy="13.4" r="0.9" fill="#1a1a7c"/><circle cx="48.9" cy="15.1" r="0.9" fill="#1a1a7c"/><circle cx="42.6" cy="16.3" r="0.9" fill="#1a1a7c"/><circle cx="44.3" cy="16.9" r="0.9" fill="#1a1a7c"/><circle cx="45.4" cy="16.0" r="0.9" fill="#1a1a7c"/><circle cx="44.0" cy="18.3" r="0.9" fill="#1a1a7c"/><circle cx="25.5" cy="14.2" r="0.9" fill="#1a1a7c"/><circle cx="19.8" cy="25.4" r="0.9" fill="#1a1a7c"/><circle cx="23.2" cy="26.1" r="0.9" fill="#1a1a7c"/><circle cx="24.8" cy="24.9" r="0.9" fill="#1a1a7c"/><circle cx="26.0" cy="28.2" r="0.9" fill="#1a1a7c"/><circle cx="22.6" cy="29.4" r="0.9" fill="#1a1a7c"/><circle cx="25.4" cy="30.4" r="0.9" fill="#1a1a7c"/><circle cx="24.1" cy="31.9" r="0.9" fill="#1a1a7c"/><circle cx="26.3" cy="31.6" r="0.9" fill="#1a1a7c"/><circle cx="19.8" cy="33.2" r="0.9" fill="#1a1a7c"/><circle cx="21.0" cy="35.0" r="0.9" fill="#1a1a7c"/><circle cx="22.6" cy="36.0" r="0.9" fill="#1a1a7c"/><circle cx="24.4" cy="34.4" r="0.9" fill="#1a1a7c"/><circle cx="20.7" cy="37.5" r="0.9" fill="#1a1a7c"/><circle cx="23.2" cy="37.5" r="0.9" fill="#1a1a7c"/><circle cx="24.1" cy="38.8" r="0.9" fill="#1a1a7c"/><circle cx="29.9" cy="26.8" r="0.9" fill="#1a1a7c"/><circle cx="31.6" cy="28.2" r="0.9" fill="#1a1a7c"/><circle cx="34.9" cy="26.8" r="0.9" fill="#1a1a7c"/><circle cx="34.2" cy="29.8" r="0.9" fill="#1a1a7c"/><circle cx="30.5" cy="31.5" r="0.9" fill="#1a1a7c"/><circle cx="32.2" cy="30.9" r="0.9" fill="#1a1a7c"/><circle cx="31.9" cy="32.9" r="0.9" fill="#1a1a7c"/><circle cx="29.2" cy="34.9" r="0.9" fill="#1a1a7c"/><circle cx="28.2" cy="36.5" r="0.9" fill="#1a1a7c"/><circle cx="28.9" cy="37.9" r="0.9" fill="#1a1a7c"/><circle cx="34.2" cy="35.9" r="0.9" fill="#1a1a7c"/><circle cx="35.2" cy="37.2" r="0.9" fill="#1a1a7c"/><circle cx="38.9" cy="32.2" r="0.9" fill="#1a1a7c"/><circle cx="40.2" cy="33.2" r="0.9" fill="#1a1a7c"/><circle cx="41.2" cy="31.5" r="0.9" fill="#1a1a7c"/><circle cx="42.2" cy="30.5" r="0.9" fill="#1a1a7c"/><circle cx="39.9" cy="33.9" r="0.9" fill="#1a1a7c"/><circle cx="38.9" cy="39.2" r="0.9" fill="#1a1a7c"/><circle cx="38.2" cy="40.9" r="0.9" fill="#1a1a7c"/><circle cx="38.9" cy="41.5" r="0.9" fill="#1a1a7c"/><circle cx="37.9" cy="42.9" r="0.9" fill="#1a1a7c"/><circle cx="39.2" cy="43.2" r="0.9" fill="#1a1a7c"/><circle cx="38.2" cy="44.5" r="0.9" fill="#1a1a7c"/><circle cx="39.9" cy="44.9" r="0.9" fill="#1a1a7c"/><circle cx="37.2" cy="46.5" r="0.9" fill="#1a1a7c"/><circle cx="38.9" cy="46.9" r="0.9" fill="#1a1a7c"/><circle cx="40.6" cy="46.2" r="0.9" fill="#1a1a7c"/><circle cx="39.5" cy="40.3" r="0.9" fill="#1a1a7c"/><circle cx="37.6" cy="41.9" r="0.9" fill="#1a1a7c"/><circle cx="40.1" cy="43.8" r="0.9" fill="#1a1a7c"/><circle cx="38.5" cy="43.7" r="0.9" fill="#1a1a7c"/><circle cx="38.4" cy="46.3" r="0.9" fill="#1a1a7c"/><circle cx="39.6" cy="45.7" r="0.9" fill="#1a1a7c"/><circle cx="41.0" cy="46.4" r="0.9" fill="#1a1a7c"/><circle cx="38.1" cy="45.4" r="0.9" fill="#1a1a7c"/><circle cx="39.4" cy="42.3" r="0.9" fill="#1a1a7c"/><circle cx="38.3" cy="40.0" r="0.9" fill="#1a1a7c"/><circle cx="20.6" cy="9.0" r="0.9" fill="#d83224"/><circle cx="9.9" cy="23.2" r="0.9" fill="#d83224"/><circle cx="11.9" cy="23.8" r="0.9" fill="#d83224"/><circle cx="21.3" cy="25.7" r="0.9" fill="#f0e024"/><circle cx="24.1" cy="41.9" r="0.9" fill="#30b4e0"/><circle cx="33.2" cy="27.8" r="0.9" fill="#30b4e0"/><circle cx="41.2" cy="45.2" r="0.9" fill="#d83224"/></g>
<g transform="translate(290.4 95.5)"><circle cx="17.7" cy="18.0" r="0.9" fill="#1a1a7c"/><circle cx="20.7" cy="20.0" r="0.9" fill="#1a1a7c"/><circle cx="23.7" cy="20.5" r="0.9" fill="#1a1a7c"/><circle cx="18.2" cy="23.0" r="0.9" fill="#1a1a7c"/><circle cx="21.7" cy="23.5" r="0.9" fill="#1a1a7c"/><circle cx="15.2" cy="20.5" r="0.9" fill="#1a1a7c"/><circle cx="24.7" cy="19.0" r="0.9" fill="#1a1a7c"/><circle cx="22.2" cy="27.3" r="0.9" fill="#1a1a7c"/><circle cx="20.9" cy="31.0" r="0.9" fill="#1a1a7c"/><circle cx="23.4" cy="34.3" r="0.9" fill="#1a1a7c"/><circle cx="21.9" cy="37.0" r="0.9" fill="#1a1a7c"/><circle cx="14.5" cy="8.1" r="0.9" fill="#1a1a7c"/><circle cx="16.8" cy="9.9" r="0.9" fill="#1a1a7c"/><circle cx="20.6" cy="9.0" r="0.9" fill="#1a1a7c"/><circle cx="18.6" cy="13.7" r="0.9" fill="#1a1a7c"/><circle cx="13.9" cy="14.2" r="0.9" fill="#1a1a7c"/><circle cx="16.8" cy="15.7" r="0.9" fill="#1a1a7c"/><circle cx="16.6" cy="16.9" r="0.9" fill="#1a1a7c"/><circle cx="24.9" cy="13.7" r="0.9" fill="#1a1a7c"/><circle cx="25.2" cy="14.8" r="0.9" fill="#1a1a7c"/><circle cx="9.3" cy="18.0" r="0.9" fill="#1a1a7c"/><circle cx="16.3" cy="19.5" r="0.9" fill="#1a1a7c"/><circle cx="19.4" cy="18.6" r="0.9" fill="#1a1a7c"/><circle cx="22.6" cy="19.2" r="0.9" fill="#1a1a7c"/><circle cx="16.6" cy="21.5" r="0.9" fill="#1a1a7c"/><circle cx="18.3" cy="20.9" r="0.9" fill="#1a1a7c"/><circle cx="20.0" cy="21.2" r="0.9" fill="#1a1a7c"/><circle cx="21.2" cy="22.3" r="0.9" fill="#1a1a7c"/><circle cx="22.9" cy="21.5" r="0.9" fill="#1a1a7c"/><circle cx="24.6" cy="22.6" r="0.9" fill="#1a1a7c"/><circle cx="26.4" cy="21.5" r="0.9" fill="#1a1a7c"/><circle cx="9.9" cy="23.2" r="0.9" fill="#1a1a7c"/><circle cx="11.9" cy="23.8" r="0.9" fill="#1a1a7c"/><circle cx="19.2" cy="24.1" r="0.9" fill="#1a1a7c"/><circle cx="23.5" cy="24.4" r="0.9" fill="#1a1a7c"/><circle cx="25.5" cy="23.8" r="0.9" fill="#1a1a7c"/><circle cx="30.4" cy="13.1" r="0.9" fill="#1a1a7c"/><circle cx="19.8" cy="25.4" r="0.9" fill="#1a1a7c"/><circle cx="21.3" cy="25.7" r="0.9" fill="#1a1a7c"/><circle cx="23.2" cy="26.1" r="0.9" fill="#1a1a7c"/><circle cx="24.8" cy="24.9" r="0.9" fill="#1a1a7c"/><circle cx="26.0" cy="28.2" r="0.9" fill="#1a1a7c"/><circle cx="22.6" cy="29.4" r="0.9" fill="#1a1a7c"/><circle cx="25.4" cy="30.4" r="0.9" fill="#1a1a7c"/><circle cx="24.1" cy="31.9" r="0.9" fill="#1a1a7c"/><circle cx="26.3" cy="31.6" r="0.9" fill="#1a1a7c"/><circle cx="19.8" cy="33.2" r="0.9" fill="#1a1a7c"/><circle cx="21.0" cy="35.0" r="0.9" fill="#1a1a7c"/><circle cx="22.6" cy="36.0" r="0.9" fill="#1a1a7c"/><circle cx="24.4" cy="34.4" r="0.9" fill="#1a1a7c"/><circle cx="20.7" cy="37.5" r="0.9" fill="#1a1a7c"/><circle cx="23.2" cy="37.5" r="0.9" fill="#1a1a7c"/><circle cx="24.1" cy="41.9" r="0.9" fill="#1a1a7c"/><circle cx="31.6" cy="28.2" r="0.9" fill="#1a1a7c"/><circle cx="33.2" cy="27.8" r="0.9" fill="#1a1a7c"/><circle cx="34.9" cy="26.8" r="0.9" fill="#1a1a7c"/><circle cx="34.2" cy="29.8" r="0.9" fill="#1a1a7c"/><circle cx="30.5" cy="31.5" r="0.9" fill="#1a1a7c"/><circle cx="32.2" cy="30.9" r="0.9" fill="#1a1a7c"/><circle cx="31.9" cy="32.9" r="0.9" fill="#1a1a7c"/><circle cx="29.2" cy="34.9" r="0.9" fill="#1a1a7c"/><circle cx="35.2" cy="37.2" r="0.9" fill="#1a1a7c"/><circle cx="38.9" cy="32.2" r="0.9" fill="#1a1a7c"/><circle cx="41.2" cy="31.5" r="0.9" fill="#1a1a7c"/><circle cx="38.2" cy="40.9" r="0.9" fill="#1a1a7c"/><circle cx="37.9" cy="42.9" r="0.9" fill="#1a1a7c"/><circle cx="39.2" cy="43.2" r="0.9" fill="#1a1a7c"/><circle cx="38.2" cy="44.5" r="0.9" fill="#1a1a7c"/><circle cx="39.9" cy="44.9" r="0.9" fill="#1a1a7c"/><circle cx="37.2" cy="46.5" r="0.9" fill="#1a1a7c"/><circle cx="38.9" cy="46.9" r="0.9" fill="#1a1a7c"/><circle cx="40.6" cy="46.2" r="0.9" fill="#1a1a7c"/><circle cx="39.5" cy="40.3" r="0.9" fill="#1a1a7c"/><circle cx="37.6" cy="41.9" r="0.9" fill="#1a1a7c"/><circle cx="40.1" cy="43.8" r="0.9" fill="#1a1a7c"/><circle cx="38.5" cy="43.7" r="0.9" fill="#1a1a7c"/><circle cx="38.4" cy="46.3" r="0.9" fill="#1a1a7c"/><circle cx="39.6" cy="45.7" r="0.9" fill="#1a1a7c"/><circle cx="41.0" cy="46.4" r="0.9" fill="#1a1a7c"/><circle cx="38.1" cy="45.4" r="0.9" fill="#1a1a7c"/><circle cx="39.4" cy="42.3" r="0.9" fill="#1a1a7c"/><circle cx="38.3" cy="40.0" r="0.9" fill="#1a1a7c"/><circle cx="43.7" cy="8.7" r="0.9" fill="#8c1414"/><circle cx="46.8" cy="11.7" r="0.9" fill="#8c1414"/><circle cx="12.5" cy="11.4" r="0.9" fill="#30b4e0"/><circle cx="14.5" cy="15.7" r="0.9" fill="#3cae48"/><circle cx="26.4" cy="17.4" r="0.9" fill="#b4d424"/><circle cx="45.7" cy="6.7" r="0.9" fill="#8c1414"/><circle cx="45.4" cy="7.9" r="0.9" fill="#8c1414"/><circle cx="49.2" cy="7.6" r="0.9" fill="#8c1414"/><circle cx="41.1" cy="10.2" r="0.9" fill="#8c1414"/><circle cx="44.3" cy="9.9" r="0.9" fill="#8c1414"/><circle cx="44.0" cy="11.1" r="0.9" fill="#8c1414"/><circle cx="47.5" cy="9.9" r="0.9" fill="#8c1414"/><circle cx="28.7" cy="14.8" r="0.9" fill="#8c1414"/><circle cx="30.7" cy="16.3" r="0.9" fill="#8c1414"/><circle cx="36.2" cy="13.4" r="0.9" fill="#8c1414"/><circle cx="41.1" cy="13.4" r="0.9" fill="#8c1414"/><circle cx="40.8" cy="14.8" r="0.9" fill="#8c1414"/><circle cx="43.7" cy="14.5" r="0.9" fill="#8c1414"/><circle cx="45.4" cy="15.1" r="0.9" fill="#8c1414"/><circle cx="46.9" cy="14.2" r="0.9" fill="#8c1414"/><circle cx="48.6" cy="13.4" r="0.9" fill="#8c1414"/><circle cx="48.9" cy="15.1" r="0.9" fill="#8c1414"/><circle cx="42.6" cy="16.3" r="0.9" fill="#8c1414"/><circle cx="44.3" cy="16.9" r="0.9" fill="#8c1414"/><circle cx="45.4" cy="16.0" r="0.9" fill="#8c1414"/><circle cx="44.0" cy="18.3" r="0.9" fill="#d83224"/><circle cx="25.5" cy="14.2" r="0.9" fill="#f0e024"/><circle cx="24.1" cy="38.8" r="0.9" fill="#30b4e0"/><circle cx="29.9" cy="26.8" r="0.9" fill="#30b4e0"/><circle cx="28.2" cy="36.5" r="0.9" fill="#30b4e0"/><circle cx="28.9" cy="37.9" r="0.9" fill="#f08424"/><circle cx="34.2" cy="35.9" r="0.9" fill="#f08424"/><circle cx="40.2" cy="33.2" r="0.9" fill="#f0e024"/><circle cx="42.2" cy="30.5" r="0.9" fill="#d83224"/><circle cx="39.9" cy="33.9" r="0.9" fill="#d83224"/><circle cx="38.9" cy="39.2" r="0.9" fill="#30b4e0"/><circle cx="38.9" cy="41.5" r="0.9" fill="#2ca49c"/><circle cx="41.2" cy="45.2" r="0.9" fill="#f08424"/></g>
<g transform="translate(351.6 95.5)"><circle cx="43.7" cy="8.7" r="0.9" fill="#1a1a7c"/><circle cx="46.8" cy="11.7" r="0.9" fill="#1a1a7c"/><circle cx="45.7" cy="6.7" r="0.9" fill="#1a1a7c"/><circle cx="45.4" cy="7.9" r="0.9" fill="#1a1a7c"/><circle cx="41.1" cy="10.2" r="0.9" fill="#1a1a7c"/><circle cx="44.3" cy="9.9" r="0.9" fill="#1a1a7c"/><circle cx="44.0" cy="11.1" r="0.9" fill="#1a1a7c"/><circle cx="47.5" cy="9.9" r="0.9" fill="#1a1a7c"/><circle cx="40.8" cy="14.8" r="0.9" fill="#1a1a7c"/><circle cx="43.7" cy="14.5" r="0.9" fill="#1a1a7c"/><circle cx="46.9" cy="14.2" r="0.9" fill="#1a1a7c"/><circle cx="48.6" cy="13.4" r="0.9" fill="#1a1a7c"/><circle cx="48.9" cy="15.1" r="0.9" fill="#1a1a7c"/><circle cx="44.3" cy="16.9" r="0.9" fill="#1a1a7c"/><circle cx="45.4" cy="16.0" r="0.9" fill="#1a1a7c"/><circle cx="44.0" cy="18.3" r="0.9" fill="#1a1a7c"/><circle cx="38.9" cy="32.2" r="0.9" fill="#1a1a7c"/><circle cx="41.2" cy="31.5" r="0.9" fill="#1a1a7c"/><circle cx="38.2" cy="40.9" r="0.9" fill="#1a1a7c"/><circle cx="38.9" cy="41.5" r="0.9" fill="#1a1a7c"/><circle cx="37.9" cy="42.9" r="0.9" fill="#1a1a7c"/><circle cx="39.2" cy="43.2" r="0.9" fill="#1a1a7c"/><circle cx="38.2" cy="44.5" r="0.9" fill="#1a1a7c"/><circle cx="39.9" cy="44.9" r="0.9" fill="#1a1a7c"/><circle cx="41.2" cy="45.2" r="0.9" fill="#1a1a7c"/><circle cx="37.2" cy="46.5" r="0.9" fill="#1a1a7c"/><circle cx="38.9" cy="46.9" r="0.9" fill="#1a1a7c"/><circle cx="40.6" cy="46.2" r="0.9" fill="#1a1a7c"/><circle cx="39.5" cy="40.3" r="0.9" fill="#1a1a7c"/><circle cx="37.6" cy="41.9" r="0.9" fill="#1a1a7c"/><circle cx="40.1" cy="43.8" r="0.9" fill="#1a1a7c"/><circle cx="38.5" cy="43.7" r="0.9" fill="#1a1a7c"/><circle cx="38.4" cy="46.3" r="0.9" fill="#1a1a7c"/><circle cx="39.6" cy="45.7" r="0.9" fill="#1a1a7c"/><circle cx="41.0" cy="46.4" r="0.9" fill="#1a1a7c"/><circle cx="38.1" cy="45.4" r="0.9" fill="#1a1a7c"/><circle cx="39.4" cy="42.3" r="0.9" fill="#1a1a7c"/><circle cx="38.3" cy="40.0" r="0.9" fill="#1a1a7c"/><circle cx="17.7" cy="18.0" r="0.9" fill="#d83224"/><circle cx="20.7" cy="20.0" r="0.9" fill="#d83224"/><circle cx="23.7" cy="20.5" r="0.9" fill="#d83224"/><circle cx="18.2" cy="23.0" r="0.9" fill="#d83224"/><circle cx="21.7" cy="23.5" r="0.9" fill="#f08424"/><circle cx="15.2" cy="20.5" r="0.9" fill="#d83224"/><circle cx="24.7" cy="19.0" r="0.9" fill="#d83224"/><circle cx="22.2" cy="27.3" r="0.9" fill="#f0e024"/><circle cx="20.9" cy="31.0" r="0.9" fill="#b4d424"/><circle cx="23.4" cy="34.3" r="0.9" fill="#3cae48"/><circle cx="21.9" cy="37.0" r="0.9" fill="#30b4e0"/><circle cx="14.5" cy="8.1" r="0.9" fill="#8c1414"/><circle cx="16.8" cy="9.9" r="0.9" fill="#8c1414"/><circle cx="20.6" cy="9.0" r="0.9" fill="#8c1414"/><circle cx="12.5" cy="11.4" r="0.9" fill="#8c1414"/><circle cx="18.6" cy="13.7" r="0.9" fill="#8c1414"/><circle cx="13.9" cy="14.2" r="0.9" fill="#8c1414"/><circle cx="14.5" cy="15.7" r="0.9" fill="#8c1414"/><circle cx="16.8" cy="15.7" r="0.9" fill="#8c1414"/><circle cx="16.6" cy="16.9" r="0.9" fill="#8c1414"/><circle cx="24.9" cy="13.7" r="0.9" fill="#8c1414"/><circle cx="25.2" cy="14.8" r="0.9" fill="#8c1414"/><circle cx="9.3" cy="18.0" r="0.9" fill="#8c1414"/><circle cx="26.4" cy="17.4" r="0.9" fill="#8c1414"/><circle cx="16.3" cy="19.5" r="0.9" fill="#d83224"/><circle cx="19.4" cy="18.6" r="0.9" fill="#d83224"/><circle cx="22.6" cy="19.2" r="0.9" fill="#d83224"/><circle cx="16.6" cy="21.5" r="0.9" fill="#f08424"/><circle cx="18.3" cy="20.9" r="0.9" fill="#8c1414"/><circle cx="20.0" cy="21.2" r="0.9" fill="#d83224"/><circle cx="21.2" cy="22.3" r="0.9" fill="#d83224"/><circle cx="22.9" cy="21.5" r="0.9" fill="#f08424"/><circle cx="24.6" cy="22.6" r="0.9" fill="#f08424"/><circle cx="26.4" cy="21.5" r="0.9" fill="#8c1414"/><circle cx="9.9" cy="23.2" r="0.9" fill="#8c1414"/><circle cx="11.9" cy="23.8" r="0.9" fill="#8c1414"/><circle cx="19.2" cy="24.1" r="0.9" fill="#f08424"/><circle cx="23.5" cy="24.4" r="0.9" fill="#d83224"/><circle cx="25.5" cy="23.8" r="0.9" fill="#8c1414"/><circle cx="49.2" cy="7.6" r="0.9" fill="#30b4e0"/><circle cx="30.4" cy="13.1" r="0.9" fill="#8c1414"/><circle cx="28.7" cy="14.8" r="0.9" fill="#8c1414"/><circle cx="30.7" cy="16.3" r="0.9" fill="#f08424"/><circle cx="36.2" cy="13.4" r="0.9" fill="#d83224"/><circle cx="41.1" cy="13.4" r="0.9" fill="#3cae48"/><circle cx="45.4" cy="15.1" r="0.9" fill="#2848b8"/><circle cx="42.6" cy="16.3" r="0.9" fill="#2848b8"/><circle cx="25.5" cy="14.2" r="0.9" fill="#8c1414"/><circle cx="19.8" cy="25.4" r="0.9" fill="#d83224"/><circle cx="21.3" cy="25.7" r="0.9" fill="#f08424"/><circle cx="23.2" cy="26.1" r="0.9" fill="#d83224"/><circle cx="24.8" cy="24.9" r="0.9" fill="#f08424"/><circle cx="26.0" cy="28.2" r="0.9" fill="#f08424"/><circle cx="22.6" cy="29.4" r="0.9" fill="#f08424"/><circle cx="25.4" cy="30.4" r="0.9" fill="#f0e024"/><circle cx="24.1" cy="31.9" r="0.9" fill="#f0e024"/><circle cx="26.3" cy="31.6" r="0.9" fill="#3cae48"/><circle cx="19.8" cy="33.2" r="0.9" fill="#b4d424"/><circle cx="21.0" cy="35.0" r="0.9" fill="#2ca49c"/><circle cx="22.6" cy="36.0" r="0.9" fill="#30b4e0"/><circle cx="24.4" cy="34.4" r="0.9" fill="#2ca49c"/><circle cx="20.7" cy="37.5" r="0.9" fill="#30b4e0"/><circle cx="23.2" cy="37.5" r="0.9" fill="#3cae48"/><circle cx="24.1" cy="38.8" r="0.9" fill="#2848b8"/><circle cx="24.1" cy="41.9" r="0.9" fill="#f0e024"/><circle cx="29.9" cy="26.8" r="0.9" fill="#f08424"/><circle cx="31.6" cy="28.2" r="0.9" fill="#f0e024"/><circle cx="33.2" cy="27.8" r="0.9" fill="#f08424"/><circle cx="34.9" cy="26.8" r="0.9" fill="#8c1414"/><circle cx="34.2" cy="29.8" r="0.9" fill="#f0e024"/><circle cx="30.5" cy="31.5" r="0.9" fill="#f0e024"/><circle cx="32.2" cy="30.9" r="0.9" fill="#b4d424"/><circle cx="31.9" cy="32.9" r="0.9" fill="#b4d424"/><circle cx="29.2" cy="34.9" r="0.9" fill="#30b4e0"/><circle cx="28.2" cy="36.5" r="0.9" fill="#2ca49c"/><circle cx="28.9" cy="37.9" r="0.9" fill="#2848b8"/><circle cx="34.2" cy="35.9" r="0.9" fill="#30b4e0"/><circle cx="35.2" cy="37.2" r="0.9" fill="#2848b8"/><circle cx="40.2" cy="33.2" r="0.9" fill="#f08424"/><circle cx="42.2" cy="30.5" r="0.9" fill="#d83224"/><circle cx="39.9" cy="33.9" r="0.9" fill="#2848b8"/><circle cx="38.9" cy="39.2" r="0.9" fill="#2ca49c"/></g>
<g transform="translate(413.3 95.5)"><circle cx="43.7" cy="8.7" r="0.9" fill="#1a1a7c"/><circle cx="46.8" cy="11.7" r="0.9" fill="#1a1a7c"/><circle cx="20.6" cy="9.0" r="0.9" fill="#1a1a7c"/><circle cx="45.7" cy="6.7" r="0.9" fill="#1a1a7c"/><circle cx="45.4" cy="7.9" r="0.9" fill="#1a1a7c"/><circle cx="49.2" cy="7.6" r="0.9" fill="#1a1a7c"/><circle cx="44.3" cy="9.9" r="0.9" fill="#1a1a7c"/><circle cx="44.0" cy="11.1" r="0.9" fill="#1a1a7c"/><circle cx="47.5" cy="9.9" r="0.9" fill="#1a1a7c"/><circle cx="36.2" cy="13.4" r="0.9" fill="#1a1a7c"/><circle cx="41.1" cy="13.4" r="0.9" fill="#1a1a7c"/><circle cx="40.8" cy="14.8" r="0.9" fill="#1a1a7c"/><circle cx="43.7" cy="14.5" r="0.9" fill="#1a1a7c"/><circle cx="45.4" cy="15.1" r="0.9" fill="#1a1a7c"/><circle cx="46.9" cy="14.2" r="0.9" fill="#1a1a7c"/><circle cx="48.6" cy="13.4" r="0.9" fill="#1a1a7c"/><circle cx="48.9" cy="15.1" r="0.9" fill="#1a1a7c"/><circle cx="42.6" cy="16.3" r="0.9" fill="#1a1a7c"/><circle cx="44.3" cy="16.9" r="0.9" fill="#1a1a7c"/><circle cx="45.4" cy="16.0" r="0.9" fill="#1a1a7c"/><circle cx="44.0" cy="18.3" r="0.9" fill="#1a1a7c"/><circle cx="29.9" cy="26.8" r="0.9" fill="#1a1a7c"/><circle cx="31.6" cy="28.2" r="0.9" fill="#1a1a7c"/><circle cx="33.2" cy="27.8" r="0.9" fill="#1a1a7c"/><circle cx="34.9" cy="26.8" r="0.9" fill="#1a1a7c"/><circle cx="34.2" cy="29.8" r="0.9" fill="#1a1a7c"/><circle cx="30.5" cy="31.5" r="0.9" fill="#1a1a7c"/><circle cx="31.9" cy="32.9" r="0.9" fill="#1a1a7c"/><circle cx="29.2" cy="34.9" r="0.9" fill="#1a1a7c"/><circle cx="28.2" cy="36.5" r="0.9" fill="#1a1a7c"/><circle cx="28.9" cy="37.9" r="0.9" fill="#1a1a7c"/><circle cx="34.2" cy="35.9" r="0.9" fill="#1a1a7c"/><circle cx="35.2" cy="37.2" r="0.9" fill="#1a1a7c"/><circle cx="38.9" cy="32.2" r="0.9" fill="#1a1a7c"/><circle cx="40.2" cy="33.2" r="0.9" fill="#1a1a7c"/><circle cx="41.2" cy="31.5" r="0.9" fill="#1a1a7c"/><circle cx="42.2" cy="30.5" r="0.9" fill="#1a1a7c"/><circle cx="39.9" cy="33.9" r="0.9" fill="#1a1a7c"/><circle cx="38.9" cy="39.2" r="0.9" fill="#1a1a7c"/><circle cx="38.2" cy="40.9" r="0.9" fill="#1a1a7c"/><circle cx="38.9" cy="41.5" r="0.9" fill="#1a1a7c"/><circle cx="37.9" cy="42.9" r="0.9" fill="#1a1a7c"/><circle cx="39.2" cy="43.2" r="0.9" fill="#1a1a7c"/><circle cx="38.2" cy="44.5" r="0.9" fill="#1a1a7c"/><circle cx="39.9" cy="44.9" r="0.9" fill="#1a1a7c"/><circle cx="41.2" cy="45.2" r="0.9" fill="#1a1a7c"/><circle cx="37.2" cy="46.5" r="0.9" fill="#1a1a7c"/><circle cx="38.9" cy="46.9" r="0.9" fill="#1a1a7c"/><circle cx="40.6" cy="46.2" r="0.9" fill="#1a1a7c"/><circle cx="39.5" cy="40.3" r="0.9" fill="#1a1a7c"/><circle cx="37.6" cy="41.9" r="0.9" fill="#1a1a7c"/><circle cx="40.1" cy="43.8" r="0.9" fill="#1a1a7c"/><circle cx="38.5" cy="43.7" r="0.9" fill="#1a1a7c"/><circle cx="38.4" cy="46.3" r="0.9" fill="#1a1a7c"/><circle cx="39.6" cy="45.7" r="0.9" fill="#1a1a7c"/><circle cx="41.0" cy="46.4" r="0.9" fill="#1a1a7c"/><circle cx="38.1" cy="45.4" r="0.9" fill="#1a1a7c"/><circle cx="39.4" cy="42.3" r="0.9" fill="#1a1a7c"/><circle cx="38.3" cy="40.0" r="0.9" fill="#1a1a7c"/><circle cx="17.7" cy="18.0" r="0.9" fill="#3cae48"/><circle cx="20.7" cy="20.0" r="0.9" fill="#f0e024"/><circle cx="23.7" cy="20.5" r="0.9" fill="#d83224"/><circle cx="18.2" cy="23.0" r="0.9" fill="#f0e024"/><circle cx="21.7" cy="23.5" r="0.9" fill="#d83224"/><circle cx="15.2" cy="20.5" r="0.9" fill="#8c1414"/><circle cx="24.7" cy="19.0" r="0.9" fill="#f0e024"/><circle cx="22.2" cy="27.3" r="0.9" fill="#3cae48"/><circle cx="20.9" cy="31.0" r="0.9" fill="#f0e024"/><circle cx="23.4" cy="34.3" r="0.9" fill="#f0e024"/><circle cx="21.9" cy="37.0" r="0.9" fill="#30b4e0"/><circle cx="14.5" cy="8.1" r="0.9" fill="#b4d424"/><circle cx="16.8" cy="9.9" r="0.9" fill="#3cae48"/><circle cx="12.5" cy="11.4" r="0.9" fill="#f08424"/><circle cx="18.6" cy="13.7" r="0.9" fill="#3cae48"/><circle cx="13.9" cy="14.2" r="0.9" fill="#8c1414"/><circle cx="14.5" cy="15.7" r="0.9" fill="#d83224"/><circle cx="16.8" cy="15.7" r="0.9" fill="#f08424"/><circle cx="16.6" cy="16.9" r="0.9" fill="#f08424"/><circle cx="24.9" cy="13.7" r="0.9" fill="#d83224"/><circle cx="25.2" cy="14.8" r="0.9" fill="#5aa8f0"/><circle cx="9.3" cy="18.0" r="0.9" fill="#d83224"/><circle cx="26.4" cy="17.4" r="0.9" fill="#3cae48"/><circle cx="16.3" cy="19.5" r="0.9" fill="#d83224"/><circle cx="19.4" cy="18.6" r="0.9" fill="#3cae48"/><circle cx="22.6" cy="19.2" r="0.9" fill="#f08424"/><circle cx="16.6" cy="21.5" r="0.9" fill="#f0e024"/><circle cx="18.3" cy="20.9" r="0.9" fill="#f0e024"/><circle cx="20.0" cy="21.2" r="0.9" fill="#3cae48"/><circle cx="21.2" cy="22.3" r="0.9" fill="#f08424"/><circle cx="22.9" cy="21.5" r="0.9" fill="#8c1414"/><circle cx="24.6" cy="22.6" r="0.9" fill="#8c1414"/><circle cx="26.4" cy="21.5" r="0.9" fill="#8c1414"/><circle cx="9.9" cy="23.2" r="0.9" fill="#f0e024"/><circle cx="11.9" cy="23.8" r="0.9" fill="#2848b8"/><circle cx="19.2" cy="24.1" r="0.9" fill="#8c1414"/><circle cx="23.5" cy="24.4" r="0.9" fill="#d83224"/><circle cx="25.5" cy="23.8" r="0.9" fill="#d83224"/><circle cx="41.1" cy="10.2" r="0.9" fill="#f08424"/><circle cx="30.4" cy="13.1" r="0.9" fill="#30b4e0"/><circle cx="28.7" cy="14.8" r="0.9" fill="#d83224"/><circle cx="30.7" cy="16.3" r="0.9" fill="#f08424"/><circle cx="25.5" cy="14.2" r="0.9" fill="#d83224"/><circle cx="19.8" cy="25.4" r="0.9" fill="#f0e024"/><circle cx="21.3" cy="25.7" r="0.9" fill="#f08424"/><circle cx="23.2" cy="26.1" r="0.9" fill="#f08424"/><circle cx="24.8" cy="24.9" r="0.9" fill="#8c1414"/><circle cx="26.0" cy="28.2" r="0.9" fill="#f0e024"/><circle cx="22.6" cy="29.4" r="0.9" fill="#8c1414"/><circle cx="25.4" cy="30.4" r="0.9" fill="#30b4e0"/><circle cx="24.1" cy="31.9" r="0.9" fill="#f0e024"/><circle cx="26.3" cy="31.6" r="0.9" fill="#3cae48"/><circle cx="19.8" cy="33.2" r="0.9" fill="#3cae48"/><circle cx="21.0" cy="35.0" r="0.9" fill="#d83224"/><circle cx="22.6" cy="36.0" r="0.9" fill="#d83224"/><circle cx="24.4" cy="34.4" r="0.9" fill="#3cae48"/><circle cx="20.7" cy="37.5" r="0.9" fill="#3cae48"/><circle cx="23.2" cy="37.5" r="0.9" fill="#8c1414"/><circle cx="24.1" cy="38.8" r="0.9" fill="#f08424"/><circle cx="24.1" cy="41.9" r="0.9" fill="#3cae48"/><circle cx="32.2" cy="30.9" r="0.9" fill="#30b4e0"/></g>
<g transform="translate(105.5 157.0)"><circle cx="10.2" cy="6.5" r="0.9" fill="#1a1a7c"/><circle cx="12.7" cy="8.0" r="0.9" fill="#1a1a7c"/><circle cx="15.2" cy="10.5" r="0.9" fill="#1a1a7c"/><circle cx="17.7" cy="11.5" r="0.9" fill="#1a1a7c"/><circle cx="19.2" cy="15.0" r="0.9" fill="#1a1a7c"/><circle cx="21.7" cy="18.5" r="0.9" fill="#1a1a7c"/><circle cx="23.7" cy="22.0" r="0.9" fill="#1a1a7c"/><circle cx="25.2" cy="23.5" r="0.9" fill="#1a1a7c"/><circle cx="8.7" cy="7.2" r="0.9" fill="#1a1a7c"/><circle cx="11.4" cy="13.8" r="0.9" fill="#1a1a7c"/><circle cx="16.4" cy="13.5" r="0.9" fill="#1a1a7c"/><circle cx="23.0" cy="14.4" r="0.9" fill="#1a1a7c"/><circle cx="46.2" cy="10.3" r="0.9" fill="#1a1a7c"/><circle cx="47.7" cy="11.2" r="0.9" fill="#1a1a7c"/><circle cx="46.0" cy="15.5" r="0.9" fill="#1a1a7c"/><circle cx="8.5" cy="2.5" r="0.9" fill="#1a1a7c"/><circle cx="7.3" cy="4.8" r="0.9" fill="#1a1a7c"/><circle cx="7.6" cy="5.9" r="0.9" fill="#1a1a7c"/><circle cx="11.1" cy="5.4" r="0.9" fill="#1a1a7c"/><circle cx="12.8" cy="5.7" r="0.9" fill="#1a1a7c"/><circle cx="11.6" cy="7.1" r="0.9" fill="#1a1a7c"/><circle cx="13.4" cy="7.7" r="0.9" fill="#1a1a7c"/><circle cx="16.0" cy="8.0" r="0.9" fill="#1a1a7c"/><circle cx="8.5" cy="8.8" r="0.9" fill="#1a1a7c"/><circle cx="5.6" cy="9.4" r="0.9" fill="#1a1a7c"/><circle cx="9.9" cy="9.7" r="0.9" fill="#1a1a7c"/><circle cx="12.2" cy="9.1" r="0.9" fill="#1a1a7c"/><circle cx="14.2" cy="9.4" r="0.9" fill="#1a1a7c"/><circle cx="17.1" cy="9.4" r="0.9" fill="#1a1a7c"/><circle cx="4.1" cy="11.4" r="0.9" fill="#1a1a7c"/><circle cx="6.7" cy="11.1" r="0.9" fill="#1a1a7c"/><circle cx="9.9" cy="11.1" r="0.9" fill="#1a1a7c"/><circle cx="14.8" cy="11.1" r="0.9" fill="#1a1a7c"/><circle cx="10.2" cy="12.9" r="0.9" fill="#1a1a7c"/><circle cx="13.4" cy="12.9" r="0.9" fill="#1a1a7c"/><circle cx="15.7" cy="12.6" r="0.9" fill="#1a1a7c"/><circle cx="5.3" cy="14.3" r="0.9" fill="#1a1a7c"/><circle cx="14.8" cy="15.2" r="0.9" fill="#1a1a7c"/><circle cx="18.6" cy="13.7" r="0.9" fill="#1a1a7c"/><circle cx="20.3" cy="12.9" r="0.9" fill="#1a1a7c"/><circle cx="22.0" cy="12.6" r="0.9" fill="#1a1a7c"/><circle cx="24.6" cy="13.2" r="0.9" fill="#1a1a7c"/><circle cx="7.0" cy="16.4" r="0.9" fill="#1a1a7c"/><circle cx="13.4" cy="17.5" r="0.9" fill="#1a1a7c"/><circle cx="14.8" cy="17.2" r="0.9" fill="#1a1a7c"/><circle cx="18.9" cy="16.4" r="0.9" fill="#1a1a7c"/><circle cx="20.6" cy="16.1" r="0.9" fill="#1a1a7c"/><circle cx="22.6" cy="15.2" r="0.9" fill="#1a1a7c"/><circle cx="24.6" cy="16.4" r="0.9" fill="#1a1a7c"/><circle cx="25.8" cy="17.5" r="0.9" fill="#1a1a7c"/><circle cx="19.4" cy="18.1" r="0.9" fill="#1a1a7c"/><circle cx="21.8" cy="17.5" r="0.9" fill="#1a1a7c"/><circle cx="8.5" cy="19.5" r="0.9" fill="#1a1a7c"/><circle cx="20.0" cy="19.5" r="0.9" fill="#1a1a7c"/><circle cx="22.3" cy="19.5" r="0.9" fill="#1a1a7c"/><circle cx="21.2" cy="21.0" r="0.9" fill="#1a1a7c"/><circle cx="24.6" cy="21.6" r="0.9" fill="#1a1a7c"/><circle cx="26.4" cy="22.1" r="0.9" fill="#1a1a7c"/><circle cx="9.9" cy="23.9" r="0.9" fill="#1a1a7c"/><circle cx="23.5" cy="23.3" r="0.9" fill="#1a1a7c"/><circle cx="29.8" cy="11.4" r="0.9" fill="#1a1a7c"/><circle cx="31.0" cy="11.7" r="0.9" fill="#1a1a7c"/><circle cx="29.5" cy="14.9" r="0.9" fill="#1a1a7c"/><circle cx="31.0" cy="15.2" r="0.9" fill="#1a1a7c"/><circle cx="36.8" cy="12.6" r="0.9" fill="#1a1a7c"/><circle cx="38.2" cy="12.9" r="0.9" fill="#1a1a7c"/><circle cx="41.4" cy="12.9" r="0.9" fill="#1a1a7c"/><circle cx="42.0" cy="8.0" r="0.9" fill="#1a1a7c"/><circle cx="47.8" cy="8.0" r="0.9" fill="#1a1a7c"/><circle cx="43.7" cy="9.7" r="0.9" fill="#1a1a7c"/><circle cx="45.2" cy="10.9" r="0.9" fill="#1a1a7c"/><circle cx="48.3" cy="12.3" r="0.9" fill="#1a1a7c"/><circle cx="45.2" cy="12.9" r="0.9" fill="#1a1a7c"/><circle cx="46.6" cy="13.5" r="0.9" fill="#1a1a7c"/><circle cx="48.0" cy="13.7" r="0.9" fill="#1a1a7c"/><circle cx="45.7" cy="14.6" r="0.9" fill="#1a1a7c"/><circle cx="49.5" cy="15.2" r="0.9" fill="#1a1a7c"/><circle cx="43.7" cy="16.4" r="0.9" fill="#1a1a7c"/><circle cx="47.5" cy="16.4" r="0.9" fill="#1a1a7c"/><circle cx="44.6" cy="17.5" r="0.9" fill="#1a1a7c"/><circle cx="27.5" cy="18.7" r="0.9" fill="#1a1a7c"/><circle cx="31.0" cy="24.4" r="0.9" fill="#1a1a7c"/><circle cx="24.1" cy="24.9" r="0.9" fill="#1a1a7c"/><circle cx="26.0" cy="25.2" r="0.9" fill="#1a1a7c"/><circle cx="25.1" cy="28.9" r="0.9" fill="#1a1a7c"/><circle cx="26.3" cy="28.6" r="0.9" fill="#1a1a7c"/><circle cx="25.1" cy="33.9" r="0.9" fill="#1a1a7c"/><circle cx="20.4" cy="36.4" r="0.9" fill="#1a1a7c"/><circle cx="24.1" cy="37.0" r="0.9" fill="#1a1a7c"/><circle cx="25.7" cy="36.1" r="0.9" fill="#1a1a7c"/><circle cx="23.8" cy="41.7" r="0.9" fill="#1a1a7c"/><circle cx="28.2" cy="24.0" r="0.9" fill="#1a1a7c"/><circle cx="29.5" cy="24.7" r="0.9" fill="#1a1a7c"/><circle cx="31.2" cy="24.7" r="0.9" fill="#1a1a7c"/><circle cx="27.5" cy="29.7" r="0.9" fill="#1a1a7c"/><circle cx="28.5" cy="31.4" r="0.9" fill="#1a1a7c"/><circle cx="27.5" cy="33.7" r="0.9" fill="#1a1a7c"/><circle cx="28.9" cy="35.0" r="0.9" fill="#1a1a7c"/><circle cx="24.5" cy="24.3" r="0.9" fill="#1a1a7c"/><circle cx="25.9" cy="25.3" r="0.9" fill="#1a1a7c"/><circle cx="9.3" cy="4.2" r="0.9" fill="#3cae48"/><circle cx="14.5" cy="6.2" r="0.9" fill="#f0e024"/><circle cx="12.8" cy="11.1" r="0.9" fill="#f0e024"/><circle cx="4.7" cy="12.6" r="0.9" fill="#3cae48"/><circle cx="13.4" cy="14.3" r="0.9" fill="#f0e024"/><circle cx="16.8" cy="15.5" r="0.9" fill="#d83224"/><circle cx="26.4" cy="14.6" r="0.9" fill="#30b4e0"/><circle cx="24.1" cy="19.8" r="0.9" fill="#f0e024"/><circle cx="20.9" cy="23.9" r="0.9" fill="#f0e024"/><circle cx="36.8" cy="14.3" r="0.9" fill="#d83224"/><circle cx="39.4" cy="13.5" r="0.9" fill="#3cae48"/><circle cx="41.7" cy="14.3" r="0.9" fill="#f08424"/><circle cx="44.0" cy="7.7" r="0.9" fill="#8c1414"/><circle cx="46.6" cy="9.1" r="0.9" fill="#f08424"/><circle cx="46.6" cy="11.4" r="0.9" fill="#f0e024"/><circle cx="49.8" cy="13.5" r="0.9" fill="#3cae48"/><circle cx="47.5" cy="14.6" r="0.9" fill="#8c1414"/><circle cx="16.7" cy="27.1" r="0.9" fill="#8c1414"/><circle cx="20.7" cy="27.7" r="0.9" fill="#d83224"/><circle cx="19.5" cy="37.7" r="0.9" fill="#f0e024"/><circle cx="29.5" cy="26.0" r="0.9" fill="#3cae48"/><circle cx="29.5" cy="29.4" r="0.9" fill="#30b4e0"/><circle cx="32.6" cy="31.4" r="0.9" fill="#f08424"/><circle cx="32.6" cy="35.4" r="0.9" fill="#f0e024"/><circle cx="37.9" cy="31.7" r="0.9" fill="#8c1414"/><circle cx="39.2" cy="30.4" r="0.9" fill="#8c1414"/><circle cx="40.2" cy="31.7" r="0.9" fill="#8c1414"/><circle cx="41.9" cy="31.0" r="0.9" fill="#8c1414"/><circle cx="42.2" cy="33.4" r="0.9" fill="#8c1414"/><circle cx="37.2" cy="40.4" r="0.9" fill="#8c1414"/></g>
<g transform="translate(166.8 157.0)"><circle cx="10.2" cy="6.5" r="0.9" fill="#1a1a7c"/><circle cx="12.7" cy="8.0" r="0.9" fill="#1a1a7c"/><circle cx="15.2" cy="10.5" r="0.9" fill="#1a1a7c"/><circle cx="17.7" cy="11.5" r="0.9" fill="#1a1a7c"/><circle cx="19.2" cy="15.0" r="0.9" fill="#1a1a7c"/><circle cx="21.7" cy="18.5" r="0.9" fill="#1a1a7c"/><circle cx="23.7" cy="22.0" r="0.9" fill="#1a1a7c"/><circle cx="25.2" cy="23.5" r="0.9" fill="#1a1a7c"/><circle cx="8.7" cy="7.2" r="0.9" fill="#1a1a7c"/><circle cx="11.4" cy="13.8" r="0.9" fill="#1a1a7c"/><circle cx="16.4" cy="13.5" r="0.9" fill="#1a1a7c"/><circle cx="23.0" cy="14.4" r="0.9" fill="#1a1a7c"/><circle cx="46.2" cy="10.3" r="0.9" fill="#1a1a7c"/><circle cx="47.7" cy="11.2" r="0.9" fill="#1a1a7c"/><circle cx="46.0" cy="15.5" r="0.9" fill="#1a1a7c"/><circle cx="8.5" cy="2.5" r="0.9" fill="#1a1a7c"/><circle cx="7.3" cy="4.8" r="0.9" fill="#1a1a7c"/><circle cx="7.6" cy="5.9" r="0.9" fill="#1a1a7c"/><circle cx="9.3" cy="4.2" r="0.9" fill="#1a1a7c"/><circle cx="11.1" cy="5.4" r="0.9" fill="#1a1a7c"/><circle cx="14.5" cy="6.2" r="0.9" fill="#1a1a7c"/><circle cx="11.6" cy="7.1" r="0.9" fill="#1a1a7c"/><circle cx="13.4" cy="7.7" r="0.9" fill="#1a1a7c"/><circle cx="16.0" cy="8.0" r="0.9" fill="#1a1a7c"/><circle cx="8.5" cy="8.8" r="0.9" fill="#1a1a7c"/><circle cx="5.6" cy="9.4" r="0.9" fill="#1a1a7c"/><circle cx="12.2" cy="9.1" r="0.9" fill="#1a1a7c"/><circle cx="14.2" cy="9.4" r="0.9" fill="#1a1a7c"/><circle cx="4.1" cy="11.4" r="0.9" fill="#1a1a7c"/><circle cx="6.7" cy="11.1" r="0.9" fill="#1a1a7c"/><circle cx="9.9" cy="11.1" r="0.9" fill="#1a1a7c"/><circle cx="12.8" cy="11.1" r="0.9" fill="#1a1a7c"/><circle cx="14.8" cy="11.1" r="0.9" fill="#1a1a7c"/><circle cx="4.7" cy="12.6" r="0.9" fill="#1a1a7c"/><circle cx="10.2" cy="12.9" r="0.9" fill="#1a1a7c"/><circle cx="13.4" cy="12.9" r="0.9" fill="#1a1a7c"/><circle cx="15.7" cy="12.6" r="0.9" fill="#1a1a7c"/><circle cx="5.3" cy="14.3" r="0.9" fill="#1a1a7c"/><circle cx="13.4" cy="14.3" r="0.9" fill="#1a1a7c"/><circle cx="14.8" cy="15.2" r="0.9" fill="#1a1a7c"/><circle cx="16.8" cy="15.5" r="0.9" fill="#1a1a7c"/><circle cx="20.3" cy="12.9" r="0.9" fill="#1a1a7c"/><circle cx="22.0" cy="12.6" r="0.9" fill="#1a1a7c"/><circle cx="24.6" cy="13.2" r="0.9" fill="#1a1a7c"/><circle cx="13.4" cy="17.5" r="0.9" fill="#1a1a7c"/><circle cx="14.8" cy="17.2" r="0.9" fill="#1a1a7c"/><circle cx="18.9" cy="16.4" r="0.9" fill="#1a1a7c"/><circle cx="20.6" cy="16.1" r="0.9" fill="#1a1a7c"/><circle cx="22.6" cy="15.2" r="0.9" fill="#1a1a7c"/><circle cx="24.6" cy="16.4" r="0.9" fill="#1a1a7c"/><circle cx="19.4" cy="18.1" r="0.9" fill="#1a1a7c"/><circle cx="21.8" cy="17.5" r="0.9" fill="#1a1a7c"/><circle cx="8.5" cy="19.5" r="0.9" fill="#1a1a7c"/><circle cx="20.0" cy="19.5" r="0.9" fill="#1a1a7c"/><circle cx="22.3" cy="19.5" r="0.9" fill="#1a1a7c"/><circle cx="24.1" cy="19.8" r="0.9" fill="#1a1a7c"/><circle cx="21.2" cy="21.0" r="0.9" fill="#1a1a7c"/><circle cx="24.6" cy="21.6" r="0.9" fill="#1a1a7c"/><circle cx="26.4" cy="22.1" r="0.9" fill="#1a1a7c"/><circle cx="9.9" cy="23.9" r="0.9" fill="#1a1a7c"/><circle cx="20.9" cy="23.9" r="0.9" fill="#1a1a7c"/><circle cx="23.5" cy="23.3" r="0.9" fill="#1a1a7c"/><circle cx="29.8" cy="11.4" r="0.9" fill="#1a1a7c"/><circle cx="31.0" cy="11.7" r="0.9" fill="#1a1a7c"/><circle cx="29.5" cy="14.9" r="0.9" fill="#1a1a7c"/><circle cx="31.0" cy="15.2" r="0.9" fill="#1a1a7c"/><circle cx="36.8" cy="12.6" r="0.9" fill="#1a1a7c"/><circle cx="36.8" cy="14.3" r="0.9" fill="#1a1a7c"/><circle cx="39.4" cy="13.5" r="0.9" fill="#1a1a7c"/><circle cx="41.4" cy="12.9" r="0.9" fill="#1a1a7c"/><circle cx="42.0" cy="8.0" r="0.9" fill="#1a1a7c"/><circle cx="46.6" cy="9.1" r="0.9" fill="#1a1a7c"/><circle cx="43.7" cy="9.7" r="0.9" fill="#1a1a7c"/><circle cx="46.6" cy="11.4" r="0.9" fill="#1a1a7c"/><circle cx="48.3" cy="12.3" r="0.9" fill="#1a1a7c"/><circle cx="45.2" cy="12.9" r="0.9" fill="#1a1a7c"/><circle cx="46.6" cy="13.5" r="0.9" fill="#1a1a7c"/><circle cx="48.0" cy="13.7" r="0.9" fill="#1a1a7c"/><circle cx="49.8" cy="13.5" r="0.9" fill="#1a1a7c"/><circle cx="45.7" cy="14.6" r="0.9" fill="#1a1a7c"/><circle cx="47.5" cy="14.6" r="0.9" fill="#1a1a7c"/><circle cx="49.5" cy="15.2" r="0.9" fill="#1a1a7c"/><circle cx="43.7" cy="16.4" r="0.9" fill="#1a1a7c"/><circle cx="27.5" cy="18.7" r="0.9" fill="#1a1a7c"/><circle cx="31.0" cy="24.4" r="0.9" fill="#1a1a7c"/><circle cx="24.1" cy="24.9" r="0.9" fill="#1a1a7c"/><circle cx="26.0" cy="25.2" r="0.9" fill="#1a1a7c"/><circle cx="16.7" cy="27.1" r="0.9" fill="#1a1a7c"/><circle cx="20.7" cy="27.7" r="0.9" fill="#1a1a7c"/><circle cx="25.1" cy="28.9" r="0.9" fill="#1a1a7c"/><circle cx="26.3" cy="28.6" r="0.9" fill="#1a1a7c"/><circle cx="25.1" cy="33.9" r="0.9" fill="#1a1a7c"/><circle cx="19.5" cy="37.7" r="0.9" fill="#1a1a7c"/><circle cx="24.1" cy="37.0" r="0.9" fill="#1a1a7c"/><circle cx="25.7" cy="36.1" r="0.9" fill="#1a1a7c"/><circle cx="23.8" cy="41.7" r="0.9" fill="#1a1a7c"/><circle cx="28.2" cy="24.0" r="0.9" fill="#1a1a7c"/><circle cx="29.5" cy="24.7" r="0.9" fill="#1a1a7c"/><circle cx="31.2" cy="24.7" r="0.9" fill="#1a1a7c"/><circle cx="29.5" cy="26.0" r="0.9" fill="#1a1a7c"/><circle cx="29.5" cy="29.4" r="0.9" fill="#1a1a7c"/><circle cx="28.5" cy="31.4" r="0.9" fill="#1a1a7c"/><circle cx="32.6" cy="31.4" r="0.9" fill="#1a1a7c"/><circle cx="27.5" cy="33.7" r="0.9" fill="#1a1a7c"/><circle cx="28.9" cy="35.0" r="0.9" fill="#1a1a7c"/><circle cx="32.6" cy="35.4" r="0.9" fill="#1a1a7c"/><circle cx="39.2" cy="30.4" r="0.9" fill="#1a1a7c"/><circle cx="40.2" cy="31.7" r="0.9" fill="#1a1a7c"/><circle cx="41.9" cy="31.0" r="0.9" fill="#1a1a7c"/><circle cx="37.2" cy="40.4" r="0.9" fill="#1a1a7c"/><circle cx="24.5" cy="24.3" r="0.9" fill="#1a1a7c"/><circle cx="25.9" cy="25.3" r="0.9" fill="#1a1a7c"/><circle cx="12.8" cy="5.7" r="0.9" fill="#30b4e0"/><circle cx="9.9" cy="9.7" r="0.9" fill="#80dcf0"/><circle cx="17.1" cy="9.4" r="0.9" fill="#30b4e0"/><circle cx="18.6" cy="13.7" r="0.9" fill="#30b4e0"/><circle cx="26.4" cy="14.6" r="0.9" fill="#b4d424"/><circle cx="7.0" cy="16.4" r="0.9" fill="#2ca49c"/><circle cx="25.8" cy="17.5" r="0.9" fill="#d83224"/><circle cx="38.2" cy="12.9" r="0.9" fill="#3cae48"/><circle cx="41.7" cy="14.3" r="0.9" fill="#3cae48"/><circle cx="44.0" cy="7.7" r="0.9" fill="#80dcf0"/><circle cx="47.8" cy="8.0" r="0.9" fill="#d83224"/><circle cx="45.2" cy="10.9" r="0.9" fill="#3cae48"/><circle cx="47.5" cy="16.4" r="0.9" fill="#f0e024"/><circle cx="44.6" cy="17.5" r="0.9" fill="#30b4e0"/><circle cx="20.4" cy="36.4" r="0.9" fill="#5aa8f0"/><circle cx="27.5" cy="29.7" r="0.9" fill="#30b4e0"/><circle cx="37.9" cy="31.7" r="0.9" fill="#b4d424"/><circle cx="42.2" cy="33.4" r="0.9" fill="#30b4e0"/></g>
<g transform="translate(228.6 157.0)"><circle cx="10.2" cy="6.5" r="0.9" fill="#1a1a7c"/><circle cx="12.7" cy="8.0" r="0.9" fill="#1a1a7c"/><circle cx="15.2" cy="10.5" r="0.9" fill="#1a1a7c"/><circle cx="17.7" cy="11.5" r="0.9" fill="#1a1a7c"/><circle cx="21.7" cy="18.5" r="0.9" fill="#1a1a7c"/><circle cx="23.7" cy="22.0" r="0.9" fill="#1a1a7c"/><circle cx="25.2" cy="23.5" r="0.9" fill="#1a1a7c"/><circle cx="8.7" cy="7.2" r="0.9" fill="#1a1a7c"/><circle cx="11.4" cy="13.8" r="0.9" fill="#1a1a7c"/><circle cx="16.4" cy="13.5" r="0.9" fill="#1a1a7c"/><circle cx="23.0" cy="14.4" r="0.9" fill="#1a1a7c"/><circle cx="46.2" cy="10.3" r="0.9" fill="#1a1a7c"/><circle cx="47.7" cy="11.2" r="0.9" fill="#1a1a7c"/><circle cx="46.0" cy="15.5" r="0.9" fill="#1a1a7c"/><circle cx="8.5" cy="2.5" r="0.9" fill="#1a1a7c"/><circle cx="7.3" cy="4.8" r="0.9" fill="#1a1a7c"/><circle cx="7.6" cy="5.9" r="0.9" fill="#1a1a7c"/><circle cx="9.3" cy="4.2" r="0.9" fill="#1a1a7c"/><circle cx="11.1" cy="5.4" r="0.9" fill="#1a1a7c"/><circle cx="12.8" cy="5.7" r="0.9" fill="#1a1a7c"/><circle cx="14.5" cy="6.2" r="0.9" fill="#1a1a7c"/><circle cx="11.6" cy="7.1" r="0.9" fill="#1a1a7c"/><circle cx="13.4" cy="7.7" r="0.9" fill="#1a1a7c"/><circle cx="16.0" cy="8.0" r="0.9" fill="#1a1a7c"/><circle cx="8.5" cy="8.8" r="0.9" fill="#1a1a7c"/><circle cx="5.6" cy="9.4" r="0.9" fill="#1a1a7c"/><circle cx="12.2" cy="9.1" r="0.9" fill="#1a1a7c"/><circle cx="14.2" cy="9.4" r="0.9" fill="#1a1a7c"/><circle cx="17.1" cy="9.4" r="0.9" fill="#1a1a7c"/><circle cx="4.1" cy="11.4" r="0.9" fill="#1a1a7c"/><circle cx="6.7" cy="11.1" r="0.9" fill="#1a1a7c"/><circle cx="14.8" cy="11.1" r="0.9" fill="#1a1a7c"/><circle cx="10.2" cy="12.9" r="0.9" fill="#1a1a7c"/><circle cx="13.4" cy="12.9" r="0.9" fill="#1a1a7c"/><circle cx="15.7" cy="12.6" r="0.9" fill="#1a1a7c"/><circle cx="5.3" cy="14.3" r="0.9" fill="#1a1a7c"/><circle cx="13.4" cy="14.3" r="0.9" fill="#1a1a7c"/><circle cx="14.8" cy="15.2" r="0.9" fill="#1a1a7c"/><circle cx="16.8" cy="15.5" r="0.9" fill="#1a1a7c"/><circle cx="18.6" cy="13.7" r="0.9" fill="#1a1a7c"/><circle cx="20.3" cy="12.9" r="0.9" fill="#1a1a7c"/><circle cx="22.0" cy="12.6" r="0.9" fill="#1a1a7c"/><circle cx="7.0" cy="16.4" r="0.9" fill="#1a1a7c"/><circle cx="13.4" cy="17.5" r="0.9" fill="#1a1a7c"/><circle cx="14.8" cy="17.2" r="0.9" fill="#1a1a7c"/><circle cx="18.9" cy="16.4" r="0.9" fill="#1a1a7c"/><circle cx="20.6" cy="16.1" r="0.9" fill="#1a1a7c"/><circle cx="22.6" cy="15.2" r="0.9" fill="#1a1a7c"/><circle cx="24.6" cy="16.4" r="0.9" fill="#1a1a7c"/><circle cx="25.8" cy="17.5" r="0.9" fill="#1a1a7c"/><circle cx="19.4" cy="18.1" r="0.9" fill="#1a1a7c"/><circle cx="21.8" cy="17.5" r="0.9" fill="#1a1a7c"/><circle cx="8.5" cy="19.5" r="0.9" fill="#1a1a7c"/><circle cx="20.0" cy="19.5" r="0.9" fill="#1a1a7c"/><circle cx="22.3" cy="19.5" r="0.9" fill="#1a1a7c"/><circle cx="24.1" cy="19.8" r="0.9" fill="#1a1a7c"/><circle cx="21.2" cy="21.0" r="0.9" fill="#1a1a7c"/><circle cx="24.6" cy="21.6" r="0.9" fill="#1a1a7c"/><circle cx="26.4" cy="22.1" r="0.9" fill="#1a1a7c"/><circle cx="20.9" cy="23.9" r="0.9" fill="#1a1a7c"/><circle cx="23.5" cy="23.3" r="0.9" fill="#1a1a7c"/><circle cx="29.8" cy="11.4" r="0.9" fill="#1a1a7c"/><circle cx="31.0" cy="11.7" r="0.9" fill="#1a1a7c"/><circle cx="29.5" cy="14.9" r="0.9" fill="#1a1a7c"/><circle cx="31.0" cy="15.2" r="0.9" fill="#1a1a7c"/><circle cx="36.8" cy="12.6" r="0.9" fill="#1a1a7c"/><circle cx="36.8" cy="14.3" r="0.9" fill="#1a1a7c"/><circle cx="38.2" cy="12.9" r="0.9" fill="#1a1a7c"/><circle cx="39.4" cy="13.5" r="0.9" fill="#1a1a7c"/><circle cx="41.4" cy="12.9" r="0.9" fill="#1a1a7c"/><circle cx="41.7" cy="14.3" r="0.9" fill="#1a1a7c"/><circle cx="42.0" cy="8.0" r="0.9" fill="#1a1a7c"/><circle cx="44.0" cy="7.7" r="0.9" fill="#1a1a7c"/><circle cx="47.8" cy="8.0" r="0.9" fill="#1a1a7c"/><circle cx="46.6" cy="9.1" r="0.9" fill="#1a1a7c"/><circle cx="43.7" cy="9.7" r="0.9" fill="#1a1a7c"/><circle cx="45.2" cy="10.9" r="0.9" fill="#1a1a7c"/><circle cx="46.6" cy="11.4" r="0.9" fill="#1a1a7c"/><circle cx="48.3" cy="12.3" r="0.9" fill="#1a1a7c"/><circle cx="45.2" cy="12.9" r="0.9" fill="#1a1a7c"/><circle cx="46.6" cy="13.5" r="0.9" fill="#1a1a7c"/><circle cx="48.0" cy="13.7" r="0.9" fill="#1a1a7c"/><circle cx="49.8" cy="13.5" r="0.9" fill="#1a1a7c"/><circle cx="45.7" cy="14.6" r="0.9" fill="#1a1a7c"/><circle cx="47.5" cy="14.6" r="0.9" fill="#1a1a7c"/><circle cx="49.5" cy="15.2" r="0.9" fill="#1a1a7c"/><circle cx="43.7" cy="16.4" r="0.9" fill="#1a1a7c"/><circle cx="47.5" cy="16.4" r="0.9" fill="#1a1a7c"/><circle cx="44.6" cy="17.5" r="0.9" fill="#1a1a7c"/><circle cx="27.5" cy="18.7" r="0.9" fill="#1a1a7c"/><circle cx="31.0" cy="24.4" r="0.9" fill="#1a1a7c"/><circle cx="24.1" cy="24.9" r="0.9" fill="#1a1a7c"/><circle cx="26.0" cy="25.2" r="0.9" fill="#1a1a7c"/><circle cx="16.7" cy="27.1" r="0.9" fill="#1a1a7c"/><circle cx="20.7" cy="27.7" r="0.9" fill="#1a1a7c"/><circle cx="25.1" cy="28.9" r="0.9" fill="#1a1a7c"/><circle cx="26.3" cy="28.6" r="0.9" fill="#1a1a7c"/><circle cx="25.1" cy="33.9" r="0.9" fill="#1a1a7c"/><circle cx="20.4" cy="36.4" r="0.9" fill="#1a1a7c"/><circle cx="19.5" cy="37.7" r="0.9" fill="#1a1a7c"/><circle cx="24.1" cy="37.0" r="0.9" fill="#1a1a7c"/><circle cx="25.7" cy="36.1" r="0.9" fill="#1a1a7c"/><circle cx="23.8" cy="41.7" r="0.9" fill="#1a1a7c"/><circle cx="28.2" cy="24.0" r="0.9" fill="#1a1a7c"/><circle cx="29.5" cy="24.7" r="0.9" fill="#1a1a7c"/><circle cx="27.5" cy="29.7" r="0.9" fill="#1a1a7c"/><circle cx="29.5" cy="29.4" r="0.9" fill="#1a1a7c"/><circle cx="28.5" cy="31.4" r="0.9" fill="#1a1a7c"/><circle cx="27.5" cy="33.7" r="0.9" fill="#1a1a7c"/><circle cx="28.9" cy="35.0" r="0.9" fill="#1a1a7c"/><circle cx="32.6" cy="35.4" r="0.9" fill="#1a1a7c"/><circle cx="40.2" cy="31.7" r="0.9" fill="#1a1a7c"/><circle cx="41.9" cy="31.0" r="0.9" fill="#1a1a7c"/><circle cx="37.2" cy="40.4" r="0.9" fill="#1a1a7c"/><circle cx="24.5" cy="24.3" r="0.9" fill="#1a1a7c"/><circle cx="25.9" cy="25.3" r="0.9" fill="#1a1a7c"/><circle cx="19.2" cy="15.0" r="0.9" fill="#2ca49c"/><circle cx="9.9" cy="9.7" r="0.9" fill="#f0e024"/><circle cx="9.9" cy="11.1" r="0.9" fill="#30b4e0"/><circle cx="12.8" cy="11.1" r="0.9" fill="#80dcf0"/><circle cx="4.7" cy="12.6" r="0.9" fill="#3cae48"/><circle cx="24.6" cy="13.2" r="0.9" fill="#f08424"/><circle cx="26.4" cy="14.6" r="0.9" fill="#80dcf0"/><circle cx="9.9" cy="23.9" r="0.9" fill="#8c1414"/><circle cx="31.2" cy="24.7" r="0.9" fill="#30b4e0"/><circle cx="29.5" cy="26.0" r="0.9" fill="#30b4e0"/><circle cx="32.6" cy="31.4" r="0.9" fill="#5aa8f0"/><circle cx="37.9" cy="31.7" r="0.9" fill="#f0e024"/><circle cx="39.2" cy="30.4" r="0.9" fill="#f0e024"/><circle cx="42.2" cy="33.4" r="0.9" fill="#2ca49c"/></g>
<g transform="translate(290.4 157.0)"><circle cx="10.2" cy="6.5" r="0.9" fill="#1a1a7c"/><circle cx="12.7" cy="8.0" r="0.9" fill="#1a1a7c"/><circle cx="15.2" cy="10.5" r="0.9" fill="#1a1a7c"/><circle cx="17.7" cy="11.5" r="0.9" fill="#1a1a7c"/><circle cx="19.2" cy="15.0" r="0.9" fill="#1a1a7c"/><circle cx="21.7" cy="18.5" r="0.9" fill="#1a1a7c"/><circle cx="23.7" cy="22.0" r="0.9" fill="#1a1a7c"/><circle cx="25.2" cy="23.5" r="0.9" fill="#1a1a7c"/><circle cx="8.7" cy="7.2" r="0.9" fill="#1a1a7c"/><circle cx="11.4" cy="13.8" r="0.9" fill="#1a1a7c"/><circle cx="16.4" cy="13.5" r="0.9" fill="#1a1a7c"/><circle cx="23.0" cy="14.4" r="0.9" fill="#1a1a7c"/><circle cx="8.5" cy="2.5" r="0.9" fill="#1a1a7c"/><circle cx="7.3" cy="4.8" r="0.9" fill="#1a1a7c"/><circle cx="7.6" cy="5.9" r="0.9" fill="#1a1a7c"/><circle cx="11.1" cy="5.4" r="0.9" fill="#1a1a7c"/><circle cx="12.8" cy="5.7" r="0.9" fill="#1a1a7c"/><circle cx="14.5" cy="6.2" r="0.9" fill="#1a1a7c"/><circle cx="11.6" cy="7.1" r="0.9" fill="#1a1a7c"/><circle cx="13.4" cy="7.7" r="0.9" fill="#1a1a7c"/><circle cx="16.0" cy="8.0" r="0.9" fill="#1a1a7c"/><circle cx="8.5" cy="8.8" r="0.9" fill="#1a1a7c"/><circle cx="5.6" cy="9.4" r="0.9" fill="#1a1a7c"/><circle cx="9.9" cy="9.7" r="0.9" fill="#1a1a7c"/><circle cx="12.2" cy="9.1" r="0.9" fill="#1a1a7c"/><circle cx="14.2" cy="9.4" r="0.9" fill="#1a1a7c"/><circle cx="17.1" cy="9.4" r="0.9" fill="#1a1a7c"/><circle cx="4.1" cy="11.4" r="0.9" fill="#1a1a7c"/><circle cx="6.7" cy="11.1" r="0.9" fill="#1a1a7c"/><circle cx="9.9" cy="11.1" r="0.9" fill="#1a1a7c"/><circle cx="12.8" cy="11.1" r="0.9" fill="#1a1a7c"/><circle cx="14.8" cy="11.1" r="0.9" fill="#1a1a7c"/><circle cx="10.2" cy="12.9" r="0.9" fill="#1a1a7c"/><circle cx="15.7" cy="12.6" r="0.9" fill="#1a1a7c"/><circle cx="13.4" cy="14.3" r="0.9" fill="#1a1a7c"/><circle cx="16.8" cy="15.5" r="0.9" fill="#1a1a7c"/><circle cx="18.6" cy="13.7" r="0.9" fill="#1a1a7c"/><circle cx="20.3" cy="12.9" r="0.9" fill="#1a1a7c"/><circle cx="24.6" cy="13.2" r="0.9" fill="#1a1a7c"/><circle cx="26.4" cy="14.6" r="0.9" fill="#1a1a7c"/><circle cx="7.0" cy="16.4" r="0.9" fill="#1a1a7c"/><circle cx="13.4" cy="17.5" r="0.9" fill="#1a1a7c"/><circle cx="18.9" cy="16.4" r="0.9" fill="#1a1a7c"/><circle cx="20.6" cy="16.1" r="0.9" fill="#1a1a7c"/><circle cx="22.6" cy="15.2" r="0.9" fill="#1a1a7c"/><circle cx="19.4" cy="18.1" r="0.9" fill="#1a1a7c"/><circle cx="21.8" cy="17.5" r="0.9" fill="#1a1a7c"/><circle cx="8.5" cy="19.5" r="0.9" fill="#1a1a7c"/><circle cx="20.0" cy="19.5" r="0.9" fill="#1a1a7c"/><circle cx="22.3" cy="19.5" r="0.9" fill="#1a1a7c"/><circle cx="24.1" cy="19.8" r="0.9" fill="#1a1a7c"/><circle cx="21.2" cy="21.0" r="0.9" fill="#1a1a7c"/><circle cx="24.6" cy="21.6" r="0.9" fill="#1a1a7c"/><circle cx="26.4" cy="22.1" r="0.9" fill="#1a1a7c"/><circle cx="9.9" cy="23.9" r="0.9" fill="#1a1a7c"/><circle cx="20.9" cy="23.9" r="0.9" fill="#1a1a7c"/><circle cx="23.5" cy="23.3" r="0.9" fill="#1a1a7c"/><circle cx="31.0" cy="24.4" r="0.9" fill="#1a1a7c"/><circle cx="24.1" cy="24.9" r="0.9" fill="#1a1a7c"/><circle cx="26.0" cy="25.2" r="0.9" fill="#1a1a7c"/><circle cx="16.7" cy="27.1" r="0.9" fill="#1a1a7c"/><circle cx="20.7" cy="27.7" r="0.9" fill="#1a1a7c"/><circle cx="25.1" cy="28.9" r="0.9" fill="#1a1a7c"/><circle cx="26.3" cy="28.6" r="0.9" fill="#1a1a7c"/><circle cx="25.1" cy="33.9" r="0.9" fill="#1a1a7c"/><circle cx="20.4" cy="36.4" r="0.9" fill="#1a1a7c"/><circle cx="19.5" cy="37.7" r="0.9" fill="#1a1a7c"/><circle cx="24.1" cy="37.0" r="0.9" fill="#1a1a7c"/><circle cx="25.7" cy="36.1" r="0.9" fill="#1a1a7c"/><circle cx="28.2" cy="24.0" r="0.9" fill="#1a1a7c"/><circle cx="29.5" cy="24.7" r="0.9" fill="#1a1a7c"/><circle cx="29.5" cy="26.0" r="0.9" fill="#1a1a7c"/><circle cx="27.5" cy="29.7" r="0.9" fill="#1a1a7c"/><circle cx="29.5" cy="29.4" r="0.9" fill="#1a1a7c"/><circle cx="28.5" cy="31.4" r="0.9" fill="#1a1a7c"/><circle cx="32.6" cy="31.4" r="0.9" fill="#1a1a7c"/><circle cx="27.5" cy="33.7" r="0.9" fill="#1a1a7c"/><circle cx="28.9" cy="35.0" r="0.9" fill="#1a1a7c"/><circle cx="32.6" cy="35.4" r="0.9" fill="#1a1a7c"/><circle cx="37.9" cy="31.7" r="0.9" fill="#1a1a7c"/><circle cx="40.2" cy="31.7" r="0.9" fill="#1a1a7c"/><circle cx="42.2" cy="33.4" r="0.9" fill="#1a1a7c"/><circle cx="37.2" cy="40.4" r="0.9" fill="#1a1a7c"/><circle cx="24.5" cy="24.3" r="0.9" fill="#1a1a7c"/><circle cx="25.9" cy="25.3" r="0.9" fill="#1a1a7c"/><circle cx="46.2" cy="10.3" r="0.9" fill="#8c1414"/><circle cx="47.7" cy="11.2" r="0.9" fill="#8c1414"/><circle cx="46.0" cy="15.5" r="0.9" fill="#8c1414"/><circle cx="9.3" cy="4.2" r="0.9" fill="#3cae48"/><circle cx="4.7" cy="12.6" r="0.9" fill="#d83224"/><circle cx="13.4" cy="12.9" r="0.9" fill="#f08424"/><circle cx="5.3" cy="14.3" r="0.9" fill="#f0e024"/><circle cx="14.8" cy="15.2" r="0.9" fill="#3cae48"/><circle cx="22.0" cy="12.6" r="0.9" fill="#f0e024"/><circle cx="14.8" cy="17.2" r="0.9" fill="#30b4e0"/><circle cx="24.6" cy="16.4" r="0.9" fill="#3cae48"/><circle cx="25.8" cy="17.5" r="0.9" fill="#30b4e0"/><circle cx="29.8" cy="11.4" r="0.9" fill="#8c1414"/><circle cx="31.0" cy="11.7" r="0.9" fill="#8c1414"/><circle cx="29.5" cy="14.9" r="0.9" fill="#8c1414"/><circle cx="31.0" cy="15.2" r="0.9" fill="#8c1414"/><circle cx="36.8" cy="12.6" r="0.9" fill="#8c1414"/><circle cx="36.8" cy="14.3" r="0.9" fill="#8c1414"/><circle cx="38.2" cy="12.9" r="0.9" fill="#8c1414"/><circle cx="39.4" cy="13.5" r="0.9" fill="#8c1414"/><circle cx="41.4" cy="12.9" r="0.9" fill="#8c1414"/><circle cx="41.7" cy="14.3" r="0.9" fill="#8c1414"/><circle cx="42.0" cy="8.0" r="0.9" fill="#8c1414"/><circle cx="44.0" cy="7.7" r="0.9" fill="#8c1414"/><circle cx="47.8" cy="8.0" r="0.9" fill="#8c1414"/><circle cx="46.6" cy="9.1" r="0.9" fill="#8c1414"/><circle cx="43.7" cy="9.7" r="0.9" fill="#8c1414"/><circle cx="45.2" cy="10.9" r="0.9" fill="#8c1414"/><circle cx="46.6" cy="11.4" r="0.9" fill="#8c1414"/><circle cx="48.3" cy="12.3" r="0.9" fill="#8c1414"/><circle cx="45.2" cy="12.9" r="0.9" fill="#8c1414"/><circle cx="46.6" cy="13.5" r="0.9" fill="#8c1414"/><circle cx="48.0" cy="13.7" r="0.9" fill="#8c1414"/><circle cx="49.8" cy="13.5" r="0.9" fill="#8c1414"/><circle cx="45.7" cy="14.6" r="0.9" fill="#8c1414"/><circle cx="47.5" cy="14.6" r="0.9" fill="#8c1414"/><circle cx="49.5" cy="15.2" r="0.9" fill="#8c1414"/><circle cx="43.7" cy="16.4" r="0.9" fill="#8c1414"/><circle cx="47.5" cy="16.4" r="0.9" fill="#8c1414"/><circle cx="44.6" cy="17.5" r="0.9" fill="#8c1414"/><circle cx="27.5" cy="18.7" r="0.9" fill="#f08424"/><circle cx="23.8" cy="41.7" r="0.9" fill="#f0e024"/><circle cx="31.2" cy="24.7" r="0.9" fill="#f08424"/><circle cx="39.2" cy="30.4" r="0.9" fill="#3cae48"/><circle cx="41.9" cy="31.0" r="0.9" fill="#f0e024"/></g>
<g transform="translate(351.6 157.0)"><circle cx="46.2" cy="10.3" r="0.9" fill="#1a1a7c"/><circle cx="47.7" cy="11.2" r="0.9" fill="#1a1a7c"/><circle cx="46.0" cy="15.5" r="0.9" fill="#1a1a7c"/><circle cx="41.7" cy="14.3" r="0.9" fill="#1a1a7c"/><circle cx="44.0" cy="7.7" r="0.9" fill="#1a1a7c"/><circle cx="47.8" cy="8.0" r="0.9" fill="#1a1a7c"/><circle cx="46.6" cy="9.1" r="0.9" fill="#1a1a7c"/><circle cx="45.2" cy="10.9" r="0.9" fill="#1a1a7c"/><circle cx="46.6" cy="11.4" r="0.9" fill="#1a1a7c"/><circle cx="48.3" cy="12.3" r="0.9" fill="#1a1a7c"/><circle cx="45.2" cy="12.9" r="0.9" fill="#1a1a7c"/><circle cx="46.6" cy="13.5" r="0.9" fill="#1a1a7c"/><circle cx="48.0" cy="13.7" r="0.9" fill="#1a1a7c"/><circle cx="49.8" cy="13.5" r="0.9" fill="#1a1a7c"/><circle cx="45.7" cy="14.6" r="0.9" fill="#1a1a7c"/><circle cx="47.5" cy="14.6" r="0.9" fill="#1a1a7c"/><circle cx="49.5" cy="15.2" r="0.9" fill="#1a1a7c"/><circle cx="43.7" cy="16.4" r="0.9" fill="#1a1a7c"/><circle cx="47.5" cy="16.4" r="0.9" fill="#1a1a7c"/><circle cx="44.6" cy="17.5" r="0.9" fill="#1a1a7c"/><circle cx="31.0" cy="24.4" r="0.9" fill="#1a1a7c"/><circle cx="31.2" cy="24.7" r="0.9" fill="#1a1a7c"/><circle cx="40.2" cy="31.7" r="0.9" fill="#1a1a7c"/><circle cx="41.9" cy="31.0" r="0.9" fill="#1a1a7c"/><circle cx="37.2" cy="40.4" r="0.9" fill="#1a1a7c"/><circle cx="10.2" cy="6.5" r="0.9" fill="#8c1414"/><circle cx="12.7" cy="8.0" r="0.9" fill="#d83224"/><circle cx="15.2" cy="10.5" r="0.9" fill="#8c1414"/><circle cx="17.7" cy="11.5" r="0.9" fill="#d83224"/><circle cx="19.2" cy="15.0" r="0.9" fill="#8c1414"/><circle cx="21.7" cy="18.5" r="0.9" fill="#8c1414"/><circle cx="23.7" cy="22.0" r="0.9" fill="#f08424"/><circle cx="25.2" cy="23.5" r="0.9" fill="#d83224"/><circle cx="8.7" cy="7.2" r="0.9" fill="#d83224"/><circle cx="11.4" cy="13.8" r="0.9" fill="#8c1414"/><circle cx="16.4" cy="13.5" r="0.9" fill="#d83224"/><circle cx="23.0" cy="14.4" r="0.9" fill="#8c1414"/><circle cx="8.5" cy="2.5" r="0.9" fill="#8c1414"/><circle cx="7.3" cy="4.8" r="0.9" fill="#8c1414"/><circle cx="7.6" cy="5.9" r="0.9" fill="#8c1414"/><circle cx="9.3" cy="4.2" r="0.9" fill="#d83224"/><circle cx="11.1" cy="5.4" r="0.9" fill="#8c1414"/><circle cx="12.8" cy="5.7" r="0.9" fill="#8c1414"/><circle cx="14.5" cy="6.2" r="0.9" fill="#8c1414"/><circle cx="11.6" cy="7.1" r="0.9" fill="#8c1414"/><circle cx="13.4" cy="7.7" r="0.9" fill="#8c1414"/><circle cx="16.0" cy="8.0" r="0.9" fill="#8c1414"/><circle cx="8.5" cy="8.8" r="0.9" fill="#8c1414"/><circle cx="5.6" cy="9.4" r="0.9" fill="#8c1414"/><circle cx="9.9" cy="9.7" r="0.9" fill="#8c1414"/><circle cx="12.2" cy="9.1" r="0.9" fill="#8c1414"/><circle cx="14.2" cy="9.4" r="0.9" fill="#8c1414"/><circle cx="17.1" cy="9.4" r="0.9" fill="#8c1414"/><circle cx="4.1" cy="11.4" r="0.9" fill="#8c1414"/><circle cx="6.7" cy="11.1" r="0.9" fill="#8c1414"/><circle cx="9.9" cy="11.1" r="0.9" fill="#8c1414"/><circle cx="12.8" cy="11.1" r="0.9" fill="#8c1414"/><circle cx="14.8" cy="11.1" r="0.9" fill="#8c1414"/><circle cx="4.7" cy="12.6" r="0.9" fill="#8c1414"/><circle cx="10.2" cy="12.9" r="0.9" fill="#8c1414"/><circle cx="13.4" cy="12.9" r="0.9" fill="#d83224"/><circle cx="15.7" cy="12.6" r="0.9" fill="#8c1414"/><circle cx="5.3" cy="14.3" r="0.9" fill="#8c1414"/><circle cx="13.4" cy="14.3" r="0.9" fill="#8c1414"/><circle cx="14.8" cy="15.2" r="0.9" fill="#8c1414"/><circle cx="16.8" cy="15.5" r="0.9" fill="#8c1414"/><circle cx="18.6" cy="13.7" r="0.9" fill="#8c1414"/><circle cx="20.3" cy="12.9" r="0.9" fill="#8c1414"/><circle cx="22.0" cy="12.6" r="0.9" fill="#8c1414"/><circle cx="24.6" cy="13.2" r="0.9" fill="#8c1414"/><circle cx="26.4" cy="14.6" r="0.9" fill="#8c1414"/><circle cx="7.0" cy="16.4" r="0.9" fill="#8c1414"/><circle cx="13.4" cy="17.5" r="0.9" fill="#8c1414"/><circle cx="14.8" cy="17.2" r="0.9" fill="#8c1414"/><circle cx="18.9" cy="16.4" r="0.9" fill="#8c1414"/><circle cx="20.6" cy="16.1" r="0.9" fill="#d83224"/><circle cx="22.6" cy="15.2" r="0.9" fill="#8c1414"/><circle cx="24.6" cy="16.4" r="0.9" fill="#d83224"/><circle cx="25.8" cy="17.5" r="0.9" fill="#d83224"/><circle cx="19.4" cy="18.1" r="0.9" fill="#8c1414"/><circle cx="21.8" cy="17.5" r="0.9" fill="#8c1414"/><circle cx="8.5" cy="19.5" r="0.9" fill="#8c1414"/><circle cx="20.0" cy="19.5" r="0.9" fill="#8c1414"/><circle cx="22.3" cy="19.5" r="0.9" fill="#8c1414"/><circle cx="24.1" cy="19.8" r="0.9" fill="#d83224"/><circle cx="21.2" cy="21.0" r="0.9" fill="#8c1414"/><circle cx="24.6" cy="21.6" r="0.9" fill="#8c1414"/><circle cx="26.4" cy="22.1" r="0.9" fill="#f08424"/><circle cx="9.9" cy="23.9" r="0.9" fill="#8c1414"/><circle cx="20.9" cy="23.9" r="0.9" fill="#d83224"/><circle cx="23.5" cy="23.3" r="0.9" fill="#d83224"/><circle cx="29.8" cy="11.4" r="0.9" fill="#8c1414"/><circle cx="31.0" cy="11.7" r="0.9" fill="#d83224"/><circle cx="29.5" cy="14.9" r="0.9" fill="#d83224"/><circle cx="31.0" cy="15.2" r="0.9" fill="#f08424"/><circle cx="36.8" cy="12.6" r="0.9" fill="#d83224"/><circle cx="36.8" cy="14.3" r="0.9" fill="#30b4e0"/><circle cx="38.2" cy="12.9" r="0.9" fill="#f0e024"/><circle cx="39.4" cy="13.5" r="0.9" fill="#f0e024"/><circle cx="41.4" cy="12.9" r="0.9" fill="#30b4e0"/><circle cx="42.0" cy="8.0" r="0.9" fill="#3cae48"/><circle cx="43.7" cy="9.7" r="0.9" fill="#3cae48"/><circle cx="27.5" cy="18.7" r="0.9" fill="#f08424"/><circle cx="24.1" cy="24.9" r="0.9" fill="#d83224"/><circle cx="26.0" cy="25.2" r="0.9" fill="#d83224"/><circle cx="16.7" cy="27.1" r="0.9" fill="#8c1414"/><circle cx="20.7" cy="27.7" r="0.9" fill="#f0e024"/><circle cx="25.1" cy="28.9" r="0.9" fill="#f0e024"/><circle cx="26.3" cy="28.6" r="0.9" fill="#f0e024"/><circle cx="25.1" cy="33.9" r="0.9" fill="#2ca49c"/><circle cx="20.4" cy="36.4" r="0.9" fill="#f0e024"/><circle cx="19.5" cy="37.7" r="0.9" fill="#3cae48"/><circle cx="24.1" cy="37.0" r="0.9" fill="#30b4e0"/><circle cx="25.7" cy="36.1" r="0.9" fill="#30b4e0"/><circle cx="23.8" cy="41.7" r="0.9" fill="#3cae48"/><circle cx="28.2" cy="24.0" r="0.9" fill="#f08424"/><circle cx="29.5" cy="24.7" r="0.9" fill="#f08424"/><circle cx="29.5" cy="26.0" r="0.9" fill="#f08424"/><circle cx="27.5" cy="29.7" r="0.9" fill="#8c1414"/><circle cx="29.5" cy="29.4" r="0.9" fill="#f08424"/><circle cx="28.5" cy="31.4" r="0.9" fill="#b4d424"/><circle cx="32.6" cy="31.4" r="0.9" fill="#f0e024"/><circle cx="27.5" cy="33.7" r="0.9" fill="#30b4e0"/><circle cx="28.9" cy="35.0" r="0.9" fill="#2ca49c"/><circle cx="32.6" cy="35.4" r="0.9" fill="#30b4e0"/><circle cx="37.9" cy="31.7" r="0.9" fill="#8c1414"/><circle cx="39.2" cy="30.4" r="0.9" fill="#8c1414"/><circle cx="42.2" cy="33.4" r="0.9" fill="#f08424"/><circle cx="24.5" cy="24.3" r="0.9" fill="#f08424"/><circle cx="25.9" cy="25.3" r="0.9" fill="#d83224"/></g>
<g transform="translate(413.3 157.0)"><circle cx="23.7" cy="22.0" r="0.9" fill="#1a1a7c"/><circle cx="46.2" cy="10.3" r="0.9" fill="#1a1a7c"/><circle cx="47.7" cy="11.2" r="0.9" fill="#1a1a7c"/><circle cx="46.0" cy="15.5" r="0.9" fill="#1a1a7c"/><circle cx="20.3" cy="12.9" r="0.9" fill="#1a1a7c"/><circle cx="21.8" cy="17.5" r="0.9" fill="#1a1a7c"/><circle cx="36.8" cy="12.6" r="0.9" fill="#1a1a7c"/><circle cx="36.8" cy="14.3" r="0.9" fill="#1a1a7c"/><circle cx="38.2" cy="12.9" r="0.9" fill="#1a1a7c"/><circle cx="39.4" cy="13.5" r="0.9" fill="#1a1a7c"/><circle cx="41.4" cy="12.9" r="0.9" fill="#1a1a7c"/><circle cx="41.7" cy="14.3" r="0.9" fill="#1a1a7c"/><circle cx="42.0" cy="8.0" r="0.9" fill="#1a1a7c"/><circle cx="44.0" cy="7.7" r="0.9" fill="#1a1a7c"/><circle cx="47.8" cy="8.0" r="0.9" fill="#1a1a7c"/><circle cx="46.6" cy="9.1" r="0.9" fill="#1a1a7c"/><circle cx="43.7" cy="9.7" r="0.9" fill="#1a1a7c"/><circle cx="45.2" cy="10.9" r="0.9" fill="#1a1a7c"/><circle cx="46.6" cy="11.4" r="0.9" fill="#1a1a7c"/><circle cx="48.3" cy="12.3" r="0.9" fill="#1a1a7c"/><circle cx="45.2" cy="12.9" r="0.9" fill="#1a1a7c"/><circle cx="46.6" cy="13.5" r="0.9" fill="#1a1a7c"/><circle cx="48.0" cy="13.7" r="0.9" fill="#1a1a7c"/><circle cx="49.8" cy="13.5" r="0.9" fill="#1a1a7c"/><circle cx="45.7" cy="14.6" r="0.9" fill="#1a1a7c"/><circle cx="47.5" cy="14.6" r="0.9" fill="#1a1a7c"/><circle cx="49.5" cy="15.2" r="0.9" fill="#1a1a7c"/><circle cx="43.7" cy="16.4" r="0.9" fill="#1a1a7c"/><circle cx="47.5" cy="16.4" r="0.9" fill="#1a1a7c"/><circle cx="44.6" cy="17.5" r="0.9" fill="#1a1a7c"/><circle cx="24.1" cy="24.9" r="0.9" fill="#1a1a7c"/><circle cx="23.8" cy="41.7" r="0.9" fill="#1a1a7c"/><circle cx="28.2" cy="24.0" r="0.9" fill="#1a1a7c"/><circle cx="28.9" cy="35.0" r="0.9" fill="#1a1a7c"/><circle cx="37.9" cy="31.7" r="0.9" fill="#1a1a7c"/><circle cx="39.2" cy="30.4" r="0.9" fill="#1a1a7c"/><circle cx="40.2" cy="31.7" r="0.9" fill="#1a1a7c"/><circle cx="41.9" cy="31.0" r="0.9" fill="#1a1a7c"/><circle cx="42.2" cy="33.4" r="0.9" fill="#1a1a7c"/><circle cx="37.2" cy="40.4" r="0.9" fill="#1a1a7c"/><circle cx="25.9" cy="25.3" r="0.9" fill="#1a1a7c"/><circle cx="10.2" cy="6.5" r="0.9" fill="#d83224"/><circle cx="12.7" cy="8.0" r="0.9" fill="#d83224"/><circle cx="15.2" cy="10.5" r="0.9" fill="#8c1414"/><circle cx="17.7" cy="11.5" r="0.9" fill="#f08424"/><circle cx="19.2" cy="15.0" r="0.9" fill="#f08424"/><circle cx="21.7" cy="18.5" r="0.9" fill="#3cae48"/><circle cx="25.2" cy="23.5" r="0.9" fill="#f0e024"/><circle cx="8.7" cy="7.2" r="0.9" fill="#8c1414"/><circle cx="11.4" cy="13.8" r="0.9" fill="#8c1414"/><circle cx="16.4" cy="13.5" r="0.9" fill="#f0e024"/><circle cx="23.0" cy="14.4" r="0.9" fill="#f0e024"/><circle cx="8.5" cy="2.5" r="0.9" fill="#8c1414"/><circle cx="7.3" cy="4.8" r="0.9" fill="#d83224"/><circle cx="7.6" cy="5.9" r="0.9" fill="#3cae48"/><circle cx="9.3" cy="4.2" r="0.9" fill="#8c1414"/><circle cx="11.1" cy="5.4" r="0.9" fill="#8c1414"/><circle cx="12.8" cy="5.7" r="0.9" fill="#f08424"/><circle cx="14.5" cy="6.2" r="0.9" fill="#8c1414"/><circle cx="11.6" cy="7.1" r="0.9" fill="#3cae48"/><circle cx="13.4" cy="7.7" r="0.9" fill="#d83224"/><circle cx="16.0" cy="8.0" r="0.9" fill="#d83224"/><circle cx="8.5" cy="8.8" r="0.9" fill="#8c1414"/><circle cx="5.6" cy="9.4" r="0.9" fill="#3cae48"/><circle cx="9.9" cy="9.7" r="0.9" fill="#d83224"/><circle cx="12.2" cy="9.1" r="0.9" fill="#f08424"/><circle cx="14.2" cy="9.4" r="0.9" fill="#f0e024"/><circle cx="17.1" cy="9.4" r="0.9" fill="#30b4e0"/><circle cx="4.1" cy="11.4" r="0.9" fill="#f0e024"/><circle cx="6.7" cy="11.1" r="0.9" fill="#8c1414"/><circle cx="9.9" cy="11.1" r="0.9" fill="#f08424"/><circle cx="12.8" cy="11.1" r="0.9" fill="#d83224"/><circle cx="14.8" cy="11.1" r="0.9" fill="#f08424"/><circle cx="4.7" cy="12.6" r="0.9" fill="#8c1414"/><circle cx="10.2" cy="12.9" r="0.9" fill="#8c1414"/><circle cx="13.4" cy="12.9" r="0.9" fill="#f08424"/><circle cx="15.7" cy="12.6" r="0.9" fill="#f0e024"/><circle cx="5.3" cy="14.3" r="0.9" fill="#f08424"/><circle cx="13.4" cy="14.3" r="0.9" fill="#f0e024"/><circle cx="14.8" cy="15.2" r="0.9" fill="#d83224"/><circle cx="16.8" cy="15.5" r="0.9" fill="#f08424"/><circle cx="18.6" cy="13.7" r="0.9" fill="#3cae48"/><circle cx="22.0" cy="12.6" r="0.9" fill="#f08424"/><circle cx="24.6" cy="13.2" r="0.9" fill="#f0e024"/><circle cx="26.4" cy="14.6" r="0.9" fill="#f08424"/><circle cx="7.0" cy="16.4" r="0.9" fill="#8c1414"/><circle cx="13.4" cy="17.5" r="0.9" fill="#f0e024"/><circle cx="14.8" cy="17.2" r="0.9" fill="#f0e024"/><circle cx="18.9" cy="16.4" r="0.9" fill="#f0e024"/><circle cx="20.6" cy="16.1" r="0.9" fill="#f0e024"/><circle cx="22.6" cy="15.2" r="0.9" fill="#d83224"/><circle cx="24.6" cy="16.4" r="0.9" fill="#30b4e0"/><circle cx="25.8" cy="17.5" r="0.9" fill="#3cae48"/><circle cx="19.4" cy="18.1" r="0.9" fill="#30b4e0"/><circle cx="8.5" cy="19.5" r="0.9" fill="#d83224"/><circle cx="20.0" cy="19.5" r="0.9" fill="#3cae48"/><circle cx="22.3" cy="19.5" r="0.9" fill="#f0e024"/><circle cx="24.1" cy="19.8" r="0.9" fill="#30b4e0"/><circle cx="21.2" cy="21.0" r="0.9" fill="#30b4e0"/><circle cx="24.6" cy="21.6" r="0.9" fill="#30b4e0"/><circle cx="26.4" cy="22.1" r="0.9" fill="#f0e024"/><circle cx="9.9" cy="23.9" r="0.9" fill="#30b4e0"/><circle cx="20.9" cy="23.9" r="0.9" fill="#3cae48"/><circle cx="23.5" cy="23.3" r="0.9" fill="#3cae48"/><circle cx="29.8" cy="11.4" r="0.9" fill="#5aa8f0"/><circle cx="31.0" cy="11.7" r="0.9" fill="#f0e024"/><circle cx="29.5" cy="14.9" r="0.9" fill="#b4d424"/><circle cx="31.0" cy="15.2" r="0.9" fill="#3cae48"/><circle cx="27.5" cy="18.7" r="0.9" fill="#3cae48"/><circle cx="31.0" cy="24.4" r="0.9" fill="#30b4e0"/><circle cx="26.0" cy="25.2" r="0.9" fill="#f0e024"/><circle cx="16.7" cy="27.1" r="0.9" fill="#f0e024"/><circle cx="20.7" cy="27.7" r="0.9" fill="#d83224"/><circle cx="25.1" cy="28.9" r="0.9" fill="#f08424"/><circle cx="26.3" cy="28.6" r="0.9" fill="#f08424"/><circle cx="25.1" cy="33.9" r="0.9" fill="#d83224"/><circle cx="20.4" cy="36.4" r="0.9" fill="#30b4e0"/><circle cx="19.5" cy="37.7" r="0.9" fill="#8c1414"/><circle cx="24.1" cy="37.0" r="0.9" fill="#f0e024"/><circle cx="25.7" cy="36.1" r="0.9" fill="#30b4e0"/><circle cx="29.5" cy="24.7" r="0.9" fill="#30b4e0"/><circle cx="31.2" cy="24.7" r="0.9" fill="#3cae48"/><circle cx="29.5" cy="26.0" r="0.9" fill="#3cae48"/><circle cx="27.5" cy="29.7" r="0.9" fill="#30b4e0"/><circle cx="29.5" cy="29.4" r="0.9" fill="#30b4e0"/><circle cx="28.5" cy="31.4" r="0.9" fill="#5aa8f0"/><circle cx="32.6" cy="31.4" r="0.9" fill="#30b4e0"/><circle cx="27.5" cy="33.7" r="0.9" fill="#30b4e0"/><circle cx="32.6" cy="35.4" r="0.9" fill="#5aa8f0"/><circle cx="24.5" cy="24.3" r="0.9" fill="#30b4e0"/></g>
<defs><linearGradient id="cb" x1="0" y1="0" x2="0" y2="1"><stop offset="0" stop-color="#a01818"/><stop offset="0.15" stop-color="#d83020"/><stop offset="0.3" stop-color="#f08c20"/><stop offset="0.42" stop-color="#f0e020"/><stop offset="0.55" stop-color="#60b050"/><stop offset="0.7" stop-color="#30a8c8"/><stop offset="0.82" stop-color="#3050b0"/><stop offset="1" stop-color="#1c1c80"/></linearGradient></defs>
<rect x="483.7" y="166" width="6.4" height="27.4" fill="url(#cb)"/>
<text x="493.6" y="170.1" font-size="9" textLength="17.6" lengthAdjust="spacingAndGlyphs" fill="#111" stroke="#111" stroke-width="0.12">High</text>
<text x="493.6" y="194.8" font-size="9" textLength="14.9" lengthAdjust="spacingAndGlyphs" fill="#111" stroke="#111" stroke-width="0.12">Low</text>
<text x="477.6" y="207.2" font-size="9" textLength="54.4" lengthAdjust="spacingAndGlyphs" fill="#111" transform="rotate(-90 477.6 207.2)" stroke="#111" stroke-width="0.12">Channel range</text>
<line x1="52.4" y1="282.7" x2="52.4" y2="381.90000000000003" stroke="#111" stroke-width="1.3"/>
<line x1="51.8" y1="381.3" x2="116.3" y2="381.3" stroke="#111" stroke-width="1.3"/>
<line x1="49.4" y1="381.3" x2="52.4" y2="381.3" stroke="#111" stroke-width="1.1"/>
<text x="46.8" y="384.2" font-size="8.6" text-anchor="end" fill="#111" stroke="#111" stroke-width="0.12">0</text>
<line x1="49.4" y1="362.12" x2="52.4" y2="362.12" stroke="#111" stroke-width="1.1"/>
<text x="46.8" y="365.02" font-size="8.6" text-anchor="end" fill="#111" stroke="#111" stroke-width="0.12">20</text>
<line x1="49.4" y1="342.94" x2="52.4" y2="342.94" stroke="#111" stroke-width="1.1"/>
<text x="46.8" y="345.84" font-size="8.6" text-anchor="end" fill="#111" stroke="#111" stroke-width="0.12">40</text>
<line x1="49.4" y1="323.76" x2="52.4" y2="323.76" stroke="#111" stroke-width="1.1"/>
<text x="46.8" y="326.66" font-size="8.6" text-anchor="end" fill="#111" stroke="#111" stroke-width="0.12">60</text>
<line x1="49.4" y1="304.58000000000004" x2="52.4" y2="304.58000000000004" stroke="#111" stroke-width="1.1"/>
<text x="46.8" y="307.48" font-size="8.6" text-anchor="end" fill="#111" stroke="#111" stroke-width="0.12">80</text>
<line x1="49.4" y1="285.40000000000003" x2="52.4" y2="285.40000000000003" stroke="#111" stroke-width="1.1"/>
<text x="46.8" y="288.3" font-size="8.6" text-anchor="end" fill="#111" stroke="#111" stroke-width="0.12">100</text>
<rect x="62" y="321.4" width="18" height="59.900000000000034" fill="#9697a8"/>
<rect x="89.3" y="344.6" width="17.900000000000006" height="36.69999999999999" fill="#e3e3e6"/>
<line x1="70.9" y1="315.4" x2="70.9" y2="327" stroke="#1a1a1a" stroke-width="1.2"/>
<line x1="66.10000000000001" y1="315.4" x2="75.7" y2="315.4" stroke="#1a1a1a" stroke-width="1.2"/>
<line x1="66.10000000000001" y1="327" x2="75.7" y2="327" stroke="#1a1a1a" stroke-width="1.2"/>
<line x1="98.3" y1="339.2" x2="98.3" y2="350.4" stroke="#1a1a1a" stroke-width="1.2"/>
<line x1="93.7" y1="339.2" x2="102.89999999999999" y2="339.2" stroke="#1a1a1a" stroke-width="1.2"/>
<line x1="93.7" y1="350.4" x2="102.89999999999999" y2="350.4" stroke="#1a1a1a" stroke-width="1.2"/>
<circle cx="67.7" cy="291.1" r="1.45" fill="#343f5e"/>
<circle cx="73.7" cy="291.1" r="1.45" fill="#343f5e"/>
<circle cx="70.8" cy="308.8" r="1.45" fill="#343f5e"/>
<circle cx="70.8" cy="313.4" r="1.45" fill="#343f5e"/>
<circle cx="67.7" cy="318.2" r="1.45" fill="#343f5e"/>
<circle cx="73.7" cy="319.8" r="1.45" fill="#343f5e"/>
<circle cx="70.9" cy="322.5" r="1.45" fill="#343f5e"/>
<circle cx="70.9" cy="334.5" r="1.45" fill="#343f5e"/>
<circle cx="70.9" cy="339.2" r="1.45" fill="#343f5e"/>
<circle cx="70.9" cy="343.5" r="1.45" fill="#343f5e"/>
<circle cx="70.9" cy="352" r="1.45" fill="#343f5e"/>
<circle cx="98.3" cy="327.5" r="1.45" fill="#cacace"/>
<circle cx="98.3" cy="330.6" r="1.45" fill="#cacace"/>
<circle cx="95.5" cy="339.2" r="1.45" fill="#cacace"/>
<circle cx="98.3" cy="350.4" r="1.45" fill="#cacace"/>
<circle cx="98.3" cy="359.1" r="1.45" fill="#cacace"/>
<circle cx="98.3" cy="365.7" r="1.45" fill="#cacace"/>
<line x1="70.9" y1="381.3" x2="70.9" y2="384.1" stroke="#111" stroke-width="1.1"/>
<line x1="98.3" y1="381.3" x2="98.3" y2="384.1" stroke="#111" stroke-width="1.1"/>
<line x1="70.9" y1="278.7" x2="98.8" y2="278.7" stroke="#2a2a2a" stroke-width="1.2"/>
<line x1="70.9" y1="277.4" x2="70.9" y2="280.0" stroke="#2a2a2a" stroke-width="1.1"/>
<line x1="98.8" y1="277.4" x2="98.8" y2="280.0" stroke="#2a2a2a" stroke-width="1.1"/>
<polygon points="85.30,273.00 85.75,274.08 86.92,274.17 86.03,274.94 86.30,276.08 85.30,275.46 84.30,276.08 84.57,274.94 83.68,274.17 84.85,274.08" fill="#1a1a1a"/>
<text x="27.0" y="369.6" font-size="10.3" textLength="75.4" lengthAdjust="spacingAndGlyphs" fill="#111" transform="rotate(-90 27.0 369.6)" stroke="#111" stroke-width="0.12">HLA-II<tspan font-size="6" dy="-3.8">+</tspan><tspan dy="3.8"> Frequency (%)</tspan></text>
<text x="73.4" y="395.0" font-size="8.8" textLength="51.5" lengthAdjust="spacingAndGlyphs" text-anchor="end" fill="#111" transform="rotate(-45 73.4 395.0)" stroke="#111" stroke-width="0.12">CS Refractory</text>
<text x="100.2" y="393.6" font-size="8.8" textLength="55.5" lengthAdjust="spacingAndGlyphs" text-anchor="end" fill="#111" transform="rotate(-45 100.2 393.6)" stroke="#111" stroke-width="0.12">CS Responsive</text>
<line x1="191.3" y1="282.9" x2="191.3" y2="381.90000000000003" stroke="#111" stroke-width="1.3"/>
<line x1="190.70000000000002" y1="381.3" x2="255.7" y2="381.3" stroke="#111" stroke-width="1.3"/>
<line x1="188.3" y1="381.3" x2="191.3" y2="381.3" stroke="#111" stroke-width="1.1"/>
<text x="185.70000000000002" y="384.2" font-size="8.6" text-anchor="end" fill="#111" stroke="#111" stroke-width="0.12">0</text>
<line x1="188.3" y1="362.12" x2="191.3" y2="362.12" stroke="#111" stroke-width="1.1"/>
<text x="185.70000000000002" y="365.02" font-size="8.6" text-anchor="end" fill="#111" stroke="#111" stroke-width="0.12">20</text>
<line x1="188.3" y1="342.94" x2="191.3" y2="342.94" stroke="#111" stroke-width="1.1"/>
<text x="185.70000000000002" y="345.84" font-size="8.6" text-anchor="end" fill="#111" stroke="#111" stroke-width="0.12">40</text>
<line x1="188.3" y1="323.76" x2="191.3" y2="323.76" stroke="#111" stroke-width="1.1"/>
<text x="185.70000000000002" y="326.66" font-size="8.6" text-anchor="end" fill="#111" stroke="#111" stroke-width="0.12">60</text>
<line x1="188.3" y1="304.58000000000004" x2="191.3" y2="304.58000000000004" stroke="#111" stroke-width="1.1"/>
<text x="185.70000000000002" y="307.48" font-size="8.6" text-anchor="end" fill="#111" stroke="#111" stroke-width="0.12">80</text>
<line x1="188.3" y1="285.40000000000003" x2="191.3" y2="285.40000000000003" stroke="#111" stroke-width="1.1"/>
<text x="185.70000000000002" y="288.3" font-size="8.6" text-anchor="end" fill="#111" stroke="#111" stroke-width="0.12">100</text>
<rect x="201.1" y="355.5" width="17.700000000000017" height="25.80000000000001" fill="#9697a8"/>
<rect x="228.3" y="373.0" width="17.5" height="8.300000000000011" fill="#e3e3e6"/>
<line x1="209.6" y1="347.8" x2="209.6" y2="362.4" stroke="#1a1a1a" stroke-width="1.2"/>
<line x1="204.79999999999998" y1="347.8" x2="214.4" y2="347.8" stroke="#1a1a1a" stroke-width="1.2"/>
<line x1="204.79999999999998" y1="362.4" x2="214.4" y2="362.4" stroke="#1a1a1a" stroke-width="1.2"/>
<line x1="237.2" y1="369.3" x2="237.2" y2="376.1" stroke="#1a1a1a" stroke-width="1.2"/>
<line x1="232.5" y1="369.3" x2="241.89999999999998" y2="369.3" stroke="#1a1a1a" stroke-width="1.2"/>
<line x1="232.5" y1="376.1" x2="241.89999999999998" y2="376.1" stroke="#1a1a1a" stroke-width="1.2"/>
<circle cx="209.6" cy="300.2" r="1.45" fill="#343f5e"/>
<circle cx="209.6" cy="323.9" r="1.45" fill="#343f5e"/>
<circle cx="209.6" cy="342.1" r="1.45" fill="#343f5e"/>
<circle cx="209.6" cy="348.8" r="1.45" fill="#343f5e"/>
<circle cx="209.6" cy="356.2" r="1.45" fill="#343f5e"/>
<circle cx="209.6" cy="366.8" r="1.45" fill="#343f5e"/>
<circle cx="206.8" cy="373.8" r="1.45" fill="#343f5e"/>
<circle cx="212.8" cy="373.5" r="1.45" fill="#343f5e"/>
<circle cx="212.8" cy="378.8" r="1.45" fill="#343f5e"/>
<circle cx="206.8" cy="381.0" r="1.45" fill="#343f5e"/>
<circle cx="237.2" cy="357.9" r="1.45" fill="#cacace"/>
<circle cx="243" cy="365.5" r="1.45" fill="#cacace"/>
<circle cx="237.2" cy="367.6" r="1.45" fill="#cacace"/>
<circle cx="234" cy="380.6" r="1.45" fill="#cacace"/>
<circle cx="237.2" cy="380.6" r="1.45" fill="#cacace"/>
<circle cx="240.5" cy="380.6" r="1.45" fill="#cacace"/>
<line x1="209.6" y1="381.3" x2="209.6" y2="384.1" stroke="#111" stroke-width="1.1"/>
<line x1="237.2" y1="381.3" x2="237.2" y2="384.1" stroke="#111" stroke-width="1.1"/>
<line x1="209.2" y1="288.7" x2="237.7" y2="288.7" stroke="#2a2a2a" stroke-width="1.2"/>
<line x1="209.2" y1="287.4" x2="209.2" y2="290.0" stroke="#2a2a2a" stroke-width="1.1"/>
<line x1="237.7" y1="287.4" x2="237.7" y2="290.0" stroke="#2a2a2a" stroke-width="1.1"/>
<polygon points="223.50,282.80 223.95,283.88 225.12,283.97 224.23,284.74 224.50,285.88 223.50,285.26 222.50,285.88 222.77,284.74 221.88,283.97 223.05,283.88" fill="#1a1a1a"/>
<text x="153.9" y="368.6" font-size="9.8" textLength="73.2" lengthAdjust="spacingAndGlyphs" fill="#111" transform="rotate(-90 153.9 368.6)" stroke="#111" stroke-width="0.12">Frequency CXCR3<tspan font-size="5.6" dy="-3.6">+</tspan><tspan dy="3.6"> in</tspan></text>
<text x="165.3" y="362.8" font-size="9.8" textLength="61.6" lengthAdjust="spacingAndGlyphs" fill="#111" transform="rotate(-90 165.3 362.8)" stroke="#111" stroke-width="0.12">CD161 HLA-II<tspan font-size="5.6" dy="-3.6">+</tspan><tspan dy="3.6">(%)</tspan></text>
<text x="213.6" y="393.1" font-size="8.8" textLength="51.5" lengthAdjust="spacingAndGlyphs" text-anchor="end" fill="#111" transform="rotate(-45 213.6 393.1)" stroke="#111" stroke-width="0.12">CS Refractory</text>
<text x="240.8" y="393.6" font-size="8.8" textLength="55.5" lengthAdjust="spacingAndGlyphs" text-anchor="end" fill="#111" transform="rotate(-45 240.8 393.6)" stroke="#111" stroke-width="0.12">CS Responsive</text>
<text x="314.2" y="262.7" font-size="10" textLength="93.2" lengthAdjust="spacingAndGlyphs" fill="#111" stroke="#111" stroke-width="0.12">MAC d30 Tx prior to</text>
<text x="333.4" y="274.7" font-size="10" textLength="55.1" lengthAdjust="spacingAndGlyphs" fill="#111" stroke="#111" stroke-width="0.12">GVHD onset</text>
<line x1="313.2" y1="286.7" x2="313.2" y2="382" stroke="#111" stroke-width="1.3"/>
<line x1="408.1" y1="286.7" x2="408.1" y2="384.2" stroke="#111" stroke-width="1.3"/>
<line x1="312.6" y1="381.3" x2="408.7" y2="381.3" stroke="#111" stroke-width="1.3"/>
<line x1="434.2" y1="286.7" x2="434.2" y2="380.5" stroke="#333" stroke-width="1.0"/>
<line x1="310" y1="301.2" x2="313.2" y2="301.2" stroke="#111" stroke-width="1.1"/>
<text x="306.9" y="304.0" font-size="8.8" textLength="23.6" lengthAdjust="spacingAndGlyphs" text-anchor="end" fill="#111" stroke="#111" stroke-width="0.12">HLA-II</text>
<line x1="310" y1="323.2" x2="313.2" y2="323.2" stroke="#111" stroke-width="1.1"/>
<text x="306.9" y="326.0" font-size="8.8" textLength="24.9" lengthAdjust="spacingAndGlyphs" text-anchor="end" fill="#111" stroke="#111" stroke-width="0.12">KLRG1</text>
<line x1="310" y1="345.1" x2="313.2" y2="345.1" stroke="#111" stroke-width="1.1"/>
<text x="306.9" y="347.9" font-size="8.8" textLength="26.2" lengthAdjust="spacingAndGlyphs" text-anchor="end" fill="#111" stroke="#111" stroke-width="0.12">CD161</text>
<line x1="310" y1="367.0" x2="313.2" y2="367.0" stroke="#111" stroke-width="1.1"/>
<text x="306.9" y="369.8" font-size="8.8" textLength="21.0" lengthAdjust="spacingAndGlyphs" text-anchor="end" fill="#111" stroke="#111" stroke-width="0.12">CD94</text>
<line x1="313.2" y1="381.3" x2="313.2" y2="384.2" stroke="#111" stroke-width="1.1"/>
<text x="313.4" y="394.6" font-size="8.8" text-anchor="middle" fill="#111" stroke="#111" stroke-width="0.12">0</text>
<line x1="360.65" y1="381.3" x2="360.65" y2="384.2" stroke="#111" stroke-width="1.1"/>
<text x="360.84999999999997" y="394.6" font-size="8.8" text-anchor="middle" fill="#111" stroke="#111" stroke-width="0.12">50</text>
<line x1="408.1" y1="381.3" x2="408.1" y2="384.2" stroke="#111" stroke-width="1.1"/>
<text x="408.3" y="394.6" font-size="8.8" text-anchor="middle" fill="#111" stroke="#111" stroke-width="0.12">100</text>
<text x="335.7" y="409.8" font-size="10.5" textLength="50.4" lengthAdjust="spacingAndGlyphs" fill="#111" stroke="#111" stroke-width="0.12">Frequency (%)</text>
<polygon points="420.10,297.00 420.60,298.21 421.91,298.31 420.91,299.16 421.22,300.44 420.10,299.75 418.98,300.44 419.29,299.16 418.29,298.31 419.60,298.21" fill="#1a1a1a"/>
<text x="420.15" y="326.0" font-size="9" textLength="8.1" lengthAdjust="spacingAndGlyphs" text-anchor="middle" fill="#222" stroke="#222" stroke-width="0.12">ns</text>
<text x="420.15" y="347.6" font-size="9" textLength="8.1" lengthAdjust="spacingAndGlyphs" text-anchor="middle" fill="#222" stroke="#222" stroke-width="0.12">ns</text>
<text x="420.15" y="369.4" font-size="9" textLength="8.1" lengthAdjust="spacingAndGlyphs" text-anchor="middle" fill="#222" stroke="#222" stroke-width="0.12">ns</text>
<line x1="349.5" y1="301.3" x2="357.9" y2="301.3" stroke="#3a6cc0" stroke-width="1.1"/>
<line x1="349.5" y1="299.1" x2="349.5" y2="303.5" stroke="#3a6cc0" stroke-width="1.1"/>
<line x1="357.9" y1="299.1" x2="357.9" y2="303.5" stroke="#3a6cc0" stroke-width="1.1"/>
<line x1="366.5" y1="301.3" x2="380.6" y2="301.3" stroke="#8a1a1e" stroke-width="1.1"/>
<line x1="366.5" y1="299.1" x2="366.5" y2="303.5" stroke="#8a1a1e" stroke-width="1.1"/>
<line x1="380.6" y1="299.1" x2="380.6" y2="303.5" stroke="#8a1a1e" stroke-width="1.1"/>
<line x1="353.6" y1="323.2" x2="368.3" y2="323.2" stroke="#8a1a1e" stroke-width="1.1"/>
<line x1="353.6" y1="321.0" x2="353.6" y2="325.4" stroke="#8a1a1e" stroke-width="1.1"/>
<line x1="368.3" y1="321.0" x2="368.3" y2="325.4" stroke="#8a1a1e" stroke-width="1.1"/>
<line x1="358.5" y1="323.2" x2="367.7" y2="323.2" stroke="#3a6cc0" stroke-width="1.1"/>
<line x1="358.5" y1="321.0" x2="358.5" y2="325.4" stroke="#3a6cc0" stroke-width="1.1"/>
<line x1="367.7" y1="321.0" x2="367.7" y2="325.4" stroke="#3a6cc0" stroke-width="1.1"/>
<line x1="336.6" y1="345.1" x2="353.9" y2="345.1" stroke="#8a1a1e" stroke-width="1.1"/>
<line x1="336.6" y1="342.90000000000003" x2="336.6" y2="347.3" stroke="#8a1a1e" stroke-width="1.1"/>
<line x1="353.9" y1="342.90000000000003" x2="353.9" y2="347.3" stroke="#8a1a1e" stroke-width="1.1"/>
<line x1="348.2" y1="345.1" x2="360.6" y2="345.1" stroke="#3a6cc0" stroke-width="1.1"/>
<line x1="348.2" y1="342.90000000000003" x2="348.2" y2="347.3" stroke="#3a6cc0" stroke-width="1.1"/>
<line x1="360.6" y1="342.90000000000003" x2="360.6" y2="347.3" stroke="#3a6cc0" stroke-width="1.1"/>
<line x1="337.0" y1="366.7" x2="342.5" y2="366.7" stroke="#3a6cc0" stroke-width="1.1"/>
<line x1="337.0" y1="364.5" x2="337.0" y2="368.9" stroke="#3a6cc0" stroke-width="1.1"/>
<line x1="342.5" y1="364.5" x2="342.5" y2="368.9" stroke="#3a6cc0" stroke-width="1.1"/>
<line x1="336.6" y1="366.7" x2="343.5" y2="366.7" stroke="#8a1a1e" stroke-width="1.1"/>
<line x1="336.6" y1="364.5" x2="336.6" y2="368.9" stroke="#8a1a1e" stroke-width="1.1"/>
<line x1="343.5" y1="364.5" x2="343.5" y2="368.9" stroke="#8a1a1e" stroke-width="1.1"/>
<circle cx="353.6" cy="301.3" r="1.6" fill="#3a6cc0"/>
<circle cx="373.7" cy="301.3" r="1.8" fill="#8a1a1e"/>
<circle cx="360.8" cy="323.2" r="1.8" fill="#8a1a1e"/>
<circle cx="363.9" cy="323.2" r="1.6" fill="#3a6cc0"/>
<circle cx="345.1" cy="345.1" r="1.8" fill="#8a1a1e"/>
<circle cx="355.1" cy="345.1" r="1.6" fill="#3a6cc0"/>
<circle cx="339.5" cy="366.7" r="1.6" fill="#3a6cc0"/>
<circle cx="340.0" cy="366.7" r="1.8" fill="#8a1a1e"/>
<circle cx="315.3" cy="425.2" r="1.6" fill="#3a6cc0"/>
<circle cx="315.3" cy="436.6" r="1.6" fill="#8a1a1e"/>
<text x="320.6" y="427.8" font-size="9" textLength="60.4" lengthAdjust="spacingAndGlyphs" fill="#111" stroke="#111" stroke-width="0.12">No GVHD onset</text>
<text x="320.6" y="439.8" font-size="9" textLength="69.9" lengthAdjust="spacingAndGlyphs" fill="#111" stroke="#111" stroke-width="0.12">GVHD post d30 Tx</text>
</svg>
</body></html>
